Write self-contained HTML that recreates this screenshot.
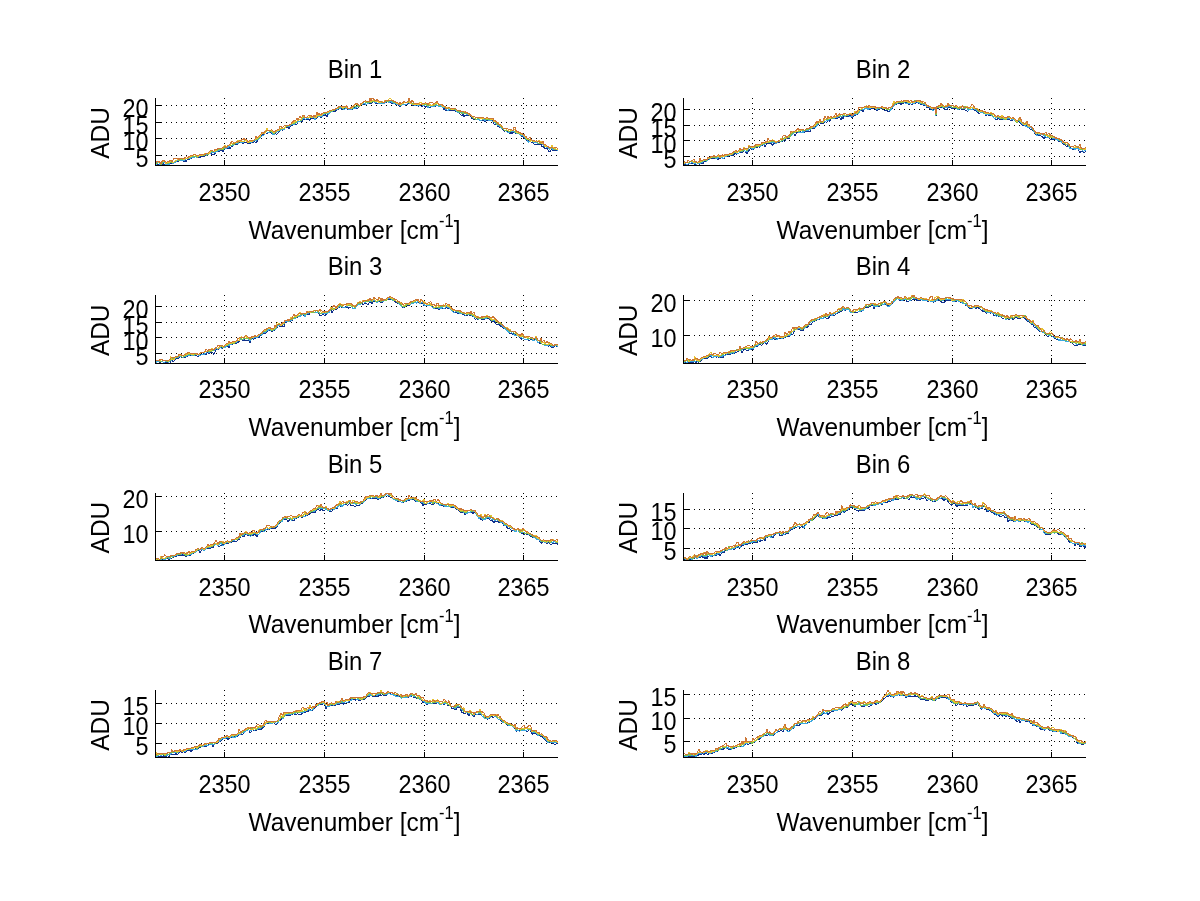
<!DOCTYPE html><html><head><meta charset="utf-8"><title>Bins</title><style>html,body{margin:0;padding:0;background:#fff;overflow:hidden}svg{display:block;will-change:transform}</style></head><body>
<svg width="1200" height="901" viewBox="0 0 1200 901" font-family="'Liberation Sans', Arial, Helvetica, sans-serif">
<rect width="1200" height="901" fill="#fff"/>
<g stroke="#000" stroke-width="1" stroke-dasharray="1 4" fill="none" shape-rendering="crispEdges"><line x1="156.0" y1="105.5" x2="557.5" y2="105.5"/><line x1="156.0" y1="122.5" x2="557.5" y2="122.5"/><line x1="156.0" y1="138.5" x2="557.5" y2="138.5"/><line x1="156.0" y1="155.5" x2="557.5" y2="155.5"/><line x1="224.5" y1="98.0" x2="224.5" y2="165.0"/><line x1="324.5" y1="98.0" x2="324.5" y2="165.0"/><line x1="424.5" y1="98.0" x2="424.5" y2="165.0"/><line x1="523.5" y1="98.0" x2="523.5" y2="165.0"/></g>
<polyline fill="none" stroke="#10308c" stroke-width="1" shape-rendering="crispEdges" points="156.0,165.3 157.0,165.5 158.0,164.5 159.0,164.0 160.0,164.5 161.0,165.5 162.0,164.7 163.0,163.2 164.0,164.5 165.0,164.3 166.0,165.2 167.0,165.2 168.0,165.5 169.0,165.5 170.0,164.3 171.0,162.1 172.0,163.4 173.0,163.5 174.0,163.2 175.0,162.6 176.0,162.0 177.0,161.7 178.0,161.4 179.0,161.0 180.0,160.9 181.0,160.5 182.0,160.1 183.0,161.0 184.0,162.0 185.0,160.4 186.0,161.6 187.0,160.0 188.0,159.6 189.0,159.4 190.0,158.9 191.0,158.4 192.0,157.9 193.0,157.3 194.0,157.0 195.0,156.7 196.0,157.0 197.0,157.5 198.0,157.2 199.0,157.5 200.0,157.3 201.0,156.7 202.0,156.2 203.0,156.3 204.0,156.3 205.0,155.6 206.0,155.5 207.0,155.7 208.0,155.0 209.0,153.9 210.0,152.9 211.0,153.7 212.0,154.5 213.0,154.5 214.0,154.5 215.0,153.5 216.0,151.7 217.0,151.7 218.0,151.8 219.0,151.4 220.0,151.0 221.0,150.3 222.0,150.1 223.0,151.5 224.0,150.0 225.0,148.4 226.0,148.9 227.0,147.2 228.0,148.9 229.0,147.7 230.0,148.6 231.0,146.9 232.0,146.5 233.0,145.4 234.0,144.4 235.0,144.5 236.0,144.2 237.0,143.9 238.0,144.2 239.0,142.8 240.0,143.1 241.0,142.8 242.0,142.7 243.0,143.3 244.0,142.6 245.0,142.3 246.0,141.9 247.0,142.9 248.0,143.7 249.0,143.9 250.0,143.6 251.0,142.0 252.0,143.1 253.0,142.5 254.0,141.9 255.0,141.8 256.0,142.5 257.0,141.6 258.0,139.7 259.0,138.5 260.0,137.2 261.0,136.1 262.0,134.9 263.0,134.4 264.0,134.4 265.0,132.8 266.0,132.8 267.0,134.1 268.0,133.2 269.0,132.4 270.0,132.3 271.0,132.8 272.0,134.3 273.0,133.9 274.0,134.4 275.0,133.8 276.0,133.9 277.0,134.3 278.0,133.0 279.0,131.8 280.0,130.7 281.0,129.7 282.0,130.1 283.0,130.1 284.0,129.4 285.0,128.2 286.0,127.4 287.0,127.1 288.0,127.0 289.0,128.4 290.0,127.0 291.0,126.2 292.0,125.5 293.0,124.9 294.0,124.5 295.0,124.0 296.0,124.2 297.0,124.3 298.0,121.9 299.0,122.0 300.0,121.7 301.0,120.7 302.0,121.5 303.0,118.6 304.0,119.9 305.0,119.0 306.0,119.5 307.0,119.4 308.0,119.3 309.0,119.3 310.0,120.4 311.0,117.7 312.0,118.6 313.0,118.4 314.0,118.5 315.0,119.8 316.0,118.6 317.0,117.4 318.0,116.8 319.0,116.2 320.0,116.6 321.0,117.4 322.0,117.1 323.0,116.1 324.0,115.7 325.0,115.2 326.0,114.7 327.0,116.5 328.0,114.4 329.0,113.3 330.0,112.2 331.0,112.2 332.0,111.5 333.0,111.3 334.0,111.1 335.0,111.3 336.0,110.7 337.0,110.1 338.0,109.5 339.0,108.6 340.0,108.5 341.0,108.6 342.0,109.3 343.0,110.0 344.0,109.9 345.0,108.7 346.0,108.4 347.0,108.5 348.0,109.5 349.0,109.2 350.0,110.0 351.0,109.8 352.0,109.4 353.0,108.6 354.0,107.7 355.0,107.6 356.0,107.6 357.0,109.1 358.0,108.2 359.0,107.3 360.0,106.1 361.0,105.0 362.0,104.6 363.0,104.0 364.0,104.2 365.0,104.4 366.0,104.3 367.0,103.9 368.0,103.8 369.0,103.5 370.0,102.9 371.0,103.5 372.0,102.7 373.0,101.5 374.0,101.7 375.0,103.1 376.0,103.5 377.0,103.1 378.0,103.6 379.0,103.9 380.0,103.6 381.0,103.4 382.0,103.1 383.0,103.6 384.0,103.9 385.0,102.8 386.0,102.4 387.0,101.0 388.0,101.0 389.0,101.5 390.0,102.0 391.0,102.7 392.0,103.5 393.0,102.3 394.0,103.3 395.0,103.9 396.0,104.7 397.0,104.9 398.0,105.1 399.0,106.3 400.0,107.3 401.0,105.9 402.0,105.0 403.0,104.2 404.0,103.9 405.0,104.5 406.0,105.3 407.0,104.3 408.0,103.5 409.0,102.9 410.0,103.4 411.0,104.2 412.0,104.7 413.0,105.2 414.0,105.4 415.0,105.6 416.0,105.5 417.0,105.3 418.0,105.9 419.0,106.2 420.0,105.4 421.0,105.9 422.0,106.5 423.0,104.9 424.0,105.4 425.0,107.3 426.0,106.6 427.0,106.5 428.0,108.0 429.0,107.5 430.0,107.4 431.0,106.0 432.0,105.8 433.0,106.0 434.0,106.1 435.0,106.3 436.0,105.4 437.0,105.7 438.0,105.6 439.0,107.3 440.0,106.1 441.0,106.4 442.0,106.8 443.0,107.6 444.0,110.2 445.0,107.5 446.0,110.4 447.0,110.3 448.0,110.1 449.0,109.7 450.0,110.2 451.0,110.2 452.0,110.3 453.0,110.7 454.0,111.1 455.0,110.8 456.0,111.3 457.0,112.2 458.0,112.9 459.0,112.8 460.0,114.3 461.0,115.0 462.0,116.0 463.0,113.4 464.0,116.5 465.0,115.7 466.0,114.9 467.0,115.6 468.0,116.0 469.0,114.7 470.0,115.8 471.0,116.8 472.0,118.6 473.0,119.0 474.0,119.4 475.0,119.4 476.0,119.3 477.0,119.6 478.0,119.3 479.0,119.8 480.0,120.9 481.0,120.7 482.0,120.5 483.0,120.3 484.0,120.7 485.0,121.3 486.0,121.2 487.0,120.6 488.0,120.8 489.0,120.9 490.0,121.0 491.0,120.7 492.0,120.3 493.0,120.7 494.0,124.0 495.0,125.3 496.0,123.6 497.0,125.1 498.0,126.5 499.0,126.8 500.0,127.2 501.0,127.5 502.0,128.6 503.0,129.7 504.0,131.2 505.0,131.1 506.0,130.8 507.0,131.4 508.0,131.8 509.0,132.7 510.0,133.6 511.0,131.3 512.0,133.5 513.0,132.1 514.0,132.5 515.0,133.0 516.0,133.9 517.0,133.9 518.0,133.8 519.0,133.9 520.0,134.3 521.0,135.6 522.0,136.7 523.0,136.8 524.0,137.7 525.0,138.5 526.0,139.3 527.0,140.3 528.0,139.8 529.0,141.1 530.0,140.9 531.0,142.0 532.0,142.1 533.0,142.1 534.0,144.0 535.0,144.5 536.0,145.0 537.0,144.2 538.0,143.8 539.0,144.3 540.0,144.6 541.0,144.1 542.0,146.5 543.0,146.2 544.0,147.5 545.0,148.3 546.0,149.1 547.0,148.6 548.0,150.0 549.0,151.4 550.0,151.6 551.0,150.3 552.0,149.0 553.0,150.9 554.0,150.9 555.0,150.9 556.0,150.9 557.0,150.9 558.0,151.0"/>
<polyline fill="none" stroke="#3aa8e0" stroke-width="1" shape-rendering="crispEdges" points="156.0,164.4 157.0,163.5 158.0,162.5 159.0,163.0 160.0,164.7 161.0,165.5 162.0,164.2 163.0,162.2 164.0,162.1 165.0,162.7 166.0,164.4 167.0,164.4 168.0,164.3 169.0,164.7 170.0,162.9 171.0,161.3 172.0,162.8 173.0,163.2 174.0,162.9 175.0,162.4 176.0,162.0 177.0,160.9 178.0,160.0 179.0,160.1 180.0,160.5 181.0,160.5 182.0,161.1 183.0,160.7 184.0,160.3 185.0,159.7 186.0,159.2 187.0,158.7 188.0,157.9 189.0,158.8 190.0,159.1 191.0,157.8 192.0,157.2 193.0,157.6 194.0,158.0 195.0,156.3 196.0,157.2 197.0,157.6 198.0,157.1 199.0,156.7 200.0,155.6 201.0,155.4 202.0,155.6 203.0,155.5 204.0,155.3 205.0,155.1 206.0,154.9 207.0,155.1 208.0,154.4 209.0,154.0 210.0,153.7 211.0,153.1 212.0,152.5 213.0,152.5 214.0,152.6 215.0,152.2 216.0,151.7 217.0,151.6 218.0,150.8 219.0,150.2 220.0,149.9 221.0,149.8 222.0,150.1 223.0,148.8 224.0,148.4 225.0,147.9 226.0,148.8 227.0,147.4 228.0,147.3 229.0,146.4 230.0,145.8 231.0,145.3 232.0,145.7 233.0,146.1 234.0,145.1 235.0,144.1 236.0,143.5 237.0,143.2 238.0,143.6 239.0,141.9 240.0,142.1 241.0,142.4 242.0,142.2 243.0,142.9 244.0,141.4 245.0,140.9 246.0,140.4 247.0,141.9 248.0,143.1 249.0,142.6 250.0,142.1 251.0,142.0 252.0,142.0 253.0,141.5 254.0,141.0 255.0,140.4 256.0,140.7 257.0,140.0 258.0,139.3 259.0,138.5 260.0,137.8 261.0,136.8 262.0,135.9 263.0,135.1 264.0,135.2 265.0,132.6 266.0,130.9 267.0,132.0 268.0,132.6 269.0,132.6 270.0,131.8 271.0,131.0 272.0,132.8 273.0,134.4 274.0,134.4 275.0,133.2 276.0,132.2 277.0,131.8 278.0,131.3 279.0,130.5 280.0,130.9 281.0,130.1 282.0,129.8 283.0,129.2 284.0,129.7 285.0,127.8 286.0,126.8 287.0,126.7 288.0,126.7 289.0,127.1 290.0,125.9 291.0,124.7 292.0,124.2 293.0,123.8 294.0,124.3 295.0,123.6 296.0,122.8 297.0,122.3 298.0,121.4 299.0,121.7 300.0,121.3 301.0,120.9 302.0,119.5 303.0,118.2 304.0,118.6 305.0,119.0 306.0,119.1 307.0,118.8 308.0,118.5 309.0,118.1 310.0,117.6 311.0,117.5 312.0,117.3 313.0,117.4 314.0,117.5 315.0,120.1 316.0,117.9 317.0,115.6 318.0,116.2 319.0,116.8 320.0,115.0 321.0,116.4 322.0,116.5 323.0,115.1 324.0,114.5 325.0,113.7 326.0,113.5 327.0,113.4 328.0,113.3 329.0,114.4 330.0,112.1 331.0,112.1 332.0,111.4 333.0,110.8 334.0,110.7 335.0,110.2 336.0,109.5 337.0,109.2 338.0,108.9 339.0,107.8 340.0,108.3 341.0,107.4 342.0,108.1 343.0,109.0 344.0,109.2 345.0,108.9 346.0,108.8 347.0,108.7 348.0,109.0 349.0,109.5 350.0,110.0 351.0,109.4 352.0,108.8 353.0,108.9 354.0,108.5 355.0,108.7 356.0,107.4 357.0,106.1 358.0,106.5 359.0,106.5 360.0,105.7 361.0,104.8 362.0,104.4 363.0,103.5 364.0,103.3 365.0,103.4 366.0,104.4 367.0,103.9 368.0,103.4 369.0,102.7 370.0,102.9 371.0,103.0 372.0,102.3 373.0,101.2 374.0,101.5 375.0,102.3 376.0,102.5 377.0,101.9 378.0,101.8 379.0,103.4 380.0,103.5 381.0,103.0 382.0,103.0 383.0,103.7 384.0,103.7 385.0,102.9 386.0,102.1 387.0,100.9 388.0,101.8 389.0,102.7 390.0,101.1 391.0,101.7 392.0,102.6 393.0,103.2 394.0,103.7 395.0,102.9 396.0,103.4 397.0,104.4 398.0,104.8 399.0,105.1 400.0,105.9 401.0,105.3 402.0,104.9 403.0,104.2 404.0,104.1 405.0,104.2 406.0,104.3 407.0,103.9 408.0,103.0 409.0,102.1 410.0,103.7 411.0,104.1 412.0,104.4 413.0,104.7 414.0,104.9 415.0,105.5 416.0,104.7 417.0,104.8 418.0,105.3 419.0,105.9 420.0,105.0 421.0,104.7 422.0,105.0 423.0,105.5 424.0,105.4 425.0,105.1 426.0,104.8 427.0,106.1 428.0,107.5 429.0,104.4 430.0,105.9 431.0,106.1 432.0,106.2 433.0,106.2 434.0,106.3 435.0,105.6 436.0,104.8 437.0,105.2 438.0,105.1 439.0,106.8 440.0,105.8 441.0,106.3 442.0,106.2 443.0,107.8 444.0,106.8 445.0,107.8 446.0,109.5 447.0,110.0 448.0,110.6 449.0,108.5 450.0,109.9 451.0,109.8 452.0,109.7 453.0,109.8 454.0,110.0 455.0,109.9 456.0,110.7 457.0,111.6 458.0,113.2 459.0,112.4 460.0,112.1 461.0,112.5 462.0,113.3 463.0,113.2 464.0,113.3 465.0,113.3 466.0,113.8 467.0,115.3 468.0,114.0 469.0,115.0 470.0,116.1 471.0,115.7 472.0,116.9 473.0,118.2 474.0,118.9 475.0,118.9 476.0,119.3 477.0,119.5 478.0,118.8 479.0,119.6 480.0,120.5 481.0,120.2 482.0,120.0 483.0,119.8 484.0,119.7 485.0,120.3 486.0,119.8 487.0,119.2 488.0,120.2 489.0,119.8 490.0,120.5 491.0,120.5 492.0,120.9 493.0,121.3 494.0,122.0 495.0,122.6 496.0,123.5 497.0,124.4 498.0,125.4 499.0,126.0 500.0,126.6 501.0,127.7 502.0,128.8 503.0,129.1 504.0,130.0 505.0,130.9 506.0,130.1 507.0,131.7 508.0,133.2 509.0,132.4 510.0,131.6 511.0,131.0 512.0,131.3 513.0,131.5 514.0,131.8 515.0,132.2 516.0,133.1 517.0,133.0 518.0,133.1 519.0,133.8 520.0,134.8 521.0,135.5 522.0,136.0 523.0,135.8 524.0,136.3 525.0,138.2 526.0,139.4 527.0,140.2 528.0,142.2 529.0,141.8 530.0,141.3 531.0,140.3 532.0,141.0 533.0,141.8 534.0,142.6 535.0,143.0 536.0,142.5 537.0,143.1 538.0,143.1 539.0,143.1 540.0,143.7 541.0,143.5 542.0,144.0 543.0,144.5 544.0,146.1 545.0,146.9 546.0,147.0 547.0,147.1 548.0,148.2 549.0,149.2 550.0,149.0 551.0,148.7 552.0,148.5 553.0,149.4 554.0,149.5 555.0,149.7 556.0,149.7 557.0,149.7 558.0,151.0"/>
<polyline fill="none" stroke="#7cc04c" stroke-width="1" shape-rendering="crispEdges" points="156.0,163.5 157.0,162.9 158.0,163.2 159.0,162.7 160.0,162.1 161.0,165.4 162.0,163.6 163.0,161.8 164.0,161.7 165.0,161.6 166.0,163.0 167.0,162.9 168.0,163.2 169.0,162.8 170.0,162.5 171.0,161.6 172.0,163.1 173.0,162.9 174.0,161.8 175.0,161.7 176.0,160.8 177.0,160.0 178.0,159.8 179.0,160.4 180.0,159.8 181.0,159.2 182.0,159.1 183.0,159.4 184.0,159.3 185.0,158.3 186.0,158.6 187.0,158.6 188.0,158.6 189.0,157.9 190.0,157.3 191.0,156.7 192.0,156.7 193.0,156.6 194.0,156.2 195.0,156.0 196.0,156.2 197.0,157.0 198.0,157.0 199.0,156.2 200.0,155.0 201.0,155.2 202.0,155.5 203.0,155.6 204.0,155.2 205.0,154.9 206.0,154.9 207.0,155.2 208.0,154.4 209.0,153.5 210.0,152.6 211.0,151.5 212.0,151.2 213.0,151.9 214.0,152.1 215.0,151.6 216.0,151.2 217.0,150.5 218.0,149.8 219.0,149.6 220.0,149.5 221.0,149.1 222.0,149.1 223.0,149.3 224.0,148.4 225.0,147.3 226.0,148.2 227.0,147.1 228.0,146.0 229.0,144.9 230.0,146.0 231.0,145.5 232.0,145.0 233.0,144.9 234.0,144.8 235.0,143.5 236.0,143.1 237.0,142.4 238.0,142.7 239.0,142.1 240.0,141.7 241.0,141.6 242.0,141.7 243.0,142.0 244.0,141.0 245.0,140.8 246.0,140.5 247.0,140.4 248.0,142.3 249.0,142.6 250.0,141.6 251.0,140.8 252.0,141.1 253.0,140.9 254.0,140.3 255.0,139.6 256.0,139.6 257.0,139.7 258.0,138.7 259.0,137.7 260.0,136.6 261.0,135.3 262.0,133.9 263.0,132.6 264.0,133.2 265.0,132.3 266.0,131.2 267.0,131.0 268.0,130.9 269.0,131.0 270.0,131.2 271.0,131.0 272.0,131.7 273.0,132.6 274.0,133.3 275.0,132.4 276.0,131.5 277.0,130.8 278.0,130.3 279.0,130.4 280.0,129.5 281.0,128.5 282.0,127.5 283.0,128.6 284.0,129.1 285.0,127.9 286.0,126.7 287.0,126.3 288.0,125.7 289.0,126.1 290.0,125.2 291.0,124.4 292.0,123.7 293.0,122.5 294.0,123.5 295.0,123.0 296.0,122.5 297.0,121.3 298.0,119.6 299.0,119.5 300.0,119.1 301.0,120.9 302.0,119.0 303.0,117.2 304.0,117.5 305.0,117.7 306.0,118.0 307.0,117.8 308.0,117.5 309.0,117.5 310.0,117.4 311.0,117.2 312.0,118.2 313.0,116.8 314.0,116.1 315.0,116.8 316.0,116.7 317.0,116.5 318.0,115.6 319.0,115.0 320.0,115.2 321.0,115.4 322.0,114.8 323.0,114.1 324.0,113.6 325.0,113.5 326.0,113.3 327.0,112.6 328.0,111.9 329.0,111.9 330.0,111.8 331.0,111.3 332.0,110.9 333.0,110.7 334.0,110.5 335.0,110.0 336.0,108.9 337.0,108.7 338.0,108.4 339.0,107.7 340.0,106.6 341.0,107.0 342.0,108.0 343.0,108.3 344.0,107.8 345.0,107.8 346.0,107.8 347.0,108.0 348.0,108.6 349.0,108.6 350.0,108.6 351.0,108.5 352.0,108.3 353.0,107.5 354.0,106.7 355.0,106.9 356.0,107.1 357.0,105.7 358.0,106.1 359.0,106.5 360.0,105.3 361.0,104.1 362.0,103.5 363.0,102.4 364.0,101.4 365.0,101.5 366.0,102.4 367.0,102.5 368.0,102.6 369.0,102.5 370.0,102.4 371.0,102.3 372.0,101.5 373.0,101.2 374.0,101.0 375.0,101.6 376.0,102.1 377.0,101.8 378.0,101.4 379.0,101.5 380.0,102.4 381.0,102.8 382.0,102.2 383.0,102.4 384.0,102.5 385.0,102.2 386.0,101.1 387.0,101.1 388.0,101.1 389.0,101.2 390.0,100.5 391.0,100.2 392.0,101.0 393.0,102.2 394.0,102.2 395.0,102.2 396.0,102.4 397.0,102.5 398.0,103.9 399.0,103.6 400.0,105.0 401.0,105.0 402.0,104.3 403.0,103.3 404.0,102.8 405.0,102.9 406.0,102.9 407.0,102.7 408.0,102.7 409.0,102.3 410.0,103.0 411.0,103.6 412.0,104.0 413.0,103.5 414.0,104.2 415.0,104.9 416.0,104.3 417.0,103.8 418.0,104.4 419.0,105.0 420.0,104.3 421.0,104.2 422.0,103.7 423.0,103.3 424.0,104.9 425.0,104.4 426.0,104.6 427.0,105.3 428.0,105.9 429.0,104.6 430.0,105.7 431.0,105.7 432.0,105.4 433.0,104.9 434.0,105.2 435.0,104.9 436.0,105.0 437.0,103.7 438.0,104.0 439.0,106.1 440.0,104.8 441.0,105.0 442.0,105.0 443.0,106.7 444.0,107.1 445.0,107.4 446.0,108.9 447.0,108.3 448.0,108.3 449.0,107.8 450.0,109.2 451.0,109.5 452.0,109.3 453.0,109.3 454.0,109.3 455.0,108.7 456.0,109.7 457.0,110.7 458.0,111.5 459.0,111.5 460.0,112.4 461.0,113.0 462.0,113.5 463.0,112.2 464.0,112.8 465.0,113.4 466.0,113.2 467.0,113.3 468.0,114.3 469.0,114.8 470.0,115.4 471.0,115.1 472.0,116.3 473.0,117.4 474.0,118.7 475.0,117.9 476.0,119.4 477.0,119.0 478.0,118.5 479.0,118.1 480.0,118.3 481.0,118.9 482.0,119.0 483.0,119.2 484.0,118.6 485.0,119.1 486.0,119.6 487.0,118.4 488.0,119.4 489.0,119.1 490.0,119.7 491.0,119.1 492.0,118.6 493.0,118.8 494.0,121.2 495.0,122.0 496.0,123.1 497.0,124.4 498.0,125.0 499.0,124.7 500.0,125.8 501.0,126.8 502.0,127.8 503.0,128.3 504.0,129.9 505.0,130.5 506.0,129.9 507.0,130.2 508.0,131.1 509.0,131.1 510.0,131.2 511.0,131.2 512.0,130.7 513.0,130.5 514.0,130.9 515.0,131.3 516.0,132.4 517.0,132.8 518.0,133.2 519.0,133.3 520.0,133.6 521.0,134.6 522.0,134.8 523.0,135.0 524.0,136.1 525.0,137.2 526.0,138.7 527.0,139.8 528.0,139.4 529.0,138.7 530.0,140.4 531.0,140.3 532.0,141.1 533.0,142.0 534.0,141.3 535.0,141.2 536.0,141.9 537.0,141.9 538.0,143.2 539.0,143.1 540.0,143.6 541.0,143.2 542.0,143.7 543.0,143.7 544.0,144.2 545.0,146.5 546.0,147.2 547.0,146.0 548.0,147.1 549.0,148.1 550.0,148.0 551.0,147.9 552.0,147.7 553.0,148.6 554.0,148.8 555.0,149.2 556.0,149.8 557.0,148.9 558.0,149.0"/>
<polyline fill="none" stroke="#e8c030" stroke-width="1" shape-rendering="crispEdges" points="156.0,162.9 157.0,162.0 158.0,161.9 159.0,162.9 160.0,162.9 161.0,163.6 162.0,162.2 163.0,160.7 164.0,161.4 165.0,162.2 166.0,164.1 167.0,162.7 168.0,162.8 169.0,163.1 170.0,162.0 171.0,160.3 172.0,162.0 173.0,162.5 174.0,161.8 175.0,160.9 176.0,160.3 177.0,160.0 178.0,159.3 179.0,158.8 180.0,158.0 181.0,158.4 182.0,158.4 183.0,159.0 184.0,159.3 185.0,158.7 186.0,158.3 187.0,158.4 188.0,157.9 189.0,157.4 190.0,156.8 191.0,156.3 192.0,155.8 193.0,155.4 194.0,154.4 195.0,154.4 196.0,155.5 197.0,156.2 198.0,156.1 199.0,156.0 200.0,155.1 201.0,155.0 202.0,155.1 203.0,155.1 204.0,154.4 205.0,153.7 206.0,154.1 207.0,153.9 208.0,153.9 209.0,153.8 210.0,152.4 211.0,151.0 212.0,150.1 213.0,150.9 214.0,151.8 215.0,150.9 216.0,150.5 217.0,149.7 218.0,148.9 219.0,148.4 220.0,148.0 221.0,148.0 222.0,148.5 223.0,148.1 224.0,146.6 225.0,145.2 226.0,147.1 227.0,146.7 228.0,145.9 229.0,145.1 230.0,145.2 231.0,143.8 232.0,143.7 233.0,143.6 234.0,143.9 235.0,142.2 236.0,142.5 237.0,141.0 238.0,140.4 239.0,141.5 240.0,141.0 241.0,141.4 242.0,140.9 243.0,141.4 244.0,141.2 245.0,140.9 246.0,140.0 247.0,141.4 248.0,142.6 249.0,142.0 250.0,141.3 251.0,141.9 252.0,141.5 253.0,140.6 254.0,140.1 255.0,139.5 256.0,138.6 257.0,138.6 258.0,137.6 259.0,135.8 260.0,136.5 261.0,135.2 262.0,133.8 263.0,133.5 264.0,134.1 265.0,133.1 266.0,130.0 267.0,128.3 268.0,131.0 269.0,130.3 270.0,130.4 271.0,130.2 272.0,130.5 273.0,132.1 274.0,132.6 275.0,132.1 276.0,131.6 277.0,130.8 278.0,130.0 279.0,130.0 280.0,129.2 281.0,128.4 282.0,128.1 283.0,128.1 284.0,128.0 285.0,127.5 286.0,126.0 287.0,125.8 288.0,125.6 289.0,126.1 290.0,125.1 291.0,124.2 292.0,123.3 293.0,122.6 294.0,122.5 295.0,121.1 296.0,121.1 297.0,121.1 298.0,120.0 299.0,120.2 300.0,119.5 301.0,119.4 302.0,117.9 303.0,116.8 304.0,116.6 305.0,117.2 306.0,117.8 307.0,116.8 308.0,117.3 309.0,117.2 310.0,116.7 311.0,116.7 312.0,117.4 313.0,116.9 314.0,116.1 315.0,117.7 316.0,117.5 317.0,115.6 318.0,115.5 319.0,115.4 320.0,114.7 321.0,115.4 322.0,114.7 323.0,113.7 324.0,112.8 325.0,112.7 326.0,112.5 327.0,112.9 328.0,112.5 329.0,111.9 330.0,110.8 331.0,110.5 332.0,110.3 333.0,109.9 334.0,110.0 335.0,109.6 336.0,108.9 337.0,108.6 338.0,107.3 339.0,106.2 340.0,106.5 341.0,106.8 342.0,107.5 343.0,107.6 344.0,107.7 345.0,106.0 346.0,107.0 347.0,108.3 348.0,108.2 349.0,108.1 350.0,108.8 351.0,107.7 352.0,108.3 353.0,106.9 354.0,105.5 355.0,105.0 356.0,104.6 357.0,104.8 358.0,105.0 359.0,105.7 360.0,105.4 361.0,105.0 362.0,103.4 363.0,101.7 364.0,102.0 365.0,101.4 366.0,101.6 367.0,101.7 368.0,101.9 369.0,101.3 370.0,100.4 371.0,101.7 372.0,100.7 373.0,100.3 374.0,99.9 375.0,100.7 376.0,101.6 377.0,101.6 378.0,101.7 379.0,102.2 380.0,102.7 381.0,102.1 382.0,101.5 383.0,102.3 384.0,102.9 385.0,100.4 386.0,100.4 387.0,100.4 388.0,100.3 389.0,99.1 390.0,98.0 391.0,98.8 392.0,99.8 393.0,100.9 394.0,101.7 395.0,101.5 396.0,102.7 397.0,103.7 398.0,103.6 399.0,103.6 400.0,104.7 401.0,104.6 402.0,103.7 403.0,103.5 404.0,102.7 405.0,101.9 406.0,102.4 407.0,102.3 408.0,101.8 409.0,101.7 410.0,102.6 411.0,103.5 412.0,104.0 413.0,104.5 414.0,104.5 415.0,104.6 416.0,104.3 417.0,103.7 418.0,104.4 419.0,103.8 420.0,102.7 421.0,102.3 422.0,104.0 423.0,104.3 424.0,103.6 425.0,103.1 426.0,103.1 427.0,103.7 428.0,104.5 429.0,103.4 430.0,104.8 431.0,105.2 432.0,105.5 433.0,104.6 434.0,104.3 435.0,103.7 436.0,103.0 437.0,103.3 438.0,103.7 439.0,104.0 440.0,104.1 441.0,104.9 442.0,105.8 443.0,106.5 444.0,106.8 445.0,106.6 446.0,108.7 447.0,107.3 448.0,107.7 449.0,107.7 450.0,108.3 451.0,109.0 452.0,109.3 453.0,109.2 454.0,108.8 455.0,108.4 456.0,108.8 457.0,110.6 458.0,110.8 459.0,110.2 460.0,111.1 461.0,111.4 462.0,111.8 463.0,111.6 464.0,111.5 465.0,112.3 466.0,112.5 467.0,113.1 468.0,114.0 469.0,114.0 470.0,114.5 471.0,115.1 472.0,116.5 473.0,117.1 474.0,118.0 475.0,118.1 476.0,117.8 477.0,117.3 478.0,117.7 479.0,118.1 480.0,118.4 481.0,118.5 482.0,118.6 483.0,118.5 484.0,118.5 485.0,118.5 486.0,118.9 487.0,117.7 488.0,118.3 489.0,118.1 490.0,118.6 491.0,119.3 492.0,119.4 493.0,119.7 494.0,121.4 495.0,121.2 496.0,122.0 497.0,123.3 498.0,121.9 499.0,125.0 500.0,124.9 501.0,125.7 502.0,126.6 503.0,128.2 504.0,128.9 505.0,128.6 506.0,128.9 507.0,130.3 508.0,130.5 509.0,129.8 510.0,130.0 511.0,130.3 512.0,130.6 513.0,130.4 514.0,130.1 515.0,128.9 516.0,130.9 517.0,132.4 518.0,132.4 519.0,132.6 520.0,133.3 521.0,134.0 522.0,134.2 523.0,134.1 524.0,135.7 525.0,136.4 526.0,138.1 527.0,138.5 528.0,138.8 529.0,140.0 530.0,141.2 531.0,140.8 532.0,140.7 533.0,141.1 534.0,141.6 535.0,141.4 536.0,141.2 537.0,141.4 538.0,142.0 539.0,140.5 540.0,140.9 541.0,141.6 542.0,143.4 543.0,143.6 544.0,145.1 545.0,145.8 546.0,146.2 547.0,146.6 548.0,147.0 549.0,147.9 550.0,148.0 551.0,148.1 552.0,145.3 553.0,147.0 554.0,148.0 555.0,148.9 556.0,149.0 557.0,149.1 558.0,149.8"/>
<polyline fill="none" stroke="#cc7636" stroke-width="1" shape-rendering="crispEdges" points="156.0,162.3 157.0,161.5 158.0,160.8 159.0,161.6 160.0,162.4 161.0,163.8 162.0,161.6 163.0,160.3 164.0,160.8 165.0,161.3 166.0,162.3 167.0,161.9 168.0,162.1 169.0,161.4 170.0,160.7 171.0,159.9 172.0,161.5 173.0,160.4 174.0,158.5 175.0,158.2 176.0,158.0 177.0,158.9 178.0,158.2 179.0,159.6 180.0,158.2 181.0,158.5 182.0,158.9 183.0,158.6 184.0,158.3 185.0,157.6 186.0,156.9 187.0,157.1 188.0,157.3 189.0,156.7 190.0,155.8 191.0,155.9 192.0,155.5 193.0,155.1 194.0,154.7 195.0,154.4 196.0,154.9 197.0,155.7 198.0,155.9 199.0,155.0 200.0,154.7 201.0,154.4 202.0,154.0 203.0,154.4 204.0,154.9 205.0,154.3 206.0,153.7 207.0,153.9 208.0,153.2 209.0,152.1 210.0,151.0 211.0,150.7 212.0,150.2 213.0,150.8 214.0,151.4 215.0,149.6 216.0,149.5 217.0,149.5 218.0,148.4 219.0,148.7 220.0,149.0 221.0,148.7 222.0,147.8 223.0,148.0 224.0,146.9 225.0,146.5 226.0,148.0 227.0,146.7 228.0,145.5 229.0,145.1 230.0,144.1 231.0,142.5 232.0,140.9 233.0,142.1 234.0,143.4 235.0,142.9 236.0,142.1 237.0,141.7 238.0,142.2 239.0,140.9 240.0,140.0 241.0,140.9 242.0,139.7 243.0,139.4 244.0,137.7 245.0,139.9 246.0,139.0 247.0,140.2 248.0,141.4 249.0,141.0 250.0,140.7 251.0,140.5 252.0,140.7 253.0,140.4 254.0,139.8 255.0,139.2 256.0,136.5 257.0,137.3 258.0,137.1 259.0,136.1 260.0,135.0 261.0,133.8 262.0,132.6 263.0,132.6 264.0,133.4 265.0,131.4 266.0,131.2 267.0,130.3 268.0,130.7 269.0,130.6 270.0,130.6 271.0,129.8 272.0,129.9 273.0,130.8 274.0,131.9 275.0,131.8 276.0,130.7 277.0,130.2 278.0,129.5 279.0,128.8 280.0,125.8 281.0,126.4 282.0,127.7 283.0,127.2 284.0,126.0 285.0,125.8 286.0,125.6 287.0,126.0 288.0,125.3 289.0,125.5 290.0,124.4 291.0,123.8 292.0,122.6 293.0,121.6 294.0,120.7 295.0,120.4 296.0,120.0 297.0,118.0 298.0,119.8 299.0,118.4 300.0,116.6 301.0,117.5 302.0,117.1 303.0,115.5 304.0,115.6 305.0,117.4 306.0,117.5 307.0,117.0 308.0,116.2 309.0,115.4 310.0,115.7 311.0,115.5 312.0,117.0 313.0,116.2 314.0,115.7 315.0,116.4 316.0,115.5 317.0,112.3 318.0,114.5 319.0,113.4 320.0,114.3 321.0,115.1 322.0,113.5 323.0,113.0 324.0,112.7 325.0,112.4 326.0,113.0 327.0,112.1 328.0,111.2 329.0,110.9 330.0,110.5 331.0,110.8 332.0,109.9 333.0,109.1 334.0,109.9 335.0,109.4 336.0,108.6 337.0,107.8 338.0,107.2 339.0,106.8 340.0,106.5 341.0,106.3 342.0,106.1 343.0,106.0 344.0,106.7 345.0,107.1 346.0,106.3 347.0,105.8 348.0,108.4 349.0,108.2 350.0,108.7 351.0,107.4 352.0,105.9 353.0,106.7 354.0,105.2 355.0,104.3 356.0,103.8 357.0,103.4 358.0,104.4 359.0,105.4 360.0,104.9 361.0,103.2 362.0,103.0 363.0,102.3 364.0,101.7 365.0,100.9 366.0,100.9 367.0,101.5 368.0,101.5 369.0,101.5 370.0,98.5 371.0,100.7 372.0,98.5 373.0,98.8 374.0,99.2 375.0,100.6 376.0,100.5 377.0,99.7 378.0,100.7 379.0,101.0 380.0,101.4 381.0,101.7 382.0,101.9 383.0,102.2 384.0,102.5 385.0,101.4 386.0,100.2 387.0,100.0 388.0,100.0 389.0,100.0 390.0,100.2 391.0,100.2 392.0,100.0 393.0,100.3 394.0,101.4 395.0,101.7 396.0,102.2 397.0,102.6 398.0,102.9 399.0,104.8 400.0,102.5 401.0,103.6 402.0,103.1 403.0,102.5 404.0,101.3 405.0,102.0 406.0,102.7 407.0,102.1 408.0,101.5 409.0,98.4 410.0,100.7 411.0,103.1 412.0,100.0 413.0,101.5 414.0,103.0 415.0,103.6 416.0,103.7 417.0,103.3 418.0,103.4 419.0,104.2 420.0,104.0 421.0,104.0 422.0,104.1 423.0,103.8 424.0,103.5 425.0,102.8 426.0,102.8 427.0,103.4 428.0,105.2 429.0,102.8 430.0,102.7 431.0,102.4 432.0,102.1 433.0,103.0 434.0,104.3 435.0,103.2 436.0,102.4 437.0,101.5 438.0,103.3 439.0,105.0 440.0,104.1 441.0,104.2 442.0,104.4 443.0,105.4 444.0,105.9 445.0,106.3 446.0,108.8 447.0,108.5 448.0,108.1 449.0,107.7 450.0,108.0 451.0,108.3 452.0,108.9 453.0,109.0 454.0,108.1 455.0,108.3 456.0,109.3 457.0,110.0 458.0,110.8 459.0,110.7 460.0,110.7 461.0,111.2 462.0,111.4 463.0,111.3 464.0,111.9 465.0,112.5 466.0,111.7 467.0,112.8 468.0,113.3 469.0,113.7 470.0,114.2 471.0,115.5 472.0,116.1 473.0,116.7 474.0,116.5 475.0,116.7 476.0,118.1 477.0,117.6 478.0,117.1 479.0,117.6 480.0,117.7 481.0,117.6 482.0,117.6 483.0,117.7 484.0,118.1 485.0,118.5 486.0,118.1 487.0,117.2 488.0,117.8 489.0,118.4 490.0,118.8 491.0,118.2 492.0,119.2 493.0,118.2 494.0,120.4 495.0,120.6 496.0,121.5 497.0,122.5 498.0,123.5 499.0,124.6 500.0,124.3 501.0,124.8 502.0,126.7 503.0,127.8 504.0,128.8 505.0,128.6 506.0,128.2 507.0,128.1 508.0,129.3 509.0,129.7 510.0,129.6 511.0,129.4 512.0,129.8 513.0,130.7 514.0,127.2 515.0,127.4 516.0,130.8 517.0,131.2 518.0,131.5 519.0,132.3 520.0,132.3 521.0,133.5 522.0,133.4 523.0,134.5 524.0,134.3 525.0,135.9 526.0,136.2 527.0,137.9 528.0,139.3 529.0,138.3 530.0,137.2 531.0,139.4 532.0,140.2 533.0,140.4 534.0,140.9 535.0,141.0 536.0,141.0 537.0,140.9 538.0,141.4 539.0,141.8 540.0,142.3 541.0,141.9 542.0,142.8 543.0,140.8 544.0,145.1 545.0,144.4 546.0,145.2 547.0,146.0 548.0,146.2 549.0,147.8 550.0,147.6 551.0,147.4 552.0,147.3 553.0,148.1 554.0,148.1 555.0,147.8 556.0,147.6 557.0,148.2 558.0,148.9"/>
<g stroke="#000" stroke-width="1" fill="none" shape-rendering="crispEdges">
<line x1="155.5" y1="98.0" x2="155.5" y2="166.0"/>
<line x1="155.0" y1="165.5" x2="557.5" y2="165.5"/>
<line x1="155.5" y1="105.5" x2="162.0" y2="105.5"/>
<line x1="155.5" y1="122.5" x2="162.0" y2="122.5"/>
<line x1="155.5" y1="138.5" x2="162.0" y2="138.5"/>
<line x1="155.5" y1="155.5" x2="162.0" y2="155.5"/>
<line x1="224.5" y1="165.5" x2="224.5" y2="159.5"/>
<line x1="324.5" y1="165.5" x2="324.5" y2="159.5"/>
<line x1="424.5" y1="165.5" x2="424.5" y2="159.5"/>
<line x1="523.5" y1="165.5" x2="523.5" y2="159.5"/>
</g>
<g fill="#000" font-size="26">
<text transform="translate(355.0,78.0) scale(0.920,1)" text-anchor="middle">Bin 1</text>
<text transform="translate(224.5,201.0) scale(0.900,1)" text-anchor="middle">2350</text>
<text transform="translate(324.5,201.0) scale(0.900,1)" text-anchor="middle">2355</text>
<text transform="translate(424.5,201.0) scale(0.900,1)" text-anchor="middle">2360</text>
<text transform="translate(523.5,201.0) scale(0.900,1)" text-anchor="middle">2365</text>
<text transform="translate(148.5,117.2) scale(0.900,1)" text-anchor="end">20</text>
<text transform="translate(148.5,134.2) scale(0.900,1)" text-anchor="end">15</text>
<text transform="translate(148.5,150.2) scale(0.900,1)" text-anchor="end">10</text>
<text transform="translate(148.5,167.2) scale(0.900,1)" text-anchor="end">5</text>
<text transform="translate(354.5,238.8) scale(0.940,1)" text-anchor="middle">Wavenumber [cm<tspan font-size="17.5" dy="-11.8">-1</tspan><tspan dy="11.8">]</tspan></text>
<text transform="translate(108.5,133.0) rotate(-90) scale(0.940,1)" text-anchor="middle">ADU</text>
</g>
<g stroke="#000" stroke-width="1" stroke-dasharray="1 4" fill="none" shape-rendering="crispEdges"><line x1="684.0" y1="109.5" x2="1085.5" y2="109.5"/><line x1="684.0" y1="125.5" x2="1085.5" y2="125.5"/><line x1="684.0" y1="140.5" x2="1085.5" y2="140.5"/><line x1="684.0" y1="156.5" x2="1085.5" y2="156.5"/><line x1="752.5" y1="98.0" x2="752.5" y2="165.0"/><line x1="852.5" y1="98.0" x2="852.5" y2="165.0"/><line x1="952.5" y1="98.0" x2="952.5" y2="165.0"/><line x1="1051.5" y1="98.0" x2="1051.5" y2="165.0"/></g>
<polyline fill="none" stroke="#10308c" stroke-width="1" shape-rendering="crispEdges" points="684.0,164.4 685.0,164.1 686.0,164.0 687.0,164.6 688.0,164.9 689.0,164.2 690.0,163.0 691.0,163.2 692.0,163.4 693.0,163.3 694.0,164.2 695.0,164.1 696.0,164.1 697.0,165.3 698.0,165.4 699.0,165.3 700.0,164.1 701.0,163.4 702.0,163.5 703.0,163.6 704.0,162.2 705.0,161.5 706.0,161.5 707.0,161.4 708.0,159.3 709.0,158.8 710.0,158.5 711.0,158.2 712.0,158.5 713.0,158.8 714.0,158.3 715.0,158.6 716.0,158.5 717.0,159.2 718.0,160.0 719.0,158.5 720.0,159.1 721.0,158.0 722.0,156.9 723.0,158.5 724.0,159.1 725.0,157.3 726.0,156.2 727.0,156.8 728.0,156.5 729.0,156.1 730.0,155.8 731.0,155.5 732.0,155.8 733.0,155.7 734.0,154.5 735.0,153.4 736.0,153.8 737.0,154.2 738.0,153.4 739.0,153.0 740.0,152.7 741.0,152.8 742.0,153.0 743.0,151.8 744.0,150.7 745.0,150.7 746.0,152.4 747.0,154.1 748.0,150.1 749.0,151.4 750.0,148.7 751.0,148.9 752.0,150.2 753.0,149.4 754.0,148.6 755.0,148.1 756.0,147.6 757.0,147.2 758.0,146.8 759.0,147.1 760.0,146.9 761.0,146.2 762.0,145.5 763.0,144.9 764.0,144.8 765.0,146.6 766.0,145.0 767.0,143.3 768.0,143.2 769.0,143.0 770.0,143.5 771.0,143.3 772.0,144.5 773.0,145.4 774.0,142.9 775.0,143.2 776.0,143.5 777.0,143.0 778.0,142.5 779.0,143.0 780.0,141.2 781.0,141.6 782.0,142.1 783.0,140.4 784.0,140.9 785.0,141.4 786.0,138.1 787.0,138.6 788.0,138.5 789.0,138.4 790.0,137.3 791.0,136.1 792.0,135.0 793.0,134.0 794.0,133.8 795.0,135.4 796.0,133.7 797.0,132.5 798.0,132.1 799.0,131.7 800.0,131.9 801.0,132.1 802.0,132.0 803.0,131.8 804.0,132.0 805.0,132.1 806.0,131.5 807.0,131.0 808.0,131.2 809.0,130.9 810.0,132.1 811.0,128.6 812.0,128.6 813.0,128.5 814.0,128.5 815.0,127.6 816.0,126.6 817.0,125.5 818.0,124.4 819.0,123.1 820.0,122.9 821.0,123.5 822.0,123.7 823.0,123.8 824.0,123.1 825.0,121.5 826.0,121.9 827.0,122.2 828.0,119.8 829.0,120.8 830.0,121.2 831.0,118.7 832.0,119.1 833.0,118.9 834.0,118.8 835.0,118.3 836.0,118.4 837.0,118.2 838.0,117.8 839.0,117.5 840.0,117.9 841.0,119.7 842.0,117.2 843.0,118.5 844.0,115.7 845.0,115.9 846.0,116.2 847.0,116.3 848.0,116.3 849.0,115.9 850.0,115.6 851.0,116.1 852.0,117.4 853.0,116.7 854.0,115.3 855.0,115.1 856.0,115.1 857.0,114.9 858.0,113.8 859.0,112.0 860.0,111.2 861.0,110.2 862.0,109.9 863.0,111.5 864.0,109.9 865.0,108.3 866.0,108.2 867.0,108.2 868.0,108.6 869.0,107.6 870.0,109.4 871.0,108.5 872.0,108.5 873.0,108.9 874.0,108.7 875.0,108.5 876.0,110.0 877.0,110.4 878.0,109.4 879.0,109.3 880.0,108.8 881.0,108.9 882.0,108.8 883.0,109.2 884.0,110.1 885.0,110.5 886.0,110.1 887.0,110.5 888.0,111.6 889.0,111.9 890.0,111.1 891.0,110.0 892.0,108.4 893.0,107.2 894.0,106.3 895.0,104.3 896.0,105.3 897.0,104.2 898.0,103.3 899.0,102.7 900.0,103.6 901.0,104.5 902.0,103.2 903.0,103.2 904.0,102.8 905.0,102.2 906.0,102.6 907.0,102.9 908.0,104.0 909.0,104.7 910.0,103.3 911.0,103.9 912.0,104.5 913.0,103.5 914.0,103.8 915.0,103.5 916.0,103.0 917.0,102.7 918.0,102.8 919.0,103.3 920.0,103.8 921.0,104.3 922.0,104.7 923.0,105.0 924.0,105.2 925.0,104.7 926.0,106.3 927.0,107.3 928.0,106.8 929.0,107.5 930.0,108.6 931.0,109.6 932.0,109.9 933.0,109.5 934.0,109.2 935.0,109.4 936.0,116.3 937.0,109.1 938.0,108.6 939.0,108.1 940.0,107.5 941.0,107.0 942.0,107.0 943.0,107.7 944.0,108.6 945.0,109.3 946.0,110.0 947.0,109.7 948.0,108.1 949.0,107.8 950.0,107.6 951.0,108.0 952.0,108.7 953.0,109.0 954.0,108.5 955.0,107.7 956.0,108.3 957.0,108.8 958.0,109.3 959.0,109.2 960.0,109.0 961.0,108.5 962.0,109.4 963.0,109.4 964.0,109.0 965.0,109.7 966.0,110.8 967.0,111.0 968.0,111.3 969.0,109.7 970.0,109.9 971.0,109.7 972.0,110.0 973.0,109.3 974.0,109.4 975.0,110.3 976.0,109.8 977.0,111.4 978.0,112.6 979.0,113.7 980.0,112.9 981.0,112.1 982.0,112.1 983.0,112.4 984.0,113.5 985.0,114.1 986.0,115.4 987.0,114.3 988.0,115.2 989.0,116.0 990.0,115.2 991.0,115.2 992.0,115.3 993.0,115.9 994.0,117.7 995.0,118.8 996.0,119.2 997.0,119.7 998.0,118.5 999.0,119.2 1000.0,119.8 1001.0,119.6 1002.0,119.4 1003.0,119.4 1004.0,119.3 1005.0,119.7 1006.0,119.2 1007.0,119.7 1008.0,119.3 1009.0,119.6 1010.0,119.9 1011.0,120.5 1012.0,121.1 1013.0,119.8 1014.0,119.6 1015.0,120.7 1016.0,121.9 1017.0,122.7 1018.0,121.5 1019.0,120.4 1020.0,123.3 1021.0,123.3 1022.0,124.7 1023.0,125.4 1024.0,125.6 1025.0,125.8 1026.0,125.6 1027.0,126.2 1028.0,126.7 1029.0,127.3 1030.0,128.7 1031.0,130.1 1032.0,129.8 1033.0,130.4 1034.0,132.0 1035.0,133.6 1036.0,134.9 1037.0,135.0 1038.0,134.9 1039.0,135.3 1040.0,135.4 1041.0,135.9 1042.0,136.4 1043.0,137.4 1044.0,138.4 1045.0,137.2 1046.0,137.5 1047.0,137.7 1048.0,137.8 1049.0,137.8 1050.0,138.8 1051.0,139.8 1052.0,140.1 1053.0,137.9 1054.0,139.4 1055.0,139.5 1056.0,139.7 1057.0,139.6 1058.0,140.3 1059.0,141.4 1060.0,142.0 1061.0,141.6 1062.0,142.8 1063.0,143.6 1064.0,144.4 1065.0,145.2 1066.0,146.2 1067.0,146.4 1068.0,145.7 1069.0,146.5 1070.0,147.6 1071.0,148.3 1072.0,149.0 1073.0,149.3 1074.0,148.7 1075.0,148.1 1076.0,147.4 1077.0,148.3 1078.0,149.2 1079.0,150.8 1080.0,152.4 1081.0,151.6 1082.0,150.8 1083.0,151.8 1084.0,152.2 1085.0,152.2 1086.0,150.8"/>
<polyline fill="none" stroke="#3aa8e0" stroke-width="1" shape-rendering="crispEdges" points="684.0,163.5 685.0,163.6 686.0,163.7 687.0,165.1 688.0,164.2 689.0,163.3 690.0,164.2 691.0,163.0 692.0,161.8 693.0,162.9 694.0,163.9 695.0,163.0 696.0,164.0 697.0,164.3 698.0,163.1 699.0,163.6 700.0,163.9 701.0,162.2 702.0,162.1 703.0,162.1 704.0,160.7 705.0,160.0 706.0,161.3 707.0,160.9 708.0,158.6 709.0,159.0 710.0,159.3 711.0,158.2 712.0,157.1 713.0,157.1 714.0,157.2 715.0,157.9 716.0,158.8 717.0,158.7 718.0,157.4 719.0,156.1 720.0,158.0 721.0,157.6 722.0,157.4 723.0,158.6 724.0,158.4 725.0,155.9 726.0,157.1 727.0,155.7 728.0,155.9 729.0,156.1 730.0,155.6 731.0,155.0 732.0,154.9 733.0,154.3 734.0,153.2 735.0,152.2 736.0,152.1 737.0,153.5 738.0,153.5 739.0,152.9 740.0,152.1 741.0,151.2 742.0,151.2 743.0,151.2 744.0,149.7 745.0,151.2 746.0,152.0 747.0,151.6 748.0,149.6 749.0,147.4 750.0,147.8 751.0,148.1 752.0,148.8 753.0,149.2 754.0,148.4 755.0,147.4 756.0,146.6 757.0,146.1 758.0,146.4 759.0,147.0 760.0,146.6 761.0,145.8 762.0,145.1 763.0,144.8 764.0,144.4 765.0,144.0 766.0,143.0 767.0,142.9 768.0,142.9 769.0,142.4 770.0,142.5 771.0,142.5 772.0,142.5 773.0,142.3 774.0,142.1 775.0,142.6 776.0,143.9 777.0,142.7 778.0,141.5 779.0,141.6 780.0,141.8 781.0,141.2 782.0,141.2 783.0,140.7 784.0,140.1 785.0,139.0 786.0,138.3 787.0,138.1 788.0,137.9 789.0,137.6 790.0,136.5 791.0,135.5 792.0,134.9 793.0,134.3 794.0,132.7 795.0,132.6 796.0,132.2 797.0,131.6 798.0,132.1 799.0,132.7 800.0,132.5 801.0,132.4 802.0,132.3 803.0,131.5 804.0,132.3 805.0,130.8 806.0,130.9 807.0,130.5 808.0,130.4 809.0,129.8 810.0,129.4 811.0,128.6 812.0,128.1 813.0,127.0 814.0,127.9 815.0,127.5 816.0,127.2 817.0,125.4 818.0,123.7 819.0,123.1 820.0,122.6 821.0,122.4 822.0,122.4 823.0,122.4 824.0,122.2 825.0,121.3 826.0,121.0 827.0,120.5 828.0,120.4 829.0,119.9 830.0,118.7 831.0,118.3 832.0,119.0 833.0,118.7 834.0,118.5 835.0,118.2 836.0,117.0 837.0,117.4 838.0,116.7 839.0,116.3 840.0,116.5 841.0,117.2 842.0,116.3 843.0,115.5 844.0,115.1 845.0,116.3 846.0,115.8 847.0,115.4 848.0,115.5 849.0,116.0 850.0,116.4 851.0,116.1 852.0,116.5 853.0,115.5 854.0,114.4 855.0,114.6 856.0,114.5 857.0,114.1 858.0,113.6 859.0,112.6 860.0,110.3 861.0,109.6 862.0,109.7 863.0,109.4 864.0,109.2 865.0,108.8 866.0,108.2 867.0,107.8 868.0,109.6 869.0,107.7 870.0,108.6 871.0,107.6 872.0,106.8 873.0,107.6 874.0,107.4 875.0,107.9 876.0,109.3 877.0,109.6 878.0,108.0 879.0,108.4 880.0,109.0 881.0,108.0 882.0,107.9 883.0,108.2 884.0,108.7 885.0,108.8 886.0,108.5 887.0,109.1 888.0,109.6 889.0,109.3 890.0,110.9 891.0,109.5 892.0,107.7 893.0,107.0 894.0,105.8 895.0,104.9 896.0,104.1 897.0,103.5 898.0,102.9 899.0,102.7 900.0,102.4 901.0,102.1 902.0,102.2 903.0,102.4 904.0,102.5 905.0,103.1 906.0,103.9 907.0,103.4 908.0,103.5 909.0,103.6 910.0,103.7 911.0,102.3 912.0,102.9 913.0,103.4 914.0,103.9 915.0,103.0 916.0,101.9 917.0,102.1 918.0,102.7 919.0,103.0 920.0,103.3 921.0,103.1 922.0,103.8 923.0,104.6 924.0,104.8 925.0,103.7 926.0,106.0 927.0,107.0 928.0,106.6 929.0,107.1 930.0,108.2 931.0,108.6 932.0,108.9 933.0,110.7 934.0,110.3 935.0,109.0 936.0,115.5 937.0,108.1 938.0,107.7 939.0,107.1 940.0,106.3 941.0,106.5 942.0,106.7 943.0,107.6 944.0,107.9 945.0,107.3 946.0,107.3 947.0,107.4 948.0,106.0 949.0,106.1 950.0,106.4 951.0,107.1 952.0,107.0 953.0,107.5 954.0,107.1 955.0,107.6 956.0,108.0 957.0,108.9 958.0,109.7 959.0,109.1 960.0,108.8 961.0,108.4 962.0,108.7 963.0,108.9 964.0,108.6 965.0,108.2 966.0,107.9 967.0,107.7 968.0,110.2 969.0,109.8 970.0,109.4 971.0,109.2 972.0,109.5 973.0,107.6 974.0,108.4 975.0,109.8 976.0,109.7 977.0,110.5 978.0,111.3 979.0,111.5 980.0,111.2 981.0,112.7 982.0,111.9 983.0,112.5 984.0,113.4 985.0,114.2 986.0,114.1 987.0,114.4 988.0,114.3 989.0,114.2 990.0,114.0 991.0,114.9 992.0,115.8 993.0,116.6 994.0,117.8 995.0,119.1 996.0,117.1 997.0,117.6 998.0,117.5 999.0,117.9 1000.0,118.4 1001.0,118.5 1002.0,118.7 1003.0,119.1 1004.0,119.6 1005.0,119.7 1006.0,119.0 1007.0,118.7 1008.0,118.4 1009.0,118.3 1010.0,118.6 1011.0,118.9 1012.0,119.2 1013.0,118.9 1014.0,119.7 1015.0,120.7 1016.0,121.7 1017.0,122.5 1018.0,121.2 1019.0,120.5 1020.0,121.7 1021.0,123.0 1022.0,123.9 1023.0,124.1 1024.0,124.9 1025.0,125.8 1026.0,126.2 1027.0,126.7 1028.0,127.2 1029.0,127.5 1030.0,127.2 1031.0,127.7 1032.0,128.3 1033.0,130.0 1034.0,131.5 1035.0,132.9 1036.0,133.8 1037.0,135.9 1038.0,135.1 1039.0,134.7 1040.0,134.7 1041.0,134.6 1042.0,134.6 1043.0,135.0 1044.0,135.3 1045.0,136.4 1046.0,137.1 1047.0,137.1 1048.0,137.1 1049.0,137.5 1050.0,137.9 1051.0,137.3 1052.0,138.0 1053.0,138.1 1054.0,138.4 1055.0,138.7 1056.0,139.5 1057.0,139.8 1058.0,140.3 1059.0,140.4 1060.0,140.4 1061.0,141.4 1062.0,142.6 1063.0,143.0 1064.0,143.6 1065.0,144.1 1066.0,144.9 1067.0,144.8 1068.0,145.1 1069.0,146.9 1070.0,148.8 1071.0,148.4 1072.0,148.0 1073.0,148.1 1074.0,148.1 1075.0,150.0 1076.0,148.2 1077.0,148.6 1078.0,148.7 1079.0,149.4 1080.0,148.9 1081.0,149.4 1082.0,150.1 1083.0,151.0 1084.0,151.1 1085.0,150.4 1086.0,150.7"/>
<polyline fill="none" stroke="#7cc04c" stroke-width="1" shape-rendering="crispEdges" points="684.0,162.7 685.0,163.0 686.0,162.5 687.0,162.0 688.0,163.0 689.0,162.3 690.0,161.8 691.0,161.5 692.0,160.8 693.0,161.6 694.0,162.4 695.0,162.5 696.0,162.2 697.0,163.3 698.0,162.8 699.0,162.7 700.0,162.6 701.0,161.6 702.0,161.3 703.0,160.9 704.0,160.6 705.0,160.9 706.0,160.6 707.0,160.3 708.0,158.4 709.0,158.3 710.0,158.2 711.0,158.0 712.0,157.8 713.0,157.3 714.0,156.8 715.0,157.4 716.0,157.9 717.0,156.8 718.0,156.9 719.0,156.3 720.0,157.5 721.0,156.7 722.0,156.0 723.0,156.4 724.0,156.9 725.0,155.9 726.0,155.5 727.0,155.8 728.0,155.4 729.0,154.7 730.0,154.5 731.0,154.4 732.0,154.3 733.0,153.6 734.0,152.9 735.0,152.0 736.0,152.3 737.0,152.5 738.0,151.5 739.0,151.4 740.0,151.2 741.0,150.9 742.0,150.7 743.0,151.2 744.0,149.8 745.0,149.3 746.0,149.9 747.0,150.5 748.0,148.8 749.0,147.0 750.0,147.5 751.0,148.0 752.0,147.7 753.0,147.0 754.0,147.7 755.0,147.4 756.0,146.7 757.0,146.2 758.0,146.3 759.0,145.8 760.0,145.3 761.0,144.9 762.0,143.8 763.0,144.2 764.0,143.3 765.0,143.6 766.0,143.4 767.0,141.5 768.0,141.3 769.0,142.4 770.0,142.2 771.0,141.3 772.0,141.1 773.0,141.6 774.0,141.5 775.0,142.1 776.0,142.6 777.0,142.1 778.0,141.4 779.0,142.0 780.0,141.3 781.0,141.0 782.0,140.7 783.0,140.0 784.0,138.6 785.0,137.3 786.0,138.8 787.0,137.5 788.0,136.9 789.0,137.2 790.0,136.8 791.0,134.6 792.0,133.4 793.0,132.7 794.0,132.4 795.0,132.3 796.0,131.8 797.0,131.6 798.0,131.4 799.0,131.3 800.0,131.0 801.0,130.9 802.0,130.9 803.0,130.9 804.0,130.8 805.0,130.8 806.0,130.2 807.0,129.6 808.0,129.4 809.0,128.7 810.0,128.4 811.0,128.1 812.0,127.9 813.0,126.9 814.0,126.6 815.0,125.3 816.0,124.5 817.0,123.8 818.0,123.4 819.0,122.9 820.0,122.4 821.0,120.9 822.0,122.8 823.0,122.6 824.0,121.1 825.0,120.1 826.0,119.8 827.0,119.5 828.0,119.7 829.0,119.2 830.0,118.0 831.0,117.7 832.0,118.5 833.0,117.8 834.0,117.8 835.0,118.1 836.0,116.5 837.0,116.5 838.0,117.2 839.0,115.3 840.0,113.9 841.0,115.9 842.0,116.2 843.0,114.7 844.0,114.4 845.0,115.3 846.0,115.2 847.0,115.2 848.0,115.0 849.0,114.9 850.0,114.2 851.0,114.7 852.0,115.9 853.0,114.7 854.0,113.4 855.0,113.3 856.0,113.1 857.0,113.1 858.0,112.9 859.0,111.2 860.0,109.9 861.0,109.1 862.0,109.0 863.0,108.0 864.0,107.9 865.0,107.6 866.0,107.2 867.0,107.2 868.0,106.5 869.0,107.1 870.0,108.1 871.0,107.6 872.0,107.1 873.0,107.3 874.0,107.1 875.0,106.8 876.0,107.8 877.0,107.7 878.0,108.0 879.0,108.3 880.0,107.9 881.0,107.4 882.0,107.7 883.0,108.4 884.0,108.8 885.0,108.0 886.0,108.4 887.0,109.6 888.0,109.8 889.0,109.6 890.0,109.1 891.0,108.1 892.0,106.6 893.0,105.7 894.0,105.1 895.0,104.2 896.0,103.5 897.0,102.9 898.0,102.3 899.0,102.1 900.0,102.1 901.0,102.1 902.0,102.1 903.0,102.4 904.0,102.2 905.0,101.4 906.0,100.9 907.0,102.1 908.0,102.2 909.0,102.2 910.0,102.1 911.0,102.2 912.0,102.2 913.0,102.3 914.0,102.3 915.0,100.4 916.0,101.5 917.0,100.2 918.0,101.0 919.0,102.0 920.0,102.6 921.0,102.7 922.0,103.6 923.0,103.6 924.0,103.5 925.0,102.7 926.0,104.1 927.0,106.3 928.0,107.0 929.0,105.8 930.0,106.9 931.0,107.8 932.0,107.9 933.0,107.6 934.0,109.0 935.0,108.5 936.0,115.0 937.0,108.0 938.0,107.5 939.0,107.3 940.0,106.9 941.0,106.7 942.0,106.0 943.0,106.8 944.0,107.5 945.0,107.0 946.0,106.5 947.0,106.7 948.0,105.7 949.0,105.9 950.0,105.6 951.0,106.8 952.0,107.1 953.0,107.5 954.0,107.6 955.0,107.6 956.0,107.7 957.0,108.1 958.0,108.5 959.0,108.2 960.0,108.4 961.0,107.7 962.0,108.0 963.0,108.3 964.0,108.8 965.0,106.4 966.0,107.0 967.0,107.6 968.0,109.0 969.0,107.8 970.0,107.3 971.0,107.6 972.0,107.5 973.0,107.8 974.0,107.7 975.0,108.5 976.0,109.2 977.0,110.1 978.0,110.9 979.0,111.5 980.0,111.6 981.0,111.4 982.0,110.2 983.0,111.7 984.0,113.2 985.0,112.7 986.0,113.7 987.0,113.3 988.0,113.6 989.0,114.0 990.0,113.8 991.0,114.2 992.0,114.8 993.0,116.0 994.0,116.8 995.0,117.1 996.0,116.7 997.0,116.6 998.0,116.6 999.0,117.6 1000.0,117.8 1001.0,118.3 1002.0,118.8 1003.0,118.6 1004.0,118.4 1005.0,119.7 1006.0,120.1 1007.0,117.8 1008.0,117.8 1009.0,117.9 1010.0,118.0 1011.0,118.3 1012.0,118.7 1013.0,118.3 1014.0,118.9 1015.0,120.2 1016.0,121.5 1017.0,122.9 1018.0,121.3 1019.0,119.8 1020.0,120.5 1021.0,121.3 1022.0,122.9 1023.0,123.9 1024.0,123.9 1025.0,124.9 1026.0,124.6 1027.0,124.8 1028.0,125.0 1029.0,126.9 1030.0,126.1 1031.0,126.9 1032.0,127.7 1033.0,129.8 1034.0,130.4 1035.0,131.9 1036.0,133.4 1037.0,133.5 1038.0,133.5 1039.0,134.1 1040.0,133.5 1041.0,133.6 1042.0,133.7 1043.0,134.6 1044.0,134.7 1045.0,134.7 1046.0,135.5 1047.0,136.2 1048.0,136.6 1049.0,136.7 1050.0,135.5 1051.0,137.1 1052.0,137.2 1053.0,136.7 1054.0,137.3 1055.0,138.0 1056.0,138.1 1057.0,138.4 1058.0,138.8 1059.0,139.5 1060.0,140.3 1061.0,140.2 1062.0,141.2 1063.0,142.2 1064.0,143.3 1065.0,143.8 1066.0,144.3 1067.0,144.1 1068.0,143.9 1069.0,145.5 1070.0,147.0 1071.0,146.9 1072.0,146.7 1073.0,146.9 1074.0,146.9 1075.0,147.6 1076.0,147.1 1077.0,146.5 1078.0,146.0 1079.0,147.6 1080.0,149.2 1081.0,149.3 1082.0,149.4 1083.0,149.4 1084.0,149.4 1085.0,149.0 1086.0,148.6"/>
<polyline fill="none" stroke="#e8c030" stroke-width="1" shape-rendering="crispEdges" points="684.0,163.2 685.0,162.8 686.0,162.8 687.0,162.7 688.0,162.3 689.0,162.0 690.0,161.3 691.0,160.9 692.0,160.7 693.0,161.6 694.0,162.6 695.0,161.6 696.0,161.9 697.0,163.1 698.0,162.8 699.0,162.4 700.0,161.9 701.0,161.6 702.0,160.7 703.0,160.3 704.0,160.0 705.0,159.7 706.0,159.4 707.0,159.8 708.0,158.3 709.0,157.8 710.0,158.0 711.0,157.3 712.0,156.6 713.0,156.3 714.0,156.1 715.0,156.7 716.0,156.9 717.0,156.0 718.0,156.4 719.0,155.6 720.0,157.4 721.0,156.8 722.0,155.9 723.0,156.5 724.0,157.2 725.0,155.1 726.0,155.2 727.0,155.0 728.0,153.9 729.0,154.7 730.0,154.7 731.0,154.7 732.0,154.0 733.0,152.9 734.0,151.9 735.0,151.6 736.0,152.1 737.0,152.3 738.0,151.5 739.0,151.1 740.0,149.8 741.0,150.6 742.0,150.3 743.0,149.1 744.0,147.4 745.0,150.1 746.0,149.7 747.0,149.4 748.0,148.2 749.0,144.9 750.0,146.3 751.0,147.0 752.0,147.7 753.0,147.4 754.0,146.4 755.0,145.9 756.0,145.8 757.0,145.3 758.0,144.7 759.0,145.7 760.0,144.8 761.0,144.4 762.0,144.0 763.0,143.5 764.0,143.1 765.0,142.7 766.0,142.6 767.0,142.4 768.0,142.0 769.0,141.6 770.0,141.5 771.0,140.8 772.0,139.9 773.0,140.1 774.0,140.3 775.0,141.6 776.0,142.0 777.0,141.8 778.0,141.4 779.0,140.6 780.0,140.3 781.0,138.5 782.0,139.3 783.0,139.5 784.0,139.0 785.0,138.0 786.0,137.4 787.0,137.1 788.0,136.5 789.0,135.9 790.0,134.0 791.0,133.1 792.0,132.5 793.0,131.7 794.0,131.2 795.0,131.4 796.0,131.3 797.0,131.1 798.0,131.1 799.0,130.9 800.0,130.7 801.0,130.5 802.0,129.8 803.0,129.1 804.0,129.9 805.0,130.2 806.0,129.2 807.0,128.2 808.0,129.1 809.0,128.1 810.0,127.3 811.0,127.3 812.0,127.6 813.0,126.4 814.0,126.4 815.0,125.6 816.0,124.0 817.0,122.6 818.0,122.5 819.0,122.3 820.0,121.4 821.0,121.3 822.0,121.7 823.0,122.2 824.0,120.7 825.0,119.5 826.0,118.8 827.0,119.0 828.0,118.8 829.0,119.0 830.0,118.3 831.0,117.5 832.0,118.0 833.0,117.7 834.0,117.4 835.0,117.6 836.0,116.4 837.0,116.6 838.0,115.5 839.0,115.1 840.0,115.0 841.0,114.1 842.0,115.0 843.0,114.3 844.0,114.6 845.0,115.2 846.0,114.9 847.0,114.9 848.0,114.9 849.0,114.1 850.0,113.3 851.0,113.5 852.0,115.4 853.0,114.8 854.0,113.7 855.0,110.9 856.0,113.1 857.0,113.0 858.0,112.1 859.0,110.5 860.0,110.0 861.0,109.0 862.0,108.9 863.0,107.9 864.0,107.9 865.0,107.8 866.0,105.8 867.0,106.2 868.0,107.0 869.0,105.9 870.0,107.6 871.0,107.3 872.0,107.0 873.0,107.2 874.0,107.4 875.0,107.4 876.0,108.4 877.0,107.8 878.0,107.0 879.0,107.6 880.0,107.2 881.0,107.3 882.0,107.3 883.0,108.0 884.0,108.7 885.0,106.9 886.0,107.3 887.0,108.5 888.0,109.2 889.0,108.0 890.0,107.9 891.0,107.5 892.0,106.0 893.0,103.6 894.0,101.6 895.0,102.3 896.0,103.1 897.0,102.4 898.0,101.7 899.0,101.3 900.0,100.9 901.0,101.3 902.0,101.6 903.0,102.0 904.0,101.7 905.0,101.3 906.0,101.1 907.0,101.3 908.0,102.0 909.0,102.3 910.0,102.4 911.0,102.6 912.0,102.2 913.0,102.3 914.0,102.6 915.0,102.1 916.0,101.5 917.0,101.0 918.0,101.0 919.0,101.5 920.0,102.2 921.0,103.1 922.0,102.2 923.0,101.3 924.0,102.0 925.0,102.1 926.0,104.5 927.0,105.7 928.0,106.4 929.0,105.7 930.0,106.8 931.0,107.7 932.0,108.4 933.0,108.2 934.0,107.8 935.0,108.0 936.0,112.9 937.0,106.7 938.0,106.8 939.0,105.8 940.0,106.9 941.0,106.2 942.0,105.5 943.0,106.0 944.0,106.5 945.0,106.1 946.0,105.7 947.0,105.7 948.0,104.5 949.0,104.8 950.0,105.0 951.0,105.6 952.0,105.9 953.0,106.1 954.0,106.0 955.0,106.7 956.0,106.3 957.0,107.0 958.0,107.7 959.0,107.4 960.0,106.6 961.0,107.1 962.0,108.0 963.0,108.0 964.0,107.6 965.0,107.2 966.0,107.1 967.0,106.9 968.0,106.8 969.0,107.5 970.0,108.3 971.0,107.4 972.0,106.9 973.0,107.3 974.0,108.5 975.0,108.9 976.0,108.6 977.0,108.2 978.0,109.2 979.0,110.3 980.0,111.2 981.0,111.3 982.0,111.4 983.0,111.0 984.0,111.6 985.0,112.3 986.0,113.5 987.0,113.4 988.0,113.8 989.0,113.8 990.0,113.6 991.0,112.3 992.0,114.0 993.0,114.5 994.0,114.9 995.0,116.4 996.0,117.2 997.0,116.8 998.0,116.4 999.0,116.2 1000.0,117.1 1001.0,117.6 1002.0,115.0 1003.0,116.6 1004.0,118.2 1005.0,118.9 1006.0,118.5 1007.0,117.6 1008.0,116.5 1009.0,116.1 1010.0,117.7 1011.0,118.2 1012.0,118.8 1013.0,118.2 1014.0,118.6 1015.0,119.3 1016.0,120.4 1017.0,121.5 1018.0,120.4 1019.0,117.8 1020.0,119.9 1021.0,122.0 1022.0,123.3 1023.0,123.9 1024.0,124.4 1025.0,125.0 1026.0,122.5 1027.0,123.9 1028.0,125.4 1029.0,126.5 1030.0,126.9 1031.0,127.0 1032.0,127.2 1033.0,128.5 1034.0,129.8 1035.0,131.6 1036.0,133.4 1037.0,133.1 1038.0,132.8 1039.0,133.4 1040.0,134.0 1041.0,134.1 1042.0,133.7 1043.0,133.7 1044.0,133.6 1045.0,134.0 1046.0,134.7 1047.0,135.2 1048.0,135.6 1049.0,136.5 1050.0,137.5 1051.0,136.9 1052.0,136.9 1053.0,137.2 1054.0,137.4 1055.0,138.0 1056.0,138.7 1057.0,138.6 1058.0,138.5 1059.0,138.7 1060.0,139.1 1061.0,139.4 1062.0,140.8 1063.0,142.4 1064.0,142.6 1065.0,142.7 1066.0,144.3 1067.0,144.1 1068.0,143.8 1069.0,145.3 1070.0,145.9 1071.0,146.8 1072.0,146.8 1073.0,147.0 1074.0,147.3 1075.0,147.6 1076.0,146.5 1077.0,147.4 1078.0,147.4 1079.0,147.8 1080.0,148.2 1081.0,148.9 1082.0,148.5 1083.0,148.7 1084.0,149.2 1085.0,149.6 1086.0,148.3"/>
<polyline fill="none" stroke="#cc7636" stroke-width="1" shape-rendering="crispEdges" points="684.0,161.4 685.0,162.0 686.0,162.5 687.0,162.6 688.0,159.7 689.0,161.0 690.0,161.8 691.0,161.0 692.0,160.3 693.0,159.9 694.0,159.6 695.0,161.4 696.0,161.3 697.0,162.5 698.0,162.1 699.0,161.6 700.0,158.2 701.0,160.5 702.0,160.3 703.0,160.2 704.0,159.0 705.0,159.3 706.0,159.5 707.0,159.6 708.0,157.3 709.0,157.3 710.0,157.2 711.0,156.8 712.0,156.8 713.0,156.7 714.0,155.5 715.0,156.6 716.0,156.8 717.0,156.1 718.0,155.0 719.0,154.7 720.0,156.4 721.0,155.6 722.0,154.8 723.0,155.2 724.0,155.5 725.0,154.5 726.0,154.2 727.0,154.2 728.0,154.6 729.0,154.2 730.0,153.5 731.0,153.0 732.0,153.0 733.0,152.5 734.0,151.6 735.0,150.8 736.0,149.8 737.0,152.2 738.0,150.7 739.0,150.1 740.0,148.2 741.0,149.8 742.0,149.5 743.0,149.9 744.0,148.4 745.0,147.9 746.0,148.5 747.0,149.1 748.0,147.7 749.0,146.3 750.0,146.4 751.0,146.5 752.0,146.8 753.0,146.8 754.0,146.4 755.0,145.4 756.0,144.3 757.0,144.3 758.0,144.3 759.0,144.5 760.0,144.6 761.0,144.1 762.0,142.5 763.0,143.1 764.0,142.8 765.0,142.3 766.0,141.7 767.0,141.7 768.0,138.5 769.0,140.1 770.0,140.3 771.0,140.3 772.0,140.3 773.0,140.6 774.0,140.9 775.0,141.9 776.0,142.3 777.0,142.0 778.0,141.4 779.0,140.6 780.0,139.9 781.0,139.5 782.0,139.7 783.0,136.0 784.0,135.2 785.0,135.7 786.0,136.6 787.0,137.4 788.0,135.7 789.0,136.0 790.0,133.8 791.0,131.6 792.0,131.9 793.0,132.2 794.0,131.7 795.0,131.1 796.0,130.3 797.0,129.4 798.0,128.7 799.0,129.3 800.0,129.9 801.0,129.8 802.0,129.8 803.0,129.9 804.0,130.0 805.0,130.0 806.0,129.1 807.0,128.1 808.0,128.3 809.0,129.1 810.0,127.5 811.0,126.4 812.0,126.5 813.0,126.5 814.0,125.2 815.0,124.2 816.0,122.5 817.0,120.9 818.0,122.9 819.0,121.0 820.0,119.1 821.0,122.2 822.0,121.5 823.0,120.8 824.0,118.6 825.0,116.5 826.0,117.8 827.0,119.1 828.0,116.2 829.0,117.4 830.0,117.1 831.0,116.7 832.0,117.4 833.0,116.9 834.0,116.4 835.0,115.2 836.0,113.2 837.0,116.9 838.0,115.1 839.0,114.3 840.0,113.8 841.0,114.9 842.0,114.2 843.0,114.2 844.0,113.4 845.0,113.0 846.0,114.2 847.0,114.7 848.0,114.5 849.0,114.2 850.0,114.1 851.0,114.0 852.0,115.9 853.0,114.5 854.0,113.0 855.0,113.0 856.0,112.7 857.0,111.6 858.0,110.3 859.0,107.0 860.0,108.0 861.0,107.3 862.0,107.4 863.0,107.8 864.0,107.0 865.0,106.8 866.0,106.3 867.0,106.0 868.0,107.6 869.0,105.1 870.0,106.1 871.0,106.2 872.0,106.5 873.0,106.5 874.0,106.2 875.0,105.9 876.0,107.6 877.0,108.2 878.0,107.4 879.0,107.6 880.0,107.4 881.0,107.7 882.0,106.2 883.0,106.9 884.0,107.5 885.0,107.4 886.0,107.4 887.0,108.6 888.0,108.5 889.0,107.6 890.0,107.5 891.0,107.1 892.0,106.3 893.0,105.4 894.0,104.1 895.0,103.0 896.0,102.0 897.0,101.1 898.0,101.0 899.0,101.2 900.0,101.2 901.0,101.0 902.0,100.7 903.0,102.0 904.0,100.6 905.0,100.1 906.0,100.6 907.0,101.0 908.0,100.6 909.0,101.9 910.0,101.0 911.0,100.0 912.0,102.2 913.0,101.8 914.0,101.2 915.0,101.2 916.0,101.3 917.0,100.4 918.0,100.5 919.0,100.3 920.0,100.4 921.0,101.7 922.0,101.4 923.0,103.1 924.0,103.3 925.0,102.2 926.0,103.8 927.0,105.4 928.0,105.8 929.0,106.2 930.0,106.7 931.0,107.1 932.0,107.2 933.0,106.9 934.0,108.4 935.0,107.5 936.0,113.6 937.0,106.5 938.0,106.3 939.0,105.6 940.0,105.6 941.0,103.1 942.0,105.3 943.0,104.8 944.0,105.9 945.0,106.4 946.0,106.7 947.0,106.5 948.0,103.1 949.0,105.7 950.0,105.5 951.0,105.5 952.0,105.6 953.0,105.7 954.0,106.1 955.0,106.6 956.0,105.7 957.0,106.1 958.0,107.1 959.0,107.3 960.0,107.5 961.0,107.7 962.0,106.7 963.0,105.7 964.0,107.6 965.0,107.1 966.0,107.0 967.0,107.2 968.0,107.4 969.0,107.6 970.0,107.0 971.0,105.7 972.0,104.0 973.0,104.8 974.0,106.5 975.0,108.3 976.0,108.6 977.0,108.9 978.0,109.9 979.0,110.9 980.0,110.6 981.0,110.3 982.0,110.7 983.0,111.4 984.0,111.6 985.0,111.7 986.0,112.5 987.0,111.9 988.0,112.4 989.0,113.1 990.0,113.7 991.0,112.8 992.0,114.0 993.0,113.1 994.0,114.3 995.0,115.6 996.0,116.2 997.0,116.8 998.0,115.1 999.0,116.3 1000.0,116.8 1001.0,117.1 1002.0,117.0 1003.0,117.1 1004.0,116.9 1005.0,117.4 1006.0,117.9 1007.0,117.9 1008.0,116.0 1009.0,116.1 1010.0,117.0 1011.0,118.3 1012.0,117.9 1013.0,117.6 1014.0,118.5 1015.0,119.2 1016.0,120.1 1017.0,121.1 1018.0,119.9 1019.0,118.8 1020.0,116.9 1021.0,119.5 1022.0,122.0 1023.0,122.3 1024.0,122.8 1025.0,123.7 1026.0,123.3 1027.0,121.1 1028.0,124.9 1029.0,124.1 1030.0,125.8 1031.0,126.6 1032.0,127.4 1033.0,128.3 1034.0,130.0 1035.0,131.5 1036.0,132.9 1037.0,132.7 1038.0,132.4 1039.0,132.8 1040.0,133.1 1041.0,133.3 1042.0,133.1 1043.0,134.5 1044.0,133.7 1045.0,133.0 1046.0,132.5 1047.0,134.5 1048.0,134.1 1049.0,133.4 1050.0,134.5 1051.0,135.6 1052.0,135.7 1053.0,135.8 1054.0,136.6 1055.0,137.5 1056.0,138.3 1057.0,137.8 1058.0,138.6 1059.0,138.9 1060.0,139.1 1061.0,139.2 1062.0,140.7 1063.0,141.7 1064.0,142.6 1065.0,142.8 1066.0,143.0 1067.0,142.9 1068.0,142.8 1069.0,144.6 1070.0,146.2 1071.0,146.6 1072.0,146.7 1073.0,147.1 1074.0,146.2 1075.0,145.4 1076.0,146.1 1077.0,147.3 1078.0,147.8 1079.0,146.2 1080.0,144.5 1081.0,147.7 1082.0,148.2 1083.0,148.4 1084.0,148.4 1085.0,147.9 1086.0,147.3"/>
<g stroke="#000" stroke-width="1" fill="none" shape-rendering="crispEdges">
<line x1="683.5" y1="98.0" x2="683.5" y2="166.0"/>
<line x1="683.0" y1="165.5" x2="1085.5" y2="165.5"/>
<line x1="683.5" y1="109.5" x2="690.0" y2="109.5"/>
<line x1="683.5" y1="125.5" x2="690.0" y2="125.5"/>
<line x1="683.5" y1="140.5" x2="690.0" y2="140.5"/>
<line x1="683.5" y1="156.5" x2="690.0" y2="156.5"/>
<line x1="752.5" y1="165.5" x2="752.5" y2="159.5"/>
<line x1="852.5" y1="165.5" x2="852.5" y2="159.5"/>
<line x1="952.5" y1="165.5" x2="952.5" y2="159.5"/>
<line x1="1051.5" y1="165.5" x2="1051.5" y2="159.5"/>
</g>
<g fill="#000" font-size="26">
<text transform="translate(883.0,78.0) scale(0.920,1)" text-anchor="middle">Bin 2</text>
<text transform="translate(752.5,201.0) scale(0.900,1)" text-anchor="middle">2350</text>
<text transform="translate(852.5,201.0) scale(0.900,1)" text-anchor="middle">2355</text>
<text transform="translate(952.5,201.0) scale(0.900,1)" text-anchor="middle">2360</text>
<text transform="translate(1051.5,201.0) scale(0.900,1)" text-anchor="middle">2365</text>
<text transform="translate(676.5,121.2) scale(0.900,1)" text-anchor="end">20</text>
<text transform="translate(676.5,136.7) scale(0.900,1)" text-anchor="end">15</text>
<text transform="translate(676.5,152.5) scale(0.900,1)" text-anchor="end">10</text>
<text transform="translate(676.5,168.2) scale(0.900,1)" text-anchor="end">5</text>
<text transform="translate(882.5,238.8) scale(0.940,1)" text-anchor="middle">Wavenumber [cm<tspan font-size="17.5" dy="-11.8">-1</tspan><tspan dy="11.8">]</tspan></text>
<text transform="translate(636.5,133.0) rotate(-90) scale(0.940,1)" text-anchor="middle">ADU</text>
</g>
<g stroke="#000" stroke-width="1" stroke-dasharray="1 4" fill="none" shape-rendering="crispEdges"><line x1="156.0" y1="306.5" x2="557.5" y2="306.5"/><line x1="156.0" y1="322.5" x2="557.5" y2="322.5"/><line x1="156.0" y1="337.5" x2="557.5" y2="337.5"/><line x1="156.0" y1="353.5" x2="557.5" y2="353.5"/><line x1="224.5" y1="295.0" x2="224.5" y2="363.0"/><line x1="324.5" y1="295.0" x2="324.5" y2="363.0"/><line x1="424.5" y1="295.0" x2="424.5" y2="363.0"/><line x1="523.5" y1="295.0" x2="523.5" y2="363.0"/></g>
<polyline fill="none" stroke="#10308c" stroke-width="1" shape-rendering="crispEdges" points="156.0,362.0 157.0,361.7 158.0,361.9 159.0,362.0 160.0,362.1 161.0,363.5 162.0,363.5 163.0,363.5 164.0,363.1 165.0,362.6 166.0,362.2 167.0,362.4 168.0,362.8 169.0,363.5 170.0,363.4 171.0,360.9 172.0,359.8 173.0,361.8 174.0,361.1 175.0,360.2 176.0,358.6 177.0,358.8 178.0,359.0 179.0,357.6 180.0,356.5 181.0,356.7 182.0,357.4 183.0,357.6 184.0,357.1 185.0,358.1 186.0,357.0 187.0,356.4 188.0,355.8 189.0,355.5 190.0,355.3 191.0,355.3 192.0,355.4 193.0,355.9 194.0,356.0 195.0,355.8 196.0,355.5 197.0,356.2 198.0,356.5 199.0,355.9 200.0,355.2 201.0,354.2 202.0,354.3 203.0,354.1 204.0,353.9 205.0,354.0 206.0,354.8 207.0,353.2 208.0,352.2 209.0,353.4 210.0,352.9 211.0,352.7 212.0,352.9 213.0,353.0 214.0,354.4 215.0,351.8 216.0,349.1 217.0,349.5 218.0,350.0 219.0,349.1 220.0,348.2 221.0,347.3 222.0,348.2 223.0,348.1 224.0,347.7 225.0,347.6 226.0,347.1 227.0,346.4 228.0,345.6 229.0,347.5 230.0,345.2 231.0,344.6 232.0,344.4 233.0,344.1 234.0,343.9 235.0,343.9 236.0,343.6 237.0,342.9 238.0,342.3 239.0,341.6 240.0,340.1 241.0,339.7 242.0,340.1 243.0,340.3 244.0,339.7 245.0,340.2 246.0,340.1 247.0,340.6 248.0,340.7 249.0,339.7 250.0,342.5 251.0,340.4 252.0,338.6 253.0,339.1 254.0,339.2 255.0,338.1 256.0,338.0 257.0,337.9 258.0,336.9 259.0,337.5 260.0,336.2 261.0,334.8 262.0,335.0 263.0,334.2 264.0,333.5 265.0,333.4 266.0,332.3 267.0,332.0 268.0,330.8 269.0,329.8 270.0,330.6 271.0,330.9 272.0,331.2 273.0,331.1 274.0,330.8 275.0,329.9 276.0,328.8 277.0,327.8 278.0,325.8 279.0,326.0 280.0,326.1 281.0,326.3 282.0,325.7 283.0,326.4 284.0,327.1 285.0,322.5 286.0,322.6 287.0,322.3 288.0,321.1 289.0,322.0 290.0,321.5 291.0,320.9 292.0,320.6 293.0,319.2 294.0,318.1 295.0,318.3 296.0,318.1 297.0,317.9 298.0,317.0 299.0,316.1 300.0,315.9 301.0,315.8 302.0,314.9 303.0,315.0 304.0,315.1 305.0,316.2 306.0,314.7 307.0,314.6 308.0,314.8 309.0,314.7 310.0,313.0 311.0,312.8 312.0,312.5 313.0,312.4 314.0,312.8 315.0,312.0 316.0,312.3 317.0,312.9 318.0,313.1 319.0,313.9 320.0,315.9 321.0,315.9 322.0,314.8 323.0,314.4 324.0,315.2 325.0,315.7 326.0,314.6 327.0,313.6 328.0,312.9 329.0,312.3 330.0,311.2 331.0,310.1 332.0,313.0 333.0,311.1 334.0,309.2 335.0,310.1 336.0,309.8 337.0,308.8 338.0,308.1 339.0,307.5 340.0,306.9 341.0,307.1 342.0,307.8 343.0,307.7 344.0,307.7 345.0,307.0 346.0,306.5 347.0,307.3 348.0,308.2 349.0,307.8 350.0,307.4 351.0,306.9 352.0,306.8 353.0,308.0 354.0,308.4 355.0,308.6 356.0,307.3 357.0,306.0 358.0,305.1 359.0,304.4 360.0,304.0 361.0,303.1 362.0,302.8 363.0,305.2 364.0,303.8 365.0,302.5 366.0,303.8 367.0,304.1 368.0,304.5 369.0,303.3 370.0,302.1 371.0,302.5 372.0,303.9 373.0,301.5 374.0,301.4 375.0,301.4 376.0,301.5 377.0,301.4 378.0,301.3 379.0,301.2 380.0,301.4 381.0,302.9 382.0,302.6 383.0,301.9 384.0,301.2 385.0,300.6 386.0,301.2 387.0,300.2 388.0,299.2 389.0,299.3 390.0,299.6 391.0,299.7 392.0,300.1 393.0,300.6 394.0,301.2 395.0,301.8 396.0,302.2 397.0,302.7 398.0,303.9 399.0,304.1 400.0,305.0 401.0,306.0 402.0,307.0 403.0,307.4 404.0,307.3 405.0,306.7 406.0,305.7 407.0,305.2 408.0,305.3 409.0,305.1 410.0,305.0 411.0,303.4 412.0,303.3 413.0,302.7 414.0,302.6 415.0,302.8 416.0,302.9 417.0,303.0 418.0,301.7 419.0,302.6 420.0,304.2 421.0,301.9 422.0,303.5 423.0,303.7 424.0,305.9 425.0,305.7 426.0,305.5 427.0,305.6 428.0,305.5 429.0,305.4 430.0,305.2 431.0,306.0 432.0,306.6 433.0,307.3 434.0,308.8 435.0,308.7 436.0,308.3 437.0,308.2 438.0,307.8 439.0,309.4 440.0,307.8 441.0,307.7 442.0,308.5 443.0,309.2 444.0,308.2 445.0,309.0 446.0,307.6 447.0,307.9 448.0,308.3 449.0,308.2 450.0,309.2 451.0,310.3 452.0,311.2 453.0,311.4 454.0,311.9 455.0,312.9 456.0,312.2 457.0,312.9 458.0,313.4 459.0,313.5 460.0,313.1 461.0,313.5 462.0,313.8 463.0,314.3 464.0,314.8 465.0,315.4 466.0,315.2 467.0,315.6 468.0,315.0 469.0,314.9 470.0,315.6 471.0,315.3 472.0,316.0 473.0,316.8 474.0,316.7 475.0,319.3 476.0,319.1 477.0,318.8 478.0,319.6 479.0,319.1 480.0,318.6 481.0,319.0 482.0,319.2 483.0,320.1 484.0,319.8 485.0,318.8 486.0,318.3 487.0,318.8 488.0,318.7 489.0,318.9 490.0,319.7 491.0,320.4 492.0,321.7 493.0,321.2 494.0,320.9 495.0,322.6 496.0,324.3 497.0,324.2 498.0,324.2 499.0,324.4 500.0,325.5 501.0,326.4 502.0,327.1 503.0,327.8 504.0,328.2 505.0,328.7 506.0,329.4 507.0,330.2 508.0,332.1 509.0,333.3 510.0,333.1 511.0,333.7 512.0,334.2 513.0,333.8 514.0,333.8 515.0,334.3 516.0,335.6 517.0,335.6 518.0,335.6 519.0,337.0 520.0,338.3 521.0,339.2 522.0,338.8 523.0,338.3 524.0,339.3 525.0,340.3 526.0,339.2 527.0,338.9 528.0,340.1 529.0,341.0 530.0,339.9 531.0,339.2 532.0,339.8 533.0,340.8 534.0,340.8 535.0,339.7 536.0,339.6 537.0,341.1 538.0,343.2 539.0,341.9 540.0,343.5 541.0,343.6 542.0,344.1 543.0,344.3 544.0,345.2 545.0,346.0 546.0,345.6 547.0,345.2 548.0,346.3 549.0,345.6 550.0,345.3 551.0,346.8 552.0,347.9 553.0,347.4 554.0,347.3 555.0,346.2 556.0,345.4 557.0,346.5 558.0,346.0"/>
<polyline fill="none" stroke="#3aa8e0" stroke-width="1" shape-rendering="crispEdges" points="156.0,362.9 157.0,361.3 158.0,361.2 159.0,361.0 160.0,360.9 161.0,361.2 162.0,361.2 163.0,361.8 164.0,362.4 165.0,362.0 166.0,361.6 167.0,361.3 168.0,362.1 169.0,362.0 170.0,360.9 171.0,360.4 172.0,360.1 173.0,359.8 174.0,358.4 175.0,359.1 176.0,357.8 177.0,358.0 178.0,357.6 179.0,356.8 180.0,356.0 181.0,356.4 182.0,357.0 183.0,357.3 184.0,357.0 185.0,356.5 186.0,356.5 187.0,355.5 188.0,355.5 189.0,355.5 190.0,354.9 191.0,355.1 192.0,355.3 193.0,355.6 194.0,355.8 195.0,355.1 196.0,354.3 197.0,354.3 198.0,354.4 199.0,355.8 200.0,355.4 201.0,354.9 202.0,354.6 203.0,354.1 204.0,354.2 205.0,353.8 206.0,352.8 207.0,351.8 208.0,352.1 209.0,352.3 210.0,351.9 211.0,351.6 212.0,351.2 213.0,350.5 214.0,351.2 215.0,349.6 216.0,348.1 217.0,349.0 218.0,349.2 219.0,348.4 220.0,347.6 221.0,348.2 222.0,347.9 223.0,347.6 224.0,347.6 225.0,347.5 226.0,346.6 227.0,345.1 228.0,345.4 229.0,345.4 230.0,344.6 231.0,344.2 232.0,343.8 233.0,343.4 234.0,343.1 235.0,343.1 236.0,342.7 237.0,342.0 238.0,341.0 239.0,340.0 240.0,339.1 241.0,339.3 242.0,339.7 243.0,339.2 244.0,338.8 245.0,339.1 246.0,338.9 247.0,339.0 248.0,338.7 249.0,339.8 250.0,340.9 251.0,339.4 252.0,337.9 253.0,337.7 254.0,338.2 255.0,337.4 256.0,337.0 257.0,337.2 258.0,336.8 259.0,335.5 260.0,335.1 261.0,334.6 262.0,335.3 263.0,333.4 264.0,331.5 265.0,332.3 266.0,331.5 267.0,331.0 268.0,330.2 269.0,329.8 270.0,329.9 271.0,330.3 272.0,330.6 273.0,330.5 274.0,330.0 275.0,329.8 276.0,329.4 277.0,327.4 278.0,325.4 279.0,325.3 280.0,325.1 281.0,325.8 282.0,324.2 283.0,324.6 284.0,323.8 285.0,321.2 286.0,321.2 287.0,321.4 288.0,320.8 289.0,321.8 290.0,321.1 291.0,320.4 292.0,319.8 293.0,319.2 294.0,318.5 295.0,318.4 296.0,317.7 297.0,317.0 298.0,316.6 299.0,316.1 300.0,316.4 301.0,315.4 302.0,314.9 303.0,314.4 304.0,314.2 305.0,316.4 306.0,314.7 307.0,313.9 308.0,313.6 309.0,313.0 310.0,312.8 311.0,312.6 312.0,312.1 313.0,311.7 314.0,312.1 315.0,312.7 316.0,312.5 317.0,312.6 318.0,312.8 319.0,312.7 320.0,312.9 321.0,313.7 322.0,313.0 323.0,313.2 324.0,313.6 325.0,313.9 326.0,313.8 327.0,313.4 328.0,313.1 329.0,312.5 330.0,311.1 331.0,310.2 332.0,309.5 333.0,309.8 334.0,309.2 335.0,308.8 336.0,309.1 337.0,308.2 338.0,307.3 339.0,306.9 340.0,306.5 341.0,306.7 342.0,307.1 343.0,307.0 344.0,307.0 345.0,307.0 346.0,307.0 347.0,306.5 348.0,305.9 349.0,305.9 350.0,305.7 351.0,305.4 352.0,306.9 353.0,308.5 354.0,308.6 355.0,308.7 356.0,307.2 357.0,305.5 358.0,304.3 359.0,304.4 360.0,304.6 361.0,303.5 362.0,302.5 363.0,301.7 364.0,301.4 365.0,302.5 366.0,301.3 367.0,301.6 368.0,302.0 369.0,301.7 370.0,301.3 371.0,301.8 372.0,301.2 373.0,300.8 374.0,300.4 375.0,300.7 376.0,301.6 377.0,302.5 378.0,301.7 379.0,301.0 380.0,300.7 381.0,301.7 382.0,301.5 383.0,301.3 384.0,301.0 385.0,300.4 386.0,300.8 387.0,299.9 388.0,299.1 389.0,298.8 390.0,298.7 391.0,298.9 392.0,299.5 393.0,300.3 394.0,299.1 395.0,300.2 396.0,301.3 397.0,302.2 398.0,303.0 399.0,303.5 400.0,304.4 401.0,305.4 402.0,306.3 403.0,306.8 404.0,307.2 405.0,306.7 406.0,305.9 407.0,305.0 408.0,304.6 409.0,304.8 410.0,305.0 411.0,302.8 412.0,303.3 413.0,303.1 414.0,303.0 415.0,302.8 416.0,302.9 417.0,303.1 418.0,301.3 419.0,301.0 420.0,303.4 421.0,301.9 422.0,302.2 423.0,303.2 424.0,304.4 425.0,305.7 426.0,305.1 427.0,305.3 428.0,305.3 429.0,305.4 430.0,305.0 431.0,305.5 432.0,306.9 433.0,308.0 434.0,308.6 435.0,307.6 436.0,308.0 437.0,307.7 438.0,306.9 439.0,309.0 440.0,307.3 441.0,308.6 442.0,307.4 443.0,307.8 444.0,308.9 445.0,308.3 446.0,305.6 447.0,306.5 448.0,307.7 449.0,307.8 450.0,308.5 451.0,309.3 452.0,311.0 453.0,312.0 454.0,312.1 455.0,312.1 456.0,311.7 457.0,311.2 458.0,312.7 459.0,311.9 460.0,313.4 461.0,313.5 462.0,313.4 463.0,313.6 464.0,314.2 465.0,315.2 466.0,315.1 467.0,314.7 468.0,314.5 469.0,313.3 470.0,314.4 471.0,314.9 472.0,315.5 473.0,316.1 474.0,316.1 475.0,317.7 476.0,317.9 477.0,318.1 478.0,319.1 479.0,319.1 480.0,318.7 481.0,318.2 482.0,318.6 483.0,318.8 484.0,319.0 485.0,317.3 486.0,318.4 487.0,317.8 488.0,317.2 489.0,317.8 490.0,319.3 491.0,318.4 492.0,320.2 493.0,320.6 494.0,320.1 495.0,320.3 496.0,321.4 497.0,322.0 498.0,322.6 499.0,323.8 500.0,324.0 501.0,325.1 502.0,326.2 503.0,326.8 504.0,327.5 505.0,328.4 506.0,329.5 507.0,330.4 508.0,331.6 509.0,332.5 510.0,331.8 511.0,332.1 512.0,333.0 513.0,333.8 514.0,334.8 515.0,335.3 516.0,335.8 517.0,335.5 518.0,336.0 519.0,336.8 520.0,337.1 521.0,337.4 522.0,338.2 523.0,338.2 524.0,339.1 525.0,339.8 526.0,339.1 527.0,339.2 528.0,339.4 529.0,338.6 530.0,338.6 531.0,338.6 532.0,338.7 533.0,340.7 534.0,340.8 535.0,339.8 536.0,339.3 537.0,341.2 538.0,342.5 539.0,341.8 540.0,341.9 541.0,343.0 542.0,344.0 543.0,344.6 544.0,345.2 545.0,345.4 546.0,345.4 547.0,345.1 548.0,345.3 549.0,344.6 550.0,344.7 551.0,346.1 552.0,347.2 553.0,346.1 554.0,346.2 555.0,345.4 556.0,345.5 557.0,345.7 558.0,346.5"/>
<polyline fill="none" stroke="#7cc04c" stroke-width="1" shape-rendering="crispEdges" points="156.0,360.9 157.0,360.7 158.0,360.4 159.0,360.7 160.0,361.2 161.0,361.6 162.0,360.9 163.0,360.5 164.0,360.3 165.0,360.1 166.0,360.8 167.0,361.4 168.0,360.0 169.0,360.1 170.0,360.7 171.0,359.0 172.0,358.5 173.0,359.1 174.0,358.4 175.0,357.8 176.0,357.5 177.0,357.2 178.0,356.9 179.0,356.0 180.0,355.2 181.0,356.2 182.0,357.2 183.0,357.0 184.0,356.8 185.0,356.2 186.0,355.3 187.0,354.4 188.0,354.6 189.0,354.9 190.0,354.3 191.0,354.4 192.0,354.7 193.0,355.1 194.0,355.0 195.0,354.8 196.0,354.6 197.0,354.2 198.0,354.5 199.0,354.4 200.0,354.2 201.0,353.1 202.0,352.4 203.0,352.3 204.0,352.2 205.0,352.0 206.0,351.7 207.0,350.8 208.0,350.5 209.0,352.0 210.0,351.6 211.0,351.5 212.0,350.0 213.0,350.3 214.0,350.3 215.0,348.7 216.0,347.1 217.0,348.2 218.0,349.0 219.0,348.3 220.0,346.6 221.0,346.9 222.0,347.1 223.0,347.4 224.0,346.5 225.0,346.1 226.0,345.4 227.0,345.2 228.0,344.8 229.0,344.3 230.0,343.3 231.0,342.7 232.0,343.2 233.0,343.6 234.0,343.2 235.0,343.0 236.0,341.3 237.0,341.1 238.0,340.9 239.0,340.2 240.0,338.9 241.0,338.7 242.0,339.2 243.0,338.9 244.0,338.7 245.0,339.0 246.0,338.4 247.0,338.4 248.0,338.1 249.0,338.8 250.0,339.4 251.0,338.7 252.0,337.9 253.0,337.6 254.0,337.2 255.0,336.1 256.0,336.4 257.0,336.0 258.0,335.5 259.0,335.0 260.0,334.6 261.0,334.1 262.0,333.7 263.0,331.7 264.0,330.8 265.0,331.6 266.0,330.4 267.0,330.1 268.0,329.2 269.0,328.6 270.0,329.2 271.0,329.9 272.0,330.5 273.0,330.1 274.0,329.5 275.0,328.9 276.0,327.9 277.0,325.7 278.0,324.1 279.0,324.2 280.0,323.7 281.0,325.2 282.0,324.8 283.0,323.8 284.0,323.5 285.0,321.3 286.0,320.3 287.0,321.1 288.0,320.6 289.0,321.3 290.0,320.1 291.0,318.9 292.0,319.4 293.0,318.8 294.0,318.1 295.0,317.7 296.0,317.3 297.0,316.4 298.0,315.3 299.0,315.0 300.0,315.0 301.0,314.7 302.0,314.4 303.0,314.1 304.0,313.8 305.0,315.1 306.0,313.4 307.0,311.7 308.0,312.2 309.0,312.8 310.0,312.5 311.0,312.4 312.0,312.4 313.0,312.4 314.0,312.2 315.0,311.9 316.0,310.9 317.0,310.3 318.0,311.8 319.0,313.1 320.0,313.3 321.0,314.1 322.0,312.8 323.0,312.5 324.0,312.7 325.0,312.7 326.0,312.6 327.0,312.2 328.0,311.7 329.0,311.2 330.0,310.7 331.0,310.1 332.0,309.6 333.0,308.0 334.0,308.1 335.0,308.7 336.0,309.1 337.0,308.2 338.0,307.3 339.0,305.1 340.0,305.3 341.0,306.3 342.0,306.5 343.0,305.7 344.0,304.9 345.0,304.6 346.0,304.6 347.0,304.8 348.0,305.2 349.0,305.6 350.0,305.2 351.0,305.6 352.0,306.5 353.0,306.0 354.0,307.3 355.0,307.9 356.0,306.4 357.0,304.4 358.0,303.3 359.0,303.5 360.0,303.7 361.0,303.2 362.0,302.8 363.0,302.1 364.0,301.8 365.0,301.7 366.0,301.2 367.0,300.8 368.0,301.4 369.0,300.9 370.0,300.3 371.0,300.4 372.0,301.4 373.0,299.9 374.0,298.4 375.0,299.9 376.0,301.5 377.0,301.5 378.0,301.1 379.0,300.2 380.0,300.7 381.0,301.4 382.0,300.7 383.0,301.1 384.0,300.6 385.0,300.0 386.0,300.8 387.0,300.1 388.0,298.2 389.0,296.9 390.0,298.0 391.0,298.2 392.0,298.7 393.0,299.2 394.0,300.3 395.0,300.3 396.0,301.1 397.0,301.9 398.0,302.5 399.0,303.2 400.0,303.8 401.0,304.5 402.0,305.9 403.0,306.7 404.0,306.7 405.0,306.3 406.0,305.4 407.0,304.4 408.0,304.3 409.0,304.0 410.0,303.9 411.0,302.6 412.0,302.5 413.0,302.2 414.0,302.1 415.0,301.3 416.0,300.5 417.0,299.9 418.0,300.0 419.0,301.6 420.0,303.2 421.0,300.4 422.0,300.8 423.0,302.3 424.0,303.8 425.0,303.9 426.0,304.1 427.0,304.5 428.0,304.5 429.0,304.6 430.0,304.4 431.0,305.3 432.0,305.6 433.0,305.9 434.0,307.4 435.0,307.6 436.0,307.8 437.0,307.7 438.0,307.0 439.0,307.8 440.0,306.1 441.0,306.5 442.0,306.7 443.0,306.7 444.0,307.0 445.0,306.4 446.0,304.8 447.0,306.0 448.0,306.8 449.0,307.0 450.0,307.7 451.0,308.4 452.0,309.9 453.0,310.6 454.0,311.2 455.0,310.6 456.0,310.9 457.0,311.2 458.0,311.4 459.0,312.1 460.0,312.5 461.0,312.2 462.0,312.9 463.0,313.4 464.0,313.6 465.0,313.8 466.0,313.4 467.0,314.6 468.0,312.7 469.0,313.6 470.0,314.6 471.0,313.4 472.0,314.3 473.0,316.0 474.0,315.6 475.0,316.8 476.0,317.3 477.0,317.8 478.0,318.6 479.0,318.8 480.0,318.2 481.0,318.2 482.0,318.1 483.0,318.0 484.0,318.0 485.0,317.4 486.0,317.1 487.0,317.8 488.0,317.6 489.0,317.5 490.0,318.6 491.0,319.6 492.0,320.7 493.0,320.3 494.0,319.1 495.0,318.5 496.0,321.5 497.0,322.2 498.0,322.7 499.0,323.2 500.0,324.3 501.0,324.1 502.0,323.9 503.0,325.8 504.0,326.6 505.0,327.4 506.0,327.9 507.0,329.6 508.0,330.0 509.0,331.2 510.0,331.0 511.0,331.6 512.0,331.4 513.0,331.0 514.0,333.0 515.0,333.0 516.0,333.1 517.0,333.8 518.0,335.3 519.0,335.5 520.0,335.7 521.0,336.5 522.0,336.7 523.0,337.0 524.0,337.7 525.0,337.2 526.0,337.2 527.0,338.1 528.0,338.3 529.0,338.2 530.0,338.4 531.0,339.0 532.0,338.6 533.0,338.6 534.0,338.6 535.0,338.8 536.0,339.1 537.0,339.6 538.0,340.8 539.0,339.9 540.0,341.6 541.0,342.8 542.0,344.0 543.0,344.2 544.0,344.4 545.0,344.7 546.0,344.9 547.0,344.3 548.0,344.4 549.0,344.2 550.0,345.1 551.0,345.6 552.0,345.3 553.0,345.0 554.0,345.7 555.0,345.5 556.0,344.8 557.0,344.1 558.0,344.2"/>
<polyline fill="none" stroke="#e8c030" stroke-width="1" shape-rendering="crispEdges" points="156.0,360.0 157.0,360.4 158.0,360.8 159.0,360.4 160.0,360.4 161.0,359.9 162.0,359.3 163.0,360.2 164.0,361.0 165.0,360.2 166.0,360.6 167.0,360.6 168.0,360.9 169.0,361.3 170.0,359.0 171.0,356.6 172.0,359.6 173.0,359.6 174.0,359.5 175.0,358.3 176.0,356.3 177.0,356.5 178.0,356.8 179.0,355.8 180.0,355.0 181.0,355.1 182.0,355.7 183.0,355.6 184.0,355.5 185.0,354.4 186.0,353.3 187.0,354.4 188.0,354.0 189.0,353.6 190.0,353.1 191.0,353.9 192.0,354.3 193.0,354.6 194.0,354.0 195.0,353.3 196.0,353.8 197.0,354.5 198.0,354.9 199.0,354.3 200.0,353.8 201.0,353.1 202.0,352.8 203.0,352.8 204.0,352.8 205.0,351.6 206.0,352.0 207.0,351.5 208.0,350.9 209.0,351.0 210.0,350.6 211.0,350.6 212.0,348.6 213.0,349.8 214.0,349.8 215.0,348.3 216.0,347.6 217.0,348.0 218.0,348.6 219.0,347.7 220.0,346.7 221.0,345.7 222.0,345.5 223.0,346.3 224.0,346.3 225.0,345.7 226.0,344.7 227.0,344.4 228.0,344.1 229.0,343.7 230.0,343.3 231.0,343.2 232.0,343.2 233.0,341.9 234.0,342.3 235.0,341.9 236.0,341.4 237.0,340.9 238.0,340.7 239.0,340.6 240.0,338.0 241.0,336.7 242.0,337.5 243.0,338.1 244.0,337.3 245.0,336.5 246.0,336.5 247.0,338.0 248.0,337.5 249.0,338.1 250.0,338.7 251.0,337.8 252.0,337.0 253.0,337.1 254.0,337.2 255.0,335.9 256.0,336.2 257.0,336.3 258.0,336.3 259.0,335.2 260.0,333.8 261.0,332.8 262.0,332.9 263.0,331.3 264.0,329.7 265.0,331.1 266.0,330.0 267.0,329.1 268.0,328.6 269.0,328.4 270.0,327.9 271.0,329.0 272.0,329.2 273.0,329.0 274.0,328.7 275.0,327.9 276.0,327.5 277.0,322.8 278.0,322.8 279.0,324.7 280.0,323.9 281.0,325.5 282.0,324.7 283.0,323.9 284.0,323.0 285.0,320.3 286.0,320.9 287.0,320.6 288.0,320.0 289.0,320.7 290.0,319.7 291.0,317.3 292.0,318.8 293.0,317.8 294.0,316.8 295.0,317.1 296.0,316.4 297.0,316.1 298.0,315.7 299.0,313.8 300.0,312.3 301.0,313.1 302.0,313.9 303.0,313.5 304.0,313.1 305.0,314.2 306.0,313.7 307.0,312.3 308.0,312.0 309.0,311.6 310.0,312.2 311.0,312.1 312.0,311.6 313.0,311.3 314.0,310.7 315.0,310.6 316.0,310.7 317.0,311.0 318.0,310.9 319.0,310.9 320.0,310.8 321.0,312.0 322.0,312.0 323.0,312.6 324.0,313.0 325.0,312.0 326.0,312.0 327.0,311.6 328.0,311.4 329.0,310.9 330.0,309.2 331.0,307.6 332.0,308.3 333.0,309.3 334.0,309.1 335.0,309.1 336.0,308.8 337.0,307.8 338.0,306.2 339.0,304.4 340.0,302.7 341.0,304.2 342.0,305.7 343.0,304.4 344.0,304.3 345.0,304.3 346.0,304.7 347.0,305.3 348.0,304.6 349.0,304.0 350.0,304.3 351.0,304.7 352.0,305.5 353.0,306.2 354.0,306.1 355.0,305.9 356.0,304.9 357.0,304.3 358.0,302.5 359.0,302.0 360.0,301.8 361.0,302.1 362.0,302.4 363.0,300.5 364.0,301.7 365.0,300.3 366.0,300.3 367.0,300.4 368.0,299.6 369.0,300.1 370.0,300.0 371.0,299.7 372.0,300.3 373.0,299.9 374.0,298.9 375.0,300.2 376.0,300.0 377.0,299.8 378.0,300.5 379.0,298.4 380.0,299.1 381.0,301.0 382.0,298.9 383.0,299.8 384.0,299.5 385.0,299.1 386.0,299.4 387.0,298.7 388.0,298.0 389.0,297.6 390.0,297.4 391.0,297.7 392.0,298.2 393.0,298.3 394.0,298.5 395.0,299.8 396.0,301.0 397.0,301.5 398.0,302.0 399.0,301.8 400.0,302.5 401.0,303.3 402.0,304.2 403.0,304.5 404.0,306.3 405.0,305.1 406.0,304.0 407.0,302.9 408.0,303.7 409.0,304.4 410.0,303.6 411.0,301.6 412.0,301.8 413.0,301.5 414.0,302.0 415.0,301.0 416.0,300.3 417.0,301.1 418.0,300.4 419.0,301.5 420.0,302.6 421.0,299.9 422.0,301.0 423.0,301.7 424.0,302.2 425.0,301.8 426.0,304.3 427.0,304.5 428.0,304.5 429.0,303.9 430.0,303.2 431.0,304.8 432.0,305.4 433.0,305.9 434.0,307.3 435.0,307.0 436.0,306.5 437.0,306.1 438.0,305.2 439.0,307.0 440.0,305.7 441.0,305.6 442.0,305.3 443.0,305.1 444.0,304.7 445.0,306.6 446.0,303.9 447.0,303.9 448.0,306.9 449.0,303.9 450.0,307.0 451.0,308.8 452.0,309.8 453.0,310.0 454.0,310.6 455.0,310.4 456.0,310.4 457.0,310.9 458.0,310.9 459.0,311.1 460.0,311.5 461.0,312.1 462.0,312.4 463.0,312.6 464.0,311.9 465.0,313.1 466.0,313.2 467.0,313.1 468.0,313.3 469.0,312.9 470.0,312.6 471.0,312.9 472.0,313.9 473.0,315.0 474.0,314.8 475.0,316.4 476.0,317.0 477.0,317.5 478.0,316.4 479.0,317.0 480.0,317.5 481.0,317.7 482.0,317.8 483.0,317.9 484.0,318.0 485.0,317.0 486.0,316.1 487.0,315.6 488.0,316.7 489.0,317.3 490.0,318.0 491.0,318.1 492.0,320.0 493.0,319.0 494.0,319.5 495.0,320.2 496.0,320.9 497.0,321.4 498.0,322.0 499.0,322.8 500.0,322.6 501.0,323.8 502.0,325.1 503.0,325.2 504.0,326.8 505.0,327.1 506.0,327.5 507.0,327.8 508.0,328.2 509.0,329.6 510.0,329.6 511.0,330.8 512.0,331.8 513.0,331.8 514.0,332.0 515.0,331.5 516.0,334.3 517.0,334.5 518.0,335.5 519.0,336.0 520.0,336.5 521.0,336.6 522.0,335.4 523.0,335.7 524.0,337.1 525.0,337.6 526.0,336.7 527.0,337.2 528.0,337.8 529.0,336.4 530.0,336.9 531.0,337.4 532.0,337.8 533.0,338.5 534.0,339.3 535.0,337.9 536.0,336.5 537.0,338.7 538.0,341.0 539.0,340.7 540.0,340.6 541.0,340.4 542.0,342.6 543.0,342.5 544.0,342.5 545.0,343.3 546.0,343.9 547.0,344.3 548.0,344.8 549.0,343.5 550.0,343.7 551.0,344.3 552.0,345.2 553.0,345.6 554.0,346.0 555.0,344.4 556.0,344.7 557.0,344.9 558.0,345.3"/>
<polyline fill="none" stroke="#cc7636" stroke-width="1" shape-rendering="crispEdges" points="156.0,360.5 157.0,360.1 158.0,360.3 159.0,360.5 160.0,359.1 161.0,359.0 162.0,359.2 163.0,360.4 164.0,360.3 165.0,360.1 166.0,360.1 167.0,360.1 168.0,360.2 169.0,360.2 170.0,358.9 171.0,357.8 172.0,357.0 173.0,357.6 174.0,357.0 175.0,357.0 176.0,356.2 177.0,356.4 178.0,356.6 179.0,354.6 180.0,354.3 181.0,354.7 182.0,355.6 183.0,355.2 184.0,355.2 185.0,354.7 186.0,354.1 187.0,353.6 188.0,352.2 189.0,352.6 190.0,353.0 191.0,353.1 192.0,353.3 193.0,353.8 194.0,353.8 195.0,354.0 196.0,353.6 197.0,353.3 198.0,354.4 199.0,353.9 200.0,353.3 201.0,352.3 202.0,352.3 203.0,352.4 204.0,352.2 205.0,351.6 206.0,348.8 207.0,349.8 208.0,351.4 209.0,349.5 210.0,349.1 211.0,349.4 212.0,349.6 213.0,349.2 214.0,349.7 215.0,348.5 216.0,347.2 217.0,346.9 218.0,345.4 219.0,345.8 220.0,346.2 221.0,345.2 222.0,345.3 223.0,346.1 224.0,346.5 225.0,345.3 226.0,343.8 227.0,343.6 228.0,343.4 229.0,341.4 230.0,342.9 231.0,342.3 232.0,342.0 233.0,341.6 234.0,341.2 235.0,341.0 236.0,341.0 237.0,340.5 238.0,338.4 239.0,338.1 240.0,337.2 241.0,337.0 242.0,337.0 243.0,337.3 244.0,337.7 245.0,336.3 246.0,334.7 247.0,335.9 248.0,336.8 249.0,337.7 250.0,338.5 251.0,337.6 252.0,336.7 253.0,336.7 254.0,336.6 255.0,335.6 256.0,336.5 257.0,336.0 258.0,335.2 259.0,334.3 260.0,334.0 261.0,333.2 262.0,333.2 263.0,331.5 264.0,329.8 265.0,329.9 266.0,329.2 267.0,328.8 268.0,328.0 269.0,327.5 270.0,327.7 271.0,328.3 272.0,328.7 273.0,328.4 274.0,328.3 275.0,325.1 276.0,326.7 277.0,324.9 278.0,323.8 279.0,324.6 280.0,324.3 281.0,324.0 282.0,323.2 283.0,322.7 284.0,322.5 285.0,320.4 286.0,320.1 287.0,320.3 288.0,319.7 289.0,320.6 290.0,319.7 291.0,319.1 292.0,318.6 293.0,316.4 294.0,314.3 295.0,316.1 296.0,315.6 297.0,315.1 298.0,314.0 299.0,313.8 300.0,313.7 301.0,313.9 302.0,314.1 303.0,313.8 304.0,313.6 305.0,314.2 306.0,313.3 307.0,311.5 308.0,312.5 309.0,311.9 310.0,311.4 311.0,311.2 312.0,311.1 313.0,311.2 314.0,310.9 315.0,310.8 316.0,310.1 317.0,310.3 318.0,310.9 319.0,311.3 320.0,309.1 321.0,310.5 322.0,310.8 323.0,311.6 324.0,312.2 325.0,311.8 326.0,311.3 327.0,311.5 328.0,311.7 329.0,310.5 330.0,309.3 331.0,309.2 332.0,308.0 333.0,306.5 334.0,305.1 335.0,306.4 336.0,307.8 337.0,306.4 338.0,304.9 339.0,304.5 340.0,304.1 341.0,304.4 342.0,304.8 343.0,305.4 344.0,304.8 345.0,304.4 346.0,304.7 347.0,303.5 348.0,303.7 349.0,303.9 350.0,303.6 351.0,303.7 352.0,304.6 353.0,305.5 354.0,305.9 355.0,307.1 356.0,305.6 357.0,303.9 358.0,302.8 359.0,303.0 360.0,302.7 361.0,302.0 362.0,302.0 363.0,301.2 364.0,300.8 365.0,301.0 366.0,300.8 367.0,300.7 368.0,300.3 369.0,299.6 370.0,298.6 371.0,299.8 372.0,300.3 373.0,298.8 374.0,297.3 375.0,298.6 376.0,298.9 377.0,299.7 378.0,300.0 379.0,297.3 380.0,298.3 381.0,300.6 382.0,297.9 383.0,300.8 384.0,299.7 385.0,299.2 386.0,299.0 387.0,297.9 388.0,296.8 389.0,297.7 390.0,296.6 391.0,297.2 392.0,298.1 393.0,297.8 394.0,298.6 395.0,299.4 396.0,299.3 397.0,300.1 398.0,301.6 399.0,301.2 400.0,303.0 401.0,303.0 402.0,302.9 403.0,304.8 404.0,304.3 405.0,303.3 406.0,303.7 407.0,304.0 408.0,303.4 409.0,302.8 410.0,302.6 411.0,301.3 412.0,302.2 413.0,301.1 414.0,300.6 415.0,300.3 416.0,298.9 417.0,300.9 418.0,299.4 419.0,300.7 420.0,301.9 421.0,299.2 422.0,300.3 423.0,301.7 424.0,303.2 425.0,303.5 426.0,303.8 427.0,304.0 428.0,303.0 429.0,302.9 430.0,301.8 431.0,301.7 432.0,304.7 433.0,304.2 434.0,304.6 435.0,305.3 436.0,306.0 437.0,303.5 438.0,303.4 439.0,305.4 440.0,305.4 441.0,305.7 442.0,305.9 443.0,305.7 444.0,305.3 445.0,305.1 446.0,302.8 447.0,303.7 448.0,304.8 449.0,304.7 450.0,305.7 451.0,307.2 452.0,308.7 453.0,309.2 454.0,309.7 455.0,309.9 456.0,310.4 457.0,310.8 458.0,311.0 459.0,310.9 460.0,310.6 461.0,311.3 462.0,312.0 463.0,312.2 464.0,312.9 465.0,313.5 466.0,312.9 467.0,312.2 468.0,312.3 469.0,312.7 470.0,313.5 471.0,310.8 472.0,313.4 473.0,313.3 474.0,312.3 475.0,314.9 476.0,316.3 477.0,316.7 478.0,317.3 479.0,317.3 480.0,317.0 481.0,317.4 482.0,316.6 483.0,317.3 484.0,316.3 485.0,316.6 486.0,315.8 487.0,316.6 488.0,316.6 489.0,316.8 490.0,317.2 491.0,317.5 492.0,317.8 493.0,316.6 494.0,317.3 495.0,318.7 496.0,319.7 497.0,320.6 498.0,321.6 499.0,322.3 500.0,323.1 501.0,323.8 502.0,324.6 503.0,325.5 504.0,326.4 505.0,327.2 506.0,327.8 507.0,328.4 508.0,329.3 509.0,330.2 510.0,330.2 511.0,331.0 512.0,331.4 513.0,331.7 514.0,331.7 515.0,331.7 516.0,332.6 517.0,333.2 518.0,333.9 519.0,334.6 520.0,335.3 521.0,334.6 522.0,333.3 523.0,334.4 524.0,336.5 525.0,337.4 526.0,336.9 527.0,336.3 528.0,336.6 529.0,336.6 530.0,336.9 531.0,337.5 532.0,336.9 533.0,338.0 534.0,339.3 535.0,337.9 536.0,337.4 537.0,338.6 538.0,340.3 539.0,340.1 540.0,340.8 541.0,338.3 542.0,341.9 543.0,341.0 544.0,340.0 545.0,341.7 546.0,343.2 547.0,341.4 548.0,343.0 549.0,342.8 550.0,343.1 551.0,343.8 552.0,343.8 553.0,345.7 554.0,345.4 555.0,344.1 556.0,344.6 557.0,344.2 558.0,344.1"/>
<g stroke="#000" stroke-width="1" fill="none" shape-rendering="crispEdges">
<line x1="155.5" y1="295.0" x2="155.5" y2="364.0"/>
<line x1="155.0" y1="363.5" x2="557.5" y2="363.5"/>
<line x1="155.5" y1="306.5" x2="162.0" y2="306.5"/>
<line x1="155.5" y1="322.5" x2="162.0" y2="322.5"/>
<line x1="155.5" y1="337.5" x2="162.0" y2="337.5"/>
<line x1="155.5" y1="353.5" x2="162.0" y2="353.5"/>
<line x1="224.5" y1="363.5" x2="224.5" y2="357.5"/>
<line x1="324.5" y1="363.5" x2="324.5" y2="357.5"/>
<line x1="424.5" y1="363.5" x2="424.5" y2="357.5"/>
<line x1="523.5" y1="363.5" x2="523.5" y2="357.5"/>
</g>
<g fill="#000" font-size="26">
<text transform="translate(355.0,275.3) scale(0.920,1)" text-anchor="middle">Bin 3</text>
<text transform="translate(224.5,398.3) scale(0.900,1)" text-anchor="middle">2350</text>
<text transform="translate(324.5,398.3) scale(0.900,1)" text-anchor="middle">2355</text>
<text transform="translate(424.5,398.3) scale(0.900,1)" text-anchor="middle">2360</text>
<text transform="translate(523.5,398.3) scale(0.900,1)" text-anchor="middle">2365</text>
<text transform="translate(148.5,318.2) scale(0.900,1)" text-anchor="end">20</text>
<text transform="translate(148.5,333.8) scale(0.900,1)" text-anchor="end">15</text>
<text transform="translate(148.5,349.5) scale(0.900,1)" text-anchor="end">10</text>
<text transform="translate(148.5,365.2) scale(0.900,1)" text-anchor="end">5</text>
<text transform="translate(354.5,436.1) scale(0.940,1)" text-anchor="middle">Wavenumber [cm<tspan font-size="17.5" dy="-11.8">-1</tspan><tspan dy="11.8">]</tspan></text>
<text transform="translate(108.5,330.3) rotate(-90) scale(0.940,1)" text-anchor="middle">ADU</text>
</g>
<g stroke="#000" stroke-width="1" stroke-dasharray="1 4" fill="none" shape-rendering="crispEdges"><line x1="684.0" y1="300.5" x2="1085.5" y2="300.5"/><line x1="684.0" y1="335.5" x2="1085.5" y2="335.5"/><line x1="752.5" y1="295.0" x2="752.5" y2="363.0"/><line x1="852.5" y1="295.0" x2="852.5" y2="363.0"/><line x1="952.5" y1="295.0" x2="952.5" y2="363.0"/><line x1="1051.5" y1="295.0" x2="1051.5" y2="363.0"/></g>
<polyline fill="none" stroke="#10308c" stroke-width="1" shape-rendering="crispEdges" points="684.0,363.0 685.0,363.0 686.0,362.6 687.0,362.3 688.0,362.0 689.0,363.0 690.0,362.8 691.0,362.5 692.0,362.4 693.0,362.5 694.0,361.4 695.0,361.7 696.0,362.7 697.0,360.9 698.0,361.7 699.0,362.2 700.0,361.3 701.0,360.4 702.0,359.6 703.0,358.9 704.0,358.6 705.0,358.7 706.0,358.5 707.0,358.2 708.0,357.9 709.0,357.1 710.0,356.4 711.0,356.0 712.0,357.6 713.0,358.1 714.0,356.6 715.0,356.6 716.0,357.2 717.0,356.8 718.0,356.5 719.0,357.4 720.0,357.3 721.0,357.1 722.0,357.0 723.0,357.5 724.0,356.1 725.0,355.1 726.0,354.5 727.0,354.6 728.0,354.7 729.0,354.5 730.0,354.5 731.0,354.0 732.0,353.6 733.0,352.8 734.0,353.5 735.0,353.0 736.0,352.5 737.0,352.1 738.0,351.7 739.0,350.8 740.0,350.6 741.0,350.7 742.0,352.4 743.0,350.8 744.0,349.0 745.0,349.5 746.0,349.9 747.0,350.4 748.0,351.2 749.0,349.4 750.0,349.1 751.0,348.9 752.0,349.4 753.0,350.1 754.0,347.9 755.0,347.0 756.0,346.0 757.0,346.6 758.0,346.0 759.0,344.9 760.0,344.8 761.0,345.0 762.0,345.2 763.0,344.0 764.0,342.7 765.0,342.8 766.0,343.8 767.0,344.3 768.0,342.2 769.0,340.1 770.0,339.8 771.0,339.6 772.0,339.0 773.0,338.4 774.0,338.7 775.0,339.5 776.0,339.7 777.0,338.7 778.0,338.4 779.0,338.4 780.0,338.4 781.0,338.2 782.0,338.0 783.0,338.5 784.0,338.1 785.0,337.3 786.0,336.6 787.0,335.8 788.0,336.5 789.0,336.4 790.0,335.3 791.0,334.3 792.0,334.3 793.0,334.2 794.0,331.8 795.0,330.0 796.0,329.6 797.0,329.8 798.0,329.4 799.0,328.7 800.0,329.8 801.0,330.3 802.0,330.0 803.0,330.5 804.0,329.1 805.0,327.9 806.0,326.8 807.0,327.7 808.0,326.7 809.0,324.4 810.0,324.8 811.0,325.0 812.0,323.3 813.0,321.7 814.0,321.4 815.0,321.2 816.0,320.5 817.0,318.8 818.0,319.0 819.0,319.3 820.0,319.0 821.0,318.8 822.0,318.7 823.0,318.1 824.0,318.0 825.0,317.8 826.0,317.9 827.0,318.3 828.0,318.4 829.0,317.7 830.0,315.8 831.0,315.9 832.0,315.6 833.0,315.3 834.0,315.8 835.0,314.8 836.0,313.9 837.0,313.4 838.0,313.1 839.0,312.3 840.0,311.6 841.0,311.9 842.0,311.3 843.0,308.5 844.0,309.7 845.0,310.9 846.0,310.1 847.0,309.6 848.0,309.7 849.0,310.1 850.0,311.1 851.0,312.7 852.0,312.7 853.0,312.5 854.0,312.4 855.0,312.2 856.0,312.7 857.0,312.3 858.0,311.9 859.0,311.5 860.0,311.3 861.0,311.0 862.0,311.1 863.0,310.4 864.0,309.1 865.0,307.8 866.0,306.6 867.0,307.4 868.0,307.2 869.0,307.2 870.0,306.5 871.0,305.2 872.0,305.6 873.0,306.0 874.0,308.4 875.0,307.1 876.0,306.6 877.0,306.8 878.0,306.7 879.0,306.4 880.0,305.9 881.0,305.7 882.0,304.9 883.0,304.3 884.0,304.1 885.0,304.1 886.0,304.3 887.0,306.1 888.0,305.6 889.0,305.7 890.0,305.7 891.0,304.8 892.0,303.7 893.0,302.8 894.0,302.0 895.0,301.2 896.0,300.1 897.0,299.0 898.0,298.7 899.0,300.0 900.0,300.3 901.0,300.6 902.0,300.8 903.0,300.7 904.0,299.7 905.0,298.6 906.0,300.2 907.0,301.7 908.0,301.4 909.0,301.2 910.0,300.2 911.0,300.2 912.0,300.1 913.0,299.3 914.0,298.9 915.0,299.4 916.0,299.8 917.0,300.3 918.0,300.5 919.0,301.0 920.0,300.3 921.0,299.7 922.0,299.7 923.0,300.2 924.0,300.8 925.0,301.1 926.0,300.8 927.0,300.9 928.0,301.9 929.0,300.7 930.0,300.9 931.0,301.5 932.0,300.7 933.0,302.1 934.0,302.2 935.0,301.6 936.0,301.0 937.0,300.4 938.0,299.5 939.0,300.3 940.0,300.5 941.0,301.6 942.0,302.3 943.0,303.0 944.0,302.8 945.0,301.4 946.0,300.0 947.0,301.2 948.0,300.4 949.0,300.3 950.0,300.4 951.0,300.5 952.0,301.2 953.0,301.7 954.0,301.9 955.0,302.0 956.0,301.9 957.0,300.8 958.0,300.7 959.0,300.8 960.0,300.9 961.0,302.4 962.0,302.9 963.0,303.5 964.0,303.7 965.0,303.9 966.0,305.8 967.0,305.8 968.0,307.2 969.0,308.2 970.0,308.6 971.0,308.4 972.0,308.0 973.0,307.4 974.0,307.6 975.0,307.7 976.0,308.6 977.0,306.8 978.0,307.6 979.0,308.5 980.0,309.1 981.0,310.1 982.0,310.6 983.0,311.8 984.0,310.6 985.0,311.9 986.0,313.2 987.0,312.9 988.0,312.3 989.0,312.7 990.0,313.1 991.0,312.9 992.0,312.4 993.0,313.9 994.0,315.5 995.0,315.0 996.0,314.8 997.0,315.4 998.0,315.4 999.0,316.3 1000.0,316.4 1001.0,316.6 1002.0,318.0 1003.0,318.8 1004.0,317.8 1005.0,318.1 1006.0,318.5 1007.0,317.8 1008.0,319.1 1009.0,320.2 1010.0,319.3 1011.0,318.1 1012.0,318.7 1013.0,319.3 1014.0,319.1 1015.0,317.6 1016.0,316.2 1017.0,317.6 1018.0,318.4 1019.0,319.1 1020.0,318.6 1021.0,318.1 1022.0,317.9 1023.0,317.3 1024.0,317.8 1025.0,318.3 1026.0,319.4 1027.0,320.4 1028.0,321.4 1029.0,321.6 1030.0,323.1 1031.0,324.1 1032.0,324.0 1033.0,324.5 1034.0,326.9 1035.0,327.7 1036.0,327.5 1037.0,328.4 1038.0,329.3 1039.0,330.6 1040.0,331.9 1041.0,331.1 1042.0,332.2 1043.0,332.5 1044.0,332.4 1045.0,333.2 1046.0,335.3 1047.0,335.9 1048.0,336.4 1049.0,335.4 1050.0,335.5 1051.0,336.1 1052.0,336.8 1053.0,336.6 1054.0,337.5 1055.0,338.6 1056.0,339.2 1057.0,339.3 1058.0,339.5 1059.0,340.8 1060.0,340.7 1061.0,340.6 1062.0,340.5 1063.0,340.3 1064.0,340.5 1065.0,341.2 1066.0,341.5 1067.0,341.5 1068.0,341.4 1069.0,341.4 1070.0,341.6 1071.0,342.3 1072.0,343.0 1073.0,344.1 1074.0,345.1 1075.0,346.0 1076.0,345.7 1077.0,345.7 1078.0,345.0 1079.0,344.4 1080.0,342.8 1081.0,344.4 1082.0,344.3 1083.0,345.3 1084.0,345.3 1085.0,345.2 1086.0,345.5"/>
<polyline fill="none" stroke="#3aa8e0" stroke-width="1" shape-rendering="crispEdges" points="684.0,362.4 685.0,362.1 686.0,361.8 687.0,362.8 688.0,361.1 689.0,361.4 690.0,361.7 691.0,361.5 692.0,361.3 693.0,361.4 694.0,361.5 695.0,361.0 696.0,361.1 697.0,360.8 698.0,361.3 699.0,362.1 700.0,361.1 701.0,359.9 702.0,359.3 703.0,358.8 704.0,357.3 705.0,357.5 706.0,357.8 707.0,357.6 708.0,357.3 709.0,356.1 710.0,355.9 711.0,355.6 712.0,357.0 713.0,357.4 714.0,356.0 715.0,356.2 716.0,356.9 717.0,356.4 718.0,355.8 719.0,357.0 720.0,357.1 721.0,356.7 722.0,356.3 723.0,355.7 724.0,355.0 725.0,355.0 726.0,355.0 727.0,354.2 728.0,353.5 729.0,354.1 730.0,353.6 731.0,353.2 732.0,352.7 733.0,352.9 734.0,353.3 735.0,352.0 736.0,350.6 737.0,350.5 738.0,350.8 739.0,350.6 740.0,350.4 741.0,350.3 742.0,349.7 743.0,349.2 744.0,348.6 745.0,348.6 746.0,348.5 747.0,348.4 748.0,348.9 749.0,349.6 750.0,349.2 751.0,348.8 752.0,348.7 753.0,348.4 754.0,348.1 755.0,347.1 756.0,346.1 757.0,345.8 758.0,345.5 759.0,343.4 760.0,343.5 761.0,343.7 762.0,343.9 763.0,342.4 764.0,342.2 765.0,342.5 766.0,342.1 767.0,341.2 768.0,340.5 769.0,339.9 770.0,339.9 771.0,339.9 772.0,339.5 773.0,337.8 774.0,337.7 775.0,338.2 776.0,339.2 777.0,339.6 778.0,338.4 779.0,338.1 780.0,337.5 781.0,338.0 782.0,338.5 783.0,337.7 784.0,336.9 785.0,337.2 786.0,336.6 787.0,336.0 788.0,335.3 789.0,335.8 790.0,335.7 791.0,333.9 792.0,332.0 793.0,331.6 794.0,330.8 795.0,329.7 796.0,329.4 797.0,329.7 798.0,328.4 799.0,327.2 800.0,328.9 801.0,329.4 802.0,329.3 803.0,329.1 804.0,328.2 805.0,328.0 806.0,326.9 807.0,325.8 808.0,325.5 809.0,324.3 810.0,322.9 811.0,322.1 812.0,321.9 813.0,321.8 814.0,320.9 815.0,320.2 816.0,319.8 817.0,319.5 818.0,319.9 819.0,318.7 820.0,318.6 821.0,318.7 822.0,318.6 823.0,318.4 824.0,317.4 825.0,316.4 826.0,316.7 827.0,316.9 828.0,316.7 829.0,315.6 830.0,313.9 831.0,314.4 832.0,315.4 833.0,314.7 834.0,313.7 835.0,313.4 836.0,313.1 837.0,313.2 838.0,311.9 839.0,311.5 840.0,310.7 841.0,310.5 842.0,309.5 843.0,308.2 844.0,309.4 845.0,310.3 846.0,309.1 847.0,309.0 848.0,309.5 849.0,310.2 850.0,311.8 851.0,312.7 852.0,312.1 853.0,311.7 854.0,311.1 855.0,311.4 856.0,310.9 857.0,310.5 858.0,310.8 859.0,311.7 860.0,311.6 861.0,310.8 862.0,310.0 863.0,310.4 864.0,308.8 865.0,307.3 866.0,305.9 867.0,306.5 868.0,306.1 869.0,305.7 870.0,305.4 871.0,304.5 872.0,304.7 873.0,304.7 874.0,306.7 875.0,306.2 876.0,306.3 877.0,306.6 878.0,305.2 879.0,305.4 880.0,305.4 881.0,304.7 882.0,304.1 883.0,304.1 884.0,304.4 885.0,303.6 886.0,304.0 887.0,305.9 888.0,306.6 889.0,306.3 890.0,305.7 891.0,304.5 892.0,302.8 893.0,302.2 894.0,301.7 895.0,300.5 896.0,299.7 897.0,299.0 898.0,298.5 899.0,299.9 900.0,299.1 901.0,299.7 902.0,300.3 903.0,299.5 904.0,299.3 905.0,298.7 906.0,299.2 907.0,299.8 908.0,299.8 909.0,298.7 910.0,300.7 911.0,298.5 912.0,297.7 913.0,298.0 914.0,298.7 915.0,298.4 916.0,298.4 917.0,298.6 918.0,299.3 919.0,299.6 920.0,299.5 921.0,299.3 922.0,300.1 923.0,300.0 924.0,300.0 925.0,300.4 926.0,300.5 927.0,300.5 928.0,301.1 929.0,300.3 930.0,300.4 931.0,301.4 932.0,300.1 933.0,301.7 934.0,301.3 935.0,300.5 936.0,299.7 937.0,300.4 938.0,298.9 939.0,299.1 940.0,299.5 941.0,300.0 942.0,300.8 943.0,300.6 944.0,299.6 945.0,299.4 946.0,299.3 947.0,299.6 948.0,299.1 949.0,299.2 950.0,299.6 951.0,299.6 952.0,301.1 953.0,301.9 954.0,301.7 955.0,300.9 956.0,300.5 957.0,300.4 958.0,300.3 959.0,301.3 960.0,301.3 961.0,301.2 962.0,302.7 963.0,303.2 964.0,303.6 965.0,303.9 966.0,304.2 967.0,306.1 968.0,306.4 969.0,307.0 970.0,307.6 971.0,307.9 972.0,308.1 973.0,308.0 974.0,307.9 975.0,307.8 976.0,307.1 977.0,306.7 978.0,306.6 979.0,306.7 980.0,307.3 981.0,308.0 982.0,307.9 983.0,309.7 984.0,310.5 985.0,311.2 986.0,311.8 987.0,312.4 988.0,311.9 989.0,312.4 990.0,312.8 991.0,312.8 992.0,313.1 993.0,313.3 994.0,313.7 995.0,314.0 996.0,316.3 997.0,316.2 998.0,314.7 999.0,316.3 1000.0,316.5 1001.0,316.8 1002.0,316.7 1003.0,316.1 1004.0,317.1 1005.0,318.2 1006.0,320.0 1007.0,318.2 1008.0,317.2 1009.0,318.1 1010.0,318.2 1011.0,318.0 1012.0,318.1 1013.0,317.8 1014.0,317.4 1015.0,316.6 1016.0,316.0 1017.0,316.6 1018.0,317.6 1019.0,317.5 1020.0,317.0 1021.0,317.8 1022.0,317.7 1023.0,316.8 1024.0,317.1 1025.0,317.5 1026.0,317.8 1027.0,319.2 1028.0,320.6 1029.0,321.1 1030.0,321.2 1031.0,323.8 1032.0,323.4 1033.0,323.1 1034.0,324.5 1035.0,325.9 1036.0,327.0 1037.0,328.1 1038.0,328.8 1039.0,330.0 1040.0,331.2 1041.0,331.6 1042.0,332.1 1043.0,332.1 1044.0,332.1 1045.0,333.6 1046.0,333.6 1047.0,334.3 1048.0,335.0 1049.0,335.5 1050.0,334.6 1051.0,335.3 1052.0,336.0 1053.0,337.1 1054.0,337.3 1055.0,337.7 1056.0,337.6 1057.0,337.8 1058.0,338.9 1059.0,340.5 1060.0,339.0 1061.0,340.9 1062.0,340.6 1063.0,340.2 1064.0,340.4 1065.0,340.6 1066.0,341.4 1067.0,341.0 1068.0,341.2 1069.0,341.4 1070.0,341.6 1071.0,341.9 1072.0,342.4 1073.0,342.8 1074.0,343.0 1075.0,342.7 1076.0,343.4 1077.0,344.3 1078.0,344.0 1079.0,343.6 1080.0,342.6 1081.0,344.3 1082.0,344.8 1083.0,345.2 1084.0,344.7 1085.0,344.1 1086.0,344.3"/>
<polyline fill="none" stroke="#7cc04c" stroke-width="1" shape-rendering="crispEdges" points="684.0,361.8 685.0,361.3 686.0,360.5 687.0,360.4 688.0,360.4 689.0,360.1 690.0,360.5 691.0,360.6 692.0,360.6 693.0,360.9 694.0,360.8 695.0,359.8 696.0,359.7 697.0,359.5 698.0,360.5 699.0,361.5 700.0,360.5 701.0,358.7 702.0,358.3 703.0,358.0 704.0,357.6 705.0,357.4 706.0,357.3 707.0,356.8 708.0,356.3 709.0,355.7 710.0,355.1 711.0,354.1 712.0,354.9 713.0,355.6 714.0,355.5 715.0,355.8 716.0,355.7 717.0,355.5 718.0,355.4 719.0,356.9 720.0,355.4 721.0,355.8 722.0,354.7 723.0,354.4 724.0,354.0 725.0,353.8 726.0,353.7 727.0,352.8 728.0,353.1 729.0,353.4 730.0,353.1 731.0,352.7 732.0,351.8 733.0,351.9 734.0,352.2 735.0,351.3 736.0,350.1 737.0,349.7 738.0,350.9 739.0,350.7 740.0,350.4 741.0,349.5 742.0,348.8 743.0,348.1 744.0,347.9 745.0,348.2 746.0,348.1 747.0,347.9 748.0,348.2 749.0,348.4 750.0,348.1 751.0,347.8 752.0,347.6 753.0,347.7 754.0,346.6 755.0,345.3 756.0,344.4 757.0,343.9 758.0,343.7 759.0,343.1 760.0,343.5 761.0,343.6 762.0,343.7 763.0,342.5 764.0,341.4 765.0,341.2 766.0,341.1 767.0,341.3 768.0,338.8 769.0,339.7 770.0,338.6 771.0,338.7 772.0,337.4 773.0,336.8 774.0,336.2 775.0,336.8 776.0,337.3 777.0,336.3 778.0,335.3 779.0,336.1 780.0,336.9 781.0,337.4 782.0,337.9 783.0,336.4 784.0,336.2 785.0,335.6 786.0,336.6 787.0,335.2 788.0,334.8 789.0,334.6 790.0,333.8 791.0,333.1 792.0,332.2 793.0,331.2 794.0,330.4 795.0,329.7 796.0,328.9 797.0,328.7 798.0,328.0 799.0,327.4 800.0,327.6 801.0,329.1 802.0,329.9 803.0,329.1 804.0,327.5 805.0,327.0 806.0,326.4 807.0,325.7 808.0,325.2 809.0,323.6 810.0,322.2 811.0,321.3 812.0,320.7 813.0,320.1 814.0,320.3 815.0,320.6 816.0,319.4 817.0,318.2 818.0,318.0 819.0,317.8 820.0,317.6 821.0,317.5 822.0,317.0 823.0,316.3 824.0,316.3 825.0,316.3 826.0,316.7 827.0,316.6 828.0,314.6 829.0,314.0 830.0,313.3 831.0,313.8 832.0,313.1 833.0,314.1 834.0,313.5 835.0,312.9 836.0,312.0 837.0,311.0 838.0,311.1 839.0,311.0 840.0,310.7 841.0,310.5 842.0,308.7 843.0,307.0 844.0,307.8 845.0,309.2 846.0,308.5 847.0,308.3 848.0,308.7 849.0,309.1 850.0,310.2 851.0,311.6 852.0,312.2 853.0,312.6 854.0,312.0 855.0,311.3 856.0,310.9 857.0,310.6 858.0,309.8 859.0,309.8 860.0,310.2 861.0,309.8 862.0,309.0 863.0,308.9 864.0,308.8 865.0,307.0 866.0,305.1 867.0,306.2 868.0,306.3 869.0,305.7 870.0,305.3 871.0,304.5 872.0,304.0 873.0,303.9 874.0,304.4 875.0,305.8 876.0,305.5 877.0,305.1 878.0,304.8 879.0,305.9 880.0,305.5 881.0,304.6 882.0,303.4 883.0,303.2 884.0,302.5 885.0,302.0 886.0,303.3 887.0,304.7 888.0,304.9 889.0,304.8 890.0,304.8 891.0,303.3 892.0,301.4 893.0,301.2 894.0,300.5 895.0,300.0 896.0,297.6 897.0,298.5 898.0,297.5 899.0,297.9 900.0,299.1 901.0,299.0 902.0,299.2 903.0,299.0 904.0,298.1 905.0,297.9 906.0,298.8 907.0,299.6 908.0,299.8 909.0,299.9 910.0,299.8 911.0,298.5 912.0,297.3 913.0,297.9 914.0,296.7 915.0,298.0 916.0,298.2 917.0,298.7 918.0,299.1 919.0,299.4 920.0,298.8 921.0,298.2 922.0,298.8 923.0,299.5 924.0,299.6 925.0,299.8 926.0,299.8 927.0,298.9 928.0,300.0 929.0,299.9 930.0,299.8 931.0,300.5 932.0,298.8 933.0,298.8 934.0,299.4 935.0,299.9 936.0,300.1 937.0,298.5 938.0,297.7 939.0,298.7 940.0,299.8 941.0,300.4 942.0,300.1 943.0,299.8 944.0,299.8 945.0,299.0 946.0,298.3 947.0,297.5 948.0,296.9 949.0,297.6 950.0,298.5 951.0,298.8 952.0,299.6 953.0,299.4 954.0,300.0 955.0,300.5 956.0,300.0 957.0,299.4 958.0,299.8 959.0,300.4 960.0,300.5 961.0,300.5 962.0,299.7 963.0,301.5 964.0,303.3 965.0,303.4 966.0,303.7 967.0,303.5 968.0,306.1 969.0,306.7 970.0,307.2 971.0,307.5 972.0,307.2 973.0,306.9 974.0,306.5 975.0,306.9 976.0,307.1 977.0,305.6 978.0,306.2 979.0,306.9 980.0,307.4 981.0,307.7 982.0,307.6 983.0,308.9 984.0,310.1 985.0,310.1 986.0,311.3 987.0,311.0 988.0,311.6 989.0,311.6 990.0,311.5 991.0,311.5 992.0,311.4 993.0,312.3 994.0,313.1 995.0,313.5 996.0,313.8 997.0,314.2 998.0,314.2 999.0,315.4 1000.0,315.2 1001.0,316.0 1002.0,316.8 1003.0,316.3 1004.0,317.0 1005.0,318.1 1006.0,318.4 1007.0,317.4 1008.0,318.0 1009.0,318.6 1010.0,318.4 1011.0,317.6 1012.0,317.4 1013.0,318.2 1014.0,317.9 1015.0,316.6 1016.0,315.5 1017.0,316.4 1018.0,316.5 1019.0,316.1 1020.0,317.0 1021.0,317.2 1022.0,317.5 1023.0,316.1 1024.0,315.8 1025.0,315.5 1026.0,316.8 1027.0,319.1 1028.0,319.7 1029.0,319.7 1030.0,321.4 1031.0,323.2 1032.0,322.7 1033.0,321.0 1034.0,322.9 1035.0,324.8 1036.0,325.9 1037.0,327.0 1038.0,327.6 1039.0,328.7 1040.0,329.5 1041.0,330.0 1042.0,331.0 1043.0,331.3 1044.0,331.5 1045.0,333.6 1046.0,334.2 1047.0,334.5 1048.0,334.7 1049.0,335.1 1050.0,333.5 1051.0,335.4 1052.0,335.0 1053.0,334.8 1054.0,336.0 1055.0,337.1 1056.0,337.6 1057.0,336.1 1058.0,336.5 1059.0,337.5 1060.0,337.9 1061.0,337.6 1062.0,339.0 1063.0,339.1 1064.0,339.6 1065.0,340.1 1066.0,340.7 1067.0,339.3 1068.0,340.2 1069.0,341.1 1070.0,341.9 1071.0,342.0 1072.0,342.3 1073.0,342.5 1074.0,343.1 1075.0,342.7 1076.0,342.8 1077.0,343.2 1078.0,342.2 1079.0,343.4 1080.0,341.8 1081.0,344.2 1082.0,345.0 1083.0,343.3 1084.0,343.0 1085.0,343.0 1086.0,344.4"/>
<polyline fill="none" stroke="#e8c030" stroke-width="1" shape-rendering="crispEdges" points="684.0,360.9 685.0,360.7 686.0,361.0 687.0,358.9 688.0,360.1 689.0,361.6 690.0,361.1 691.0,360.7 692.0,360.3 693.0,360.6 694.0,359.1 695.0,356.6 696.0,360.3 697.0,359.8 698.0,360.3 699.0,360.6 700.0,359.5 701.0,359.0 702.0,358.8 703.0,357.3 704.0,357.2 705.0,357.3 706.0,357.1 707.0,356.7 708.0,355.9 709.0,354.3 710.0,352.7 711.0,351.9 712.0,355.1 713.0,354.7 714.0,355.2 715.0,355.4 716.0,355.6 717.0,355.7 718.0,355.7 719.0,356.2 720.0,355.5 721.0,354.9 722.0,354.2 723.0,353.4 724.0,353.1 725.0,353.3 726.0,353.3 727.0,353.0 728.0,352.3 729.0,351.7 730.0,350.8 731.0,351.0 732.0,351.2 733.0,351.6 734.0,351.4 735.0,350.9 736.0,350.9 737.0,350.0 738.0,350.0 739.0,349.9 740.0,348.5 741.0,348.7 742.0,348.4 743.0,348.4 744.0,347.6 745.0,347.2 746.0,347.5 747.0,347.0 748.0,347.0 749.0,348.3 750.0,346.9 751.0,347.6 752.0,347.5 753.0,347.3 754.0,345.8 755.0,344.0 756.0,344.2 757.0,344.4 758.0,344.1 759.0,342.9 760.0,341.7 761.0,342.1 762.0,342.5 763.0,342.2 764.0,341.8 765.0,341.0 766.0,340.1 767.0,339.9 768.0,339.7 769.0,336.5 770.0,337.8 771.0,338.3 772.0,338.3 773.0,336.9 774.0,335.8 775.0,336.3 776.0,336.8 777.0,336.6 778.0,336.4 779.0,337.2 780.0,337.3 781.0,337.1 782.0,337.2 783.0,337.5 784.0,337.0 785.0,336.0 786.0,334.8 787.0,335.8 788.0,335.1 789.0,334.6 790.0,333.3 791.0,332.1 792.0,331.6 793.0,331.0 794.0,329.1 795.0,328.4 796.0,328.2 797.0,329.3 798.0,327.8 799.0,326.3 800.0,327.3 801.0,328.2 802.0,327.8 803.0,327.3 804.0,326.3 805.0,325.6 806.0,325.9 807.0,325.1 808.0,324.9 809.0,322.5 810.0,322.2 811.0,321.1 812.0,320.3 813.0,319.8 814.0,319.7 815.0,318.7 816.0,318.8 817.0,318.9 818.0,317.9 819.0,318.0 820.0,315.9 821.0,317.0 822.0,316.4 823.0,315.5 824.0,314.5 825.0,315.5 826.0,315.3 827.0,315.6 828.0,315.8 829.0,314.8 830.0,313.7 831.0,313.5 832.0,313.2 833.0,312.9 834.0,312.7 835.0,312.5 836.0,312.3 837.0,311.4 838.0,310.2 839.0,308.5 840.0,309.4 841.0,309.7 842.0,308.2 843.0,306.6 844.0,307.5 845.0,308.5 846.0,307.9 847.0,307.3 848.0,307.4 849.0,307.8 850.0,309.3 851.0,311.3 852.0,311.5 853.0,311.5 854.0,311.5 855.0,310.8 856.0,310.1 857.0,310.4 858.0,310.2 859.0,307.7 860.0,308.5 861.0,309.2 862.0,309.2 863.0,308.8 864.0,307.8 865.0,306.1 866.0,304.3 867.0,305.1 868.0,304.9 869.0,304.7 870.0,304.5 871.0,303.7 872.0,304.0 873.0,303.4 874.0,304.4 875.0,303.5 876.0,304.8 877.0,304.7 878.0,304.4 879.0,304.0 880.0,303.3 881.0,302.3 882.0,302.2 883.0,302.4 884.0,301.5 885.0,300.8 886.0,302.9 887.0,303.1 888.0,304.4 889.0,304.5 890.0,304.5 891.0,304.0 892.0,302.2 893.0,301.2 894.0,300.1 895.0,299.3 896.0,297.1 897.0,297.1 898.0,297.4 899.0,298.3 900.0,298.4 901.0,298.6 902.0,298.9 903.0,297.9 904.0,298.5 905.0,296.0 906.0,297.5 907.0,298.9 908.0,298.2 909.0,297.5 910.0,298.0 911.0,297.5 912.0,295.3 913.0,297.0 914.0,296.9 915.0,297.2 916.0,297.6 917.0,298.2 918.0,299.1 919.0,299.6 920.0,298.9 921.0,298.3 922.0,298.5 923.0,298.8 924.0,298.6 925.0,298.9 926.0,298.5 927.0,299.0 928.0,300.2 929.0,300.1 930.0,299.9 931.0,300.6 932.0,299.4 933.0,301.0 934.0,299.3 935.0,297.6 936.0,296.9 937.0,296.0 938.0,296.5 939.0,298.2 940.0,298.6 941.0,299.3 942.0,299.6 943.0,300.0 944.0,299.5 945.0,298.2 946.0,296.9 947.0,297.4 948.0,298.1 949.0,298.3 950.0,298.6 951.0,299.2 952.0,300.4 953.0,300.2 954.0,299.8 955.0,299.6 956.0,299.3 957.0,299.4 958.0,299.6 959.0,299.9 960.0,300.5 961.0,301.5 962.0,300.7 963.0,299.5 964.0,302.0 965.0,301.8 966.0,301.7 967.0,303.1 968.0,306.0 969.0,306.5 970.0,306.9 971.0,307.7 972.0,307.4 973.0,306.9 974.0,306.9 975.0,306.7 976.0,306.6 977.0,306.7 978.0,306.7 979.0,306.8 980.0,306.6 981.0,307.1 982.0,307.2 983.0,309.2 984.0,308.8 985.0,309.9 986.0,310.9 987.0,310.6 988.0,311.2 989.0,311.6 990.0,310.9 991.0,310.3 992.0,311.5 993.0,312.4 994.0,312.8 995.0,313.0 996.0,313.2 997.0,313.3 998.0,313.4 999.0,312.6 1000.0,315.2 1001.0,315.1 1002.0,314.9 1003.0,314.9 1004.0,316.2 1005.0,317.8 1006.0,317.8 1007.0,317.7 1008.0,316.9 1009.0,317.8 1010.0,317.9 1011.0,315.6 1012.0,316.5 1013.0,317.2 1014.0,317.1 1015.0,315.6 1016.0,314.2 1017.0,316.0 1018.0,317.1 1019.0,317.2 1020.0,317.2 1021.0,317.2 1022.0,317.0 1023.0,316.2 1024.0,316.0 1025.0,316.6 1026.0,317.3 1027.0,318.5 1028.0,318.9 1029.0,319.8 1030.0,320.7 1031.0,322.7 1032.0,321.4 1033.0,320.2 1034.0,324.0 1035.0,325.0 1036.0,325.5 1037.0,325.9 1038.0,326.8 1039.0,328.7 1040.0,330.1 1041.0,329.4 1042.0,328.6 1043.0,329.4 1044.0,330.1 1045.0,332.2 1046.0,332.9 1047.0,333.4 1048.0,333.8 1049.0,333.9 1050.0,332.1 1051.0,331.9 1052.0,333.3 1053.0,335.0 1054.0,335.9 1055.0,336.2 1056.0,337.3 1057.0,337.1 1058.0,337.0 1059.0,337.3 1060.0,337.6 1061.0,338.1 1062.0,338.5 1063.0,338.9 1064.0,339.6 1065.0,339.8 1066.0,339.9 1067.0,339.7 1068.0,339.8 1069.0,340.7 1070.0,341.5 1071.0,341.7 1072.0,341.9 1073.0,341.2 1074.0,341.9 1075.0,342.0 1076.0,342.8 1077.0,341.7 1078.0,342.1 1079.0,342.5 1080.0,341.1 1081.0,342.7 1082.0,343.2 1083.0,343.7 1084.0,343.0 1085.0,342.3 1086.0,343.3"/>
<polyline fill="none" stroke="#cc7636" stroke-width="1" shape-rendering="crispEdges" points="684.0,360.9 685.0,360.7 686.0,360.9 687.0,358.6 688.0,359.2 689.0,360.2 690.0,359.5 691.0,360.0 692.0,360.4 693.0,359.7 694.0,360.2 695.0,358.9 696.0,358.3 697.0,358.6 698.0,359.7 699.0,360.2 700.0,359.0 701.0,357.9 702.0,357.5 703.0,357.1 704.0,356.8 705.0,356.4 706.0,356.0 707.0,355.7 708.0,355.5 709.0,355.1 710.0,354.7 711.0,353.8 712.0,354.8 713.0,354.9 714.0,352.9 715.0,353.2 716.0,354.1 717.0,354.9 718.0,354.7 719.0,353.8 720.0,351.8 721.0,352.8 722.0,353.8 723.0,353.1 724.0,352.4 725.0,352.7 726.0,352.9 727.0,352.8 728.0,352.6 729.0,352.5 730.0,351.6 731.0,350.5 732.0,350.7 733.0,350.9 734.0,350.7 735.0,350.2 736.0,350.7 737.0,350.1 738.0,349.5 739.0,348.9 740.0,346.0 741.0,349.0 742.0,348.4 743.0,348.0 744.0,347.1 745.0,347.0 746.0,346.6 747.0,346.1 748.0,345.6 749.0,345.1 750.0,346.0 751.0,346.9 752.0,346.8 753.0,346.7 754.0,345.9 755.0,345.0 756.0,341.1 757.0,342.5 758.0,343.9 759.0,343.3 760.0,342.3 761.0,342.3 762.0,342.5 763.0,341.7 764.0,341.2 765.0,341.2 766.0,340.7 767.0,339.6 768.0,338.2 769.0,336.9 770.0,337.1 771.0,337.4 772.0,337.4 773.0,336.5 774.0,335.6 775.0,334.9 776.0,334.1 777.0,336.7 778.0,335.0 779.0,335.6 780.0,336.6 781.0,336.5 782.0,336.7 783.0,336.4 784.0,336.0 785.0,332.5 786.0,333.4 787.0,334.3 788.0,332.8 789.0,331.4 790.0,332.3 791.0,331.4 792.0,329.4 793.0,327.2 794.0,329.2 795.0,327.6 796.0,327.7 797.0,328.4 798.0,327.3 799.0,326.2 800.0,327.2 801.0,328.0 802.0,328.1 803.0,328.0 804.0,326.4 805.0,325.0 806.0,324.7 807.0,324.3 808.0,324.6 809.0,322.6 810.0,321.1 811.0,320.1 812.0,319.9 813.0,319.4 814.0,319.2 815.0,319.0 816.0,318.0 817.0,318.1 818.0,317.8 819.0,317.6 820.0,316.7 821.0,315.8 822.0,315.6 823.0,316.8 824.0,316.1 825.0,315.5 826.0,313.6 827.0,314.6 828.0,315.3 829.0,313.8 830.0,312.6 831.0,314.0 832.0,314.2 833.0,313.7 834.0,312.9 835.0,311.7 836.0,311.2 837.0,310.9 838.0,309.5 839.0,310.0 840.0,308.9 841.0,308.7 842.0,307.7 843.0,306.1 844.0,307.0 845.0,308.5 846.0,307.9 847.0,307.4 848.0,307.5 849.0,307.8 850.0,308.9 851.0,310.9 852.0,311.4 853.0,310.4 854.0,309.3 855.0,309.7 856.0,310.0 857.0,309.5 858.0,309.1 859.0,308.6 860.0,308.4 861.0,308.2 862.0,308.3 863.0,308.4 864.0,307.3 865.0,306.2 866.0,304.8 867.0,304.9 868.0,304.6 869.0,304.2 870.0,304.1 871.0,303.6 872.0,303.8 873.0,303.3 874.0,303.9 875.0,304.2 876.0,304.6 877.0,304.4 878.0,303.9 879.0,303.9 880.0,303.6 881.0,303.2 882.0,302.5 883.0,302.0 884.0,301.9 885.0,302.1 886.0,302.4 887.0,304.1 888.0,304.2 889.0,303.7 890.0,303.1 891.0,303.1 892.0,302.8 893.0,300.8 894.0,299.0 895.0,298.4 896.0,297.5 897.0,297.6 898.0,296.5 899.0,298.2 900.0,297.8 901.0,297.5 902.0,298.0 903.0,298.3 904.0,298.3 905.0,296.4 906.0,297.2 907.0,298.0 908.0,298.3 909.0,298.6 910.0,298.3 911.0,297.0 912.0,295.7 913.0,296.4 914.0,295.3 915.0,296.9 916.0,297.8 917.0,298.2 918.0,298.7 919.0,298.5 920.0,297.9 921.0,297.6 922.0,297.8 923.0,298.6 924.0,299.1 925.0,299.8 926.0,299.7 927.0,299.3 928.0,299.7 929.0,299.0 930.0,296.9 931.0,297.1 932.0,296.0 933.0,299.7 934.0,300.1 935.0,299.6 936.0,299.2 937.0,298.5 938.0,297.3 939.0,297.3 940.0,298.1 941.0,299.0 942.0,298.9 943.0,298.7 944.0,298.1 945.0,298.0 946.0,297.9 947.0,297.3 948.0,298.1 949.0,297.8 950.0,297.7 951.0,298.5 952.0,299.0 953.0,298.8 954.0,299.2 955.0,299.4 956.0,299.2 957.0,299.4 958.0,299.7 959.0,299.7 960.0,299.0 961.0,299.5 962.0,300.0 963.0,300.3 964.0,300.7 965.0,301.1 966.0,301.7 967.0,302.8 968.0,305.4 969.0,305.1 970.0,305.7 971.0,305.8 972.0,306.3 973.0,306.0 974.0,306.1 975.0,305.9 976.0,305.4 977.0,305.4 978.0,305.8 979.0,305.9 980.0,306.2 981.0,306.9 982.0,307.0 983.0,308.1 984.0,308.4 985.0,309.7 986.0,309.2 987.0,309.8 988.0,310.2 989.0,310.7 990.0,311.1 991.0,311.5 992.0,311.5 993.0,312.2 994.0,312.5 995.0,312.7 996.0,313.1 997.0,313.0 998.0,312.8 999.0,314.1 1000.0,314.6 1001.0,314.9 1002.0,315.3 1003.0,314.8 1004.0,315.5 1005.0,316.5 1006.0,316.8 1007.0,315.0 1008.0,316.3 1009.0,317.3 1010.0,317.4 1011.0,315.9 1012.0,315.1 1013.0,315.6 1014.0,316.1 1015.0,314.9 1016.0,313.8 1017.0,315.3 1018.0,315.3 1019.0,315.8 1020.0,316.1 1021.0,315.8 1022.0,315.5 1023.0,315.4 1024.0,316.2 1025.0,316.2 1026.0,316.3 1027.0,317.9 1028.0,319.7 1029.0,319.4 1030.0,320.6 1031.0,321.6 1032.0,321.4 1033.0,321.3 1034.0,323.3 1035.0,324.0 1036.0,325.1 1037.0,326.2 1038.0,325.6 1039.0,326.9 1040.0,328.2 1041.0,329.9 1042.0,331.5 1043.0,331.2 1044.0,330.6 1045.0,332.1 1046.0,332.9 1047.0,333.3 1048.0,334.0 1049.0,333.6 1050.0,333.2 1051.0,333.3 1052.0,333.3 1053.0,334.6 1054.0,336.0 1055.0,336.5 1056.0,336.5 1057.0,336.3 1058.0,336.2 1059.0,336.7 1060.0,337.8 1061.0,338.2 1062.0,338.1 1063.0,337.8 1064.0,338.6 1065.0,339.4 1066.0,339.2 1067.0,338.7 1068.0,339.5 1069.0,340.3 1070.0,339.5 1071.0,338.7 1072.0,340.1 1073.0,341.3 1074.0,341.8 1075.0,341.8 1076.0,340.7 1077.0,341.3 1078.0,341.9 1079.0,341.1 1080.0,339.3 1081.0,342.1 1082.0,342.7 1083.0,343.3 1084.0,342.7 1085.0,341.9 1086.0,341.5"/>
<g stroke="#000" stroke-width="1" fill="none" shape-rendering="crispEdges">
<line x1="683.5" y1="295.0" x2="683.5" y2="364.0"/>
<line x1="683.0" y1="363.5" x2="1085.5" y2="363.5"/>
<line x1="683.5" y1="300.5" x2="690.0" y2="300.5"/>
<line x1="683.5" y1="335.5" x2="690.0" y2="335.5"/>
<line x1="752.5" y1="363.5" x2="752.5" y2="357.5"/>
<line x1="852.5" y1="363.5" x2="852.5" y2="357.5"/>
<line x1="952.5" y1="363.5" x2="952.5" y2="357.5"/>
<line x1="1051.5" y1="363.5" x2="1051.5" y2="357.5"/>
</g>
<g fill="#000" font-size="26">
<text transform="translate(883.0,275.3) scale(0.920,1)" text-anchor="middle">Bin 4</text>
<text transform="translate(752.5,398.3) scale(0.900,1)" text-anchor="middle">2350</text>
<text transform="translate(852.5,398.3) scale(0.900,1)" text-anchor="middle">2355</text>
<text transform="translate(952.5,398.3) scale(0.900,1)" text-anchor="middle">2360</text>
<text transform="translate(1051.5,398.3) scale(0.900,1)" text-anchor="middle">2365</text>
<text transform="translate(676.5,312.2) scale(0.900,1)" text-anchor="end">20</text>
<text transform="translate(676.5,347.2) scale(0.900,1)" text-anchor="end">10</text>
<text transform="translate(882.5,436.1) scale(0.940,1)" text-anchor="middle">Wavenumber [cm<tspan font-size="17.5" dy="-11.8">-1</tspan><tspan dy="11.8">]</tspan></text>
<text transform="translate(636.5,330.3) rotate(-90) scale(0.940,1)" text-anchor="middle">ADU</text>
</g>
<g stroke="#000" stroke-width="1" stroke-dasharray="1 4" fill="none" shape-rendering="crispEdges"><line x1="156.0" y1="496.5" x2="557.5" y2="496.5"/><line x1="156.0" y1="531.5" x2="557.5" y2="531.5"/><line x1="224.5" y1="493.0" x2="224.5" y2="560.0"/><line x1="324.5" y1="493.0" x2="324.5" y2="560.0"/><line x1="424.5" y1="493.0" x2="424.5" y2="560.0"/><line x1="523.5" y1="493.0" x2="523.5" y2="560.0"/></g>
<polyline fill="none" stroke="#10308c" stroke-width="1" shape-rendering="crispEdges" points="156.0,560.5 157.0,560.5 158.0,560.5 159.0,560.5 160.0,560.5 161.0,560.2 162.0,559.2 163.0,560.0 164.0,559.8 165.0,559.7 166.0,558.8 167.0,558.7 168.0,559.1 169.0,559.4 170.0,558.9 171.0,558.1 172.0,558.0 173.0,557.9 174.0,557.2 175.0,556.6 176.0,556.2 177.0,555.9 178.0,555.5 179.0,555.9 180.0,556.0 181.0,555.8 182.0,555.3 183.0,554.8 184.0,555.2 185.0,555.5 186.0,556.3 187.0,555.8 188.0,555.6 189.0,556.0 190.0,555.3 191.0,554.6 192.0,554.0 193.0,553.5 194.0,553.1 195.0,552.8 196.0,551.9 197.0,551.0 198.0,550.2 199.0,550.6 200.0,553.1 201.0,551.0 202.0,548.8 203.0,549.5 204.0,550.2 205.0,550.1 206.0,549.1 207.0,548.1 208.0,549.0 209.0,548.6 210.0,548.3 211.0,547.9 212.0,547.8 213.0,547.7 214.0,546.0 215.0,544.4 216.0,544.6 217.0,544.8 218.0,546.3 219.0,546.5 220.0,546.1 221.0,545.6 222.0,545.1 223.0,544.5 224.0,544.2 225.0,543.9 226.0,543.7 227.0,543.1 228.0,543.0 229.0,543.1 230.0,542.5 231.0,542.9 232.0,541.6 233.0,541.4 234.0,541.7 235.0,541.9 236.0,541.4 237.0,540.9 238.0,539.5 239.0,539.5 240.0,538.1 241.0,536.0 242.0,535.6 243.0,536.3 244.0,537.2 245.0,534.1 246.0,534.5 247.0,535.0 248.0,535.8 249.0,536.0 250.0,535.6 251.0,535.3 252.0,535.6 253.0,535.9 254.0,534.5 255.0,533.8 256.0,535.4 257.0,537.1 258.0,535.0 259.0,533.9 260.0,532.4 261.0,531.9 262.0,531.7 263.0,531.3 264.0,531.3 265.0,530.4 266.0,529.5 267.0,529.4 268.0,528.7 269.0,529.5 270.0,529.0 271.0,528.9 272.0,528.8 273.0,528.5 274.0,527.5 275.0,528.3 276.0,527.7 277.0,526.8 278.0,524.9 279.0,523.5 280.0,523.0 281.0,521.7 282.0,520.5 283.0,519.4 284.0,519.2 285.0,519.3 286.0,519.2 287.0,520.3 288.0,521.4 289.0,520.6 290.0,519.7 291.0,520.0 292.0,520.3 293.0,520.0 294.0,520.4 295.0,518.9 296.0,518.8 297.0,517.7 298.0,517.2 299.0,516.7 300.0,516.6 301.0,516.5 302.0,517.5 303.0,517.2 304.0,516.5 305.0,516.0 306.0,515.8 307.0,515.5 308.0,514.9 309.0,514.8 310.0,513.4 311.0,512.5 312.0,512.3 313.0,511.6 314.0,512.3 315.0,513.1 316.0,511.3 317.0,509.6 318.0,509.6 319.0,510.0 320.0,510.4 321.0,509.4 322.0,508.7 323.0,510.5 324.0,510.6 325.0,509.9 326.0,509.0 327.0,509.4 328.0,510.5 329.0,510.9 330.0,511.5 331.0,512.0 332.0,511.0 333.0,508.9 334.0,510.1 335.0,508.9 336.0,508.4 337.0,508.5 338.0,507.3 339.0,506.0 340.0,505.9 341.0,506.1 342.0,505.5 343.0,505.3 344.0,504.7 345.0,504.4 346.0,504.5 347.0,505.1 348.0,505.2 349.0,504.0 350.0,502.9 351.0,505.5 352.0,505.3 353.0,505.6 354.0,506.1 355.0,506.6 356.0,505.8 357.0,504.9 358.0,505.5 359.0,505.2 360.0,504.9 361.0,503.0 362.0,504.3 363.0,503.0 364.0,501.5 365.0,500.8 366.0,499.8 367.0,499.3 368.0,498.2 369.0,498.0 370.0,499.2 371.0,497.9 372.0,498.3 373.0,498.8 374.0,498.5 375.0,498.3 376.0,498.8 377.0,499.0 378.0,499.3 379.0,498.8 380.0,498.8 381.0,497.9 382.0,497.6 383.0,498.0 384.0,496.6 385.0,495.9 386.0,493.8 387.0,494.9 388.0,496.1 389.0,496.5 390.0,497.0 391.0,497.3 392.0,497.8 393.0,498.6 394.0,499.3 395.0,499.9 396.0,500.5 397.0,500.9 398.0,501.2 399.0,501.3 400.0,501.8 401.0,502.1 402.0,502.3 403.0,502.2 404.0,501.9 405.0,501.8 406.0,501.5 407.0,500.7 408.0,500.4 409.0,500.3 410.0,499.9 411.0,499.6 412.0,499.6 413.0,499.3 414.0,499.8 415.0,500.5 416.0,501.6 417.0,501.9 418.0,501.8 419.0,501.4 420.0,502.0 421.0,502.2 422.0,503.6 423.0,505.5 424.0,504.6 425.0,503.7 426.0,504.2 427.0,504.0 428.0,503.6 429.0,503.7 430.0,503.3 431.0,504.0 432.0,504.7 433.0,504.6 434.0,503.7 435.0,502.7 436.0,503.0 437.0,503.3 438.0,503.8 439.0,504.1 440.0,504.4 441.0,505.4 442.0,505.1 443.0,505.9 444.0,506.6 445.0,506.8 446.0,506.1 447.0,506.5 448.0,506.9 449.0,506.5 450.0,507.1 451.0,507.5 452.0,507.4 453.0,507.4 454.0,507.6 455.0,508.0 456.0,508.5 457.0,509.4 458.0,510.1 459.0,510.8 460.0,512.0 461.0,512.6 462.0,512.5 463.0,512.3 464.0,512.5 465.0,514.6 466.0,513.4 467.0,512.9 468.0,512.7 469.0,512.7 470.0,512.1 471.0,512.0 472.0,512.1 473.0,513.5 474.0,512.4 475.0,512.5 476.0,513.7 477.0,515.4 478.0,517.2 479.0,517.5 480.0,517.3 481.0,519.4 482.0,520.2 483.0,519.8 484.0,519.3 485.0,519.2 486.0,518.5 487.0,517.5 488.0,518.5 489.0,517.6 490.0,519.9 491.0,520.3 492.0,520.8 493.0,521.3 494.0,522.9 495.0,521.2 496.0,521.1 497.0,521.0 498.0,521.6 499.0,522.3 500.0,522.4 501.0,522.6 502.0,522.4 503.0,523.6 504.0,525.7 505.0,524.9 506.0,526.2 507.0,527.4 508.0,528.7 509.0,528.7 510.0,528.8 511.0,530.2 512.0,530.5 513.0,530.4 514.0,531.1 515.0,531.7 516.0,530.9 517.0,529.9 518.0,529.9 519.0,531.4 520.0,532.2 521.0,532.7 522.0,533.2 523.0,533.9 524.0,534.6 525.0,533.6 526.0,534.2 527.0,534.7 528.0,534.1 529.0,534.6 530.0,535.3 531.0,536.5 532.0,537.0 533.0,537.1 534.0,537.6 535.0,538.1 536.0,538.5 537.0,539.0 538.0,539.4 539.0,540.1 540.0,542.3 541.0,542.9 542.0,543.1 543.0,541.4 544.0,541.7 545.0,542.3 546.0,543.0 547.0,544.1 548.0,542.3 549.0,543.0 550.0,543.7 551.0,544.8 552.0,543.9 553.0,543.0 554.0,544.2 555.0,543.6 556.0,542.9 557.0,543.6 558.0,544.8"/>
<polyline fill="none" stroke="#3aa8e0" stroke-width="1" shape-rendering="crispEdges" points="156.0,559.4 157.0,560.3 158.0,559.3 159.0,560.3 160.0,560.5 161.0,559.7 162.0,558.1 163.0,559.1 164.0,559.6 165.0,559.5 166.0,558.7 167.0,557.6 168.0,557.6 169.0,557.1 170.0,558.4 171.0,556.9 172.0,556.8 173.0,557.2 174.0,556.5 175.0,555.8 176.0,555.6 177.0,555.4 178.0,554.3 179.0,554.1 180.0,554.7 181.0,554.3 182.0,554.1 183.0,553.8 184.0,554.2 185.0,554.6 186.0,555.5 187.0,555.2 188.0,555.5 189.0,555.2 190.0,554.7 191.0,554.5 192.0,554.1 193.0,553.2 194.0,552.4 195.0,552.8 196.0,551.9 197.0,550.9 198.0,549.6 199.0,550.2 200.0,550.1 201.0,549.8 202.0,548.8 203.0,550.2 204.0,550.4 205.0,549.9 206.0,548.6 207.0,547.2 208.0,548.3 209.0,547.3 210.0,547.2 211.0,547.1 212.0,546.5 213.0,545.9 214.0,545.3 215.0,544.7 216.0,544.8 217.0,544.9 218.0,545.5 219.0,544.5 220.0,543.4 221.0,543.5 222.0,545.3 223.0,545.9 224.0,545.0 225.0,544.0 226.0,542.9 227.0,541.9 228.0,542.6 229.0,542.9 230.0,542.6 231.0,542.3 232.0,541.0 233.0,540.8 234.0,540.4 235.0,540.1 236.0,539.6 237.0,539.4 238.0,539.1 239.0,538.3 240.0,537.4 241.0,535.5 242.0,535.8 243.0,535.7 244.0,534.8 245.0,533.5 246.0,534.2 247.0,535.0 248.0,534.9 249.0,534.3 250.0,536.1 251.0,536.2 252.0,535.0 253.0,533.8 254.0,533.3 255.0,533.6 256.0,533.9 257.0,535.0 258.0,534.5 259.0,534.1 260.0,533.3 261.0,531.1 262.0,530.5 263.0,530.9 264.0,531.2 265.0,531.2 266.0,529.5 267.0,528.8 268.0,528.9 269.0,529.2 270.0,528.6 271.0,528.0 272.0,527.5 273.0,528.0 274.0,527.8 275.0,527.0 276.0,526.5 277.0,525.8 278.0,524.5 279.0,523.2 280.0,521.4 281.0,521.3 282.0,521.4 283.0,519.9 284.0,518.3 285.0,518.1 286.0,518.1 287.0,518.2 288.0,518.2 289.0,518.3 290.0,518.7 291.0,520.1 292.0,520.1 293.0,518.2 294.0,518.4 295.0,518.6 296.0,517.5 297.0,517.4 298.0,516.7 299.0,516.6 300.0,516.4 301.0,516.2 302.0,516.3 303.0,516.4 304.0,516.1 305.0,516.1 306.0,516.3 307.0,514.4 308.0,514.2 309.0,513.0 310.0,512.2 311.0,511.4 312.0,511.3 313.0,511.4 314.0,511.9 315.0,511.2 316.0,509.8 317.0,509.0 318.0,508.3 319.0,508.3 320.0,508.2 321.0,508.1 322.0,508.1 323.0,508.0 324.0,508.1 325.0,508.7 326.0,509.4 327.0,509.4 328.0,510.4 329.0,510.6 330.0,510.3 331.0,509.8 332.0,509.3 333.0,507.6 334.0,509.5 335.0,508.4 336.0,508.0 337.0,507.4 338.0,506.7 339.0,506.0 340.0,505.4 341.0,505.5 342.0,506.4 343.0,505.4 344.0,504.1 345.0,504.3 346.0,503.0 347.0,503.4 348.0,502.6 349.0,501.8 350.0,502.3 351.0,503.9 352.0,503.3 353.0,503.6 354.0,503.5 355.0,503.4 356.0,504.3 357.0,503.8 358.0,503.3 359.0,504.2 360.0,505.0 361.0,502.4 362.0,503.1 363.0,502.5 364.0,501.7 365.0,500.1 366.0,498.9 367.0,498.5 368.0,499.1 369.0,498.4 370.0,497.7 371.0,498.0 372.0,498.2 373.0,497.2 374.0,497.2 375.0,497.4 376.0,496.7 377.0,497.7 378.0,498.8 379.0,498.6 380.0,497.8 381.0,496.5 382.0,496.9 383.0,497.2 384.0,496.6 385.0,496.0 386.0,494.9 387.0,495.0 388.0,495.2 389.0,495.0 390.0,495.5 391.0,496.1 392.0,497.2 393.0,498.4 394.0,499.3 395.0,500.2 396.0,500.1 397.0,500.0 398.0,500.2 399.0,500.5 400.0,501.8 401.0,502.1 402.0,502.4 403.0,501.9 404.0,502.0 405.0,501.7 406.0,501.0 407.0,500.3 408.0,499.8 409.0,499.2 410.0,499.3 411.0,499.2 412.0,498.8 413.0,498.5 414.0,498.9 415.0,500.1 416.0,501.2 417.0,501.1 418.0,500.9 419.0,501.2 420.0,501.3 421.0,502.1 422.0,502.6 423.0,503.0 424.0,503.3 425.0,503.2 426.0,504.1 427.0,503.2 428.0,503.2 429.0,503.2 430.0,502.7 431.0,502.3 432.0,502.2 433.0,503.3 434.0,503.0 435.0,502.2 436.0,502.8 437.0,503.4 438.0,504.0 439.0,504.2 440.0,505.7 441.0,504.3 442.0,504.7 443.0,505.1 444.0,505.7 445.0,506.3 446.0,506.3 447.0,506.1 448.0,506.3 449.0,506.3 450.0,507.3 451.0,506.7 452.0,506.5 453.0,506.7 454.0,506.9 455.0,507.4 456.0,507.9 457.0,508.7 458.0,509.6 459.0,510.2 460.0,510.9 461.0,511.5 462.0,511.5 463.0,511.7 464.0,512.2 465.0,512.6 466.0,513.5 467.0,513.8 468.0,512.3 469.0,512.4 470.0,512.4 471.0,511.7 472.0,511.1 473.0,511.6 474.0,511.4 475.0,511.4 476.0,513.7 477.0,515.6 478.0,517.2 479.0,518.6 480.0,517.3 481.0,518.1 482.0,518.8 483.0,519.4 484.0,519.8 485.0,519.4 486.0,518.4 487.0,517.4 488.0,517.3 489.0,517.4 490.0,518.4 491.0,519.0 492.0,519.3 493.0,518.9 494.0,519.4 495.0,520.3 496.0,520.1 497.0,519.8 498.0,520.5 499.0,521.2 500.0,522.1 501.0,522.5 502.0,521.6 503.0,523.3 504.0,525.0 505.0,525.6 506.0,525.8 507.0,525.9 508.0,526.3 509.0,526.8 510.0,527.5 511.0,528.2 512.0,528.2 513.0,529.2 514.0,530.5 515.0,531.8 516.0,531.8 517.0,529.6 518.0,529.6 519.0,531.4 520.0,531.4 521.0,530.9 522.0,533.1 523.0,532.4 524.0,531.8 525.0,534.3 526.0,533.2 527.0,533.8 528.0,533.6 529.0,534.4 530.0,535.1 531.0,535.5 532.0,536.1 533.0,536.2 534.0,537.6 535.0,537.9 536.0,538.5 537.0,539.3 538.0,539.4 539.0,539.3 540.0,540.9 541.0,541.6 542.0,541.8 543.0,541.6 544.0,541.3 545.0,542.4 546.0,542.7 547.0,543.0 548.0,541.6 549.0,542.1 550.0,542.7 551.0,542.5 552.0,542.3 553.0,542.3 554.0,541.8 555.0,542.0 556.0,542.3 557.0,542.4 558.0,542.5"/>
<polyline fill="none" stroke="#7cc04c" stroke-width="1" shape-rendering="crispEdges" points="156.0,559.9 157.0,559.5 158.0,559.2 159.0,559.0 160.0,560.5 161.0,558.1 162.0,558.0 163.0,558.7 164.0,558.4 165.0,559.0 166.0,557.7 167.0,556.7 168.0,558.3 169.0,558.1 170.0,557.9 171.0,556.4 172.0,557.1 173.0,557.2 174.0,556.0 175.0,555.3 176.0,554.5 177.0,554.6 178.0,554.0 179.0,554.2 180.0,554.5 181.0,553.6 182.0,553.5 183.0,553.4 184.0,554.0 185.0,554.7 186.0,555.4 187.0,554.7 188.0,554.5 189.0,554.3 190.0,553.8 191.0,553.3 192.0,553.3 193.0,552.2 194.0,552.3 195.0,552.3 196.0,550.5 197.0,551.1 198.0,549.9 199.0,549.9 200.0,550.1 201.0,549.2 202.0,548.3 203.0,549.2 204.0,550.0 205.0,548.6 206.0,548.0 207.0,547.3 208.0,546.5 209.0,547.3 210.0,546.1 211.0,546.8 212.0,546.4 213.0,545.9 214.0,544.7 215.0,543.7 216.0,543.9 217.0,544.0 218.0,544.1 219.0,544.3 220.0,543.0 221.0,541.9 222.0,542.6 223.0,543.4 224.0,543.2 225.0,543.1 226.0,542.6 227.0,540.7 228.0,541.8 229.0,542.9 230.0,542.1 231.0,541.8 232.0,540.5 233.0,540.0 234.0,539.5 235.0,539.4 236.0,539.4 237.0,539.3 238.0,538.6 239.0,537.6 240.0,537.4 241.0,535.3 242.0,534.9 243.0,534.3 244.0,533.9 245.0,533.2 246.0,533.1 247.0,533.2 248.0,534.3 249.0,534.8 250.0,534.8 251.0,534.9 252.0,534.2 253.0,533.6 254.0,532.9 255.0,533.0 256.0,533.6 257.0,533.3 258.0,531.9 259.0,532.4 260.0,531.3 261.0,529.8 262.0,529.4 263.0,530.8 264.0,530.3 265.0,529.0 266.0,527.1 267.0,527.5 268.0,528.0 269.0,528.5 270.0,527.8 271.0,526.8 272.0,527.8 273.0,527.8 274.0,527.4 275.0,526.9 276.0,526.0 277.0,524.9 278.0,523.6 279.0,522.1 280.0,521.6 281.0,521.2 282.0,519.8 283.0,518.3 284.0,518.0 285.0,517.6 286.0,518.1 287.0,518.3 288.0,518.6 289.0,518.4 290.0,518.3 291.0,518.8 292.0,519.4 293.0,518.0 294.0,517.6 295.0,517.1 296.0,517.8 297.0,517.8 298.0,516.8 299.0,515.8 300.0,515.8 301.0,515.9 302.0,516.4 303.0,515.5 304.0,514.5 305.0,514.2 306.0,514.1 307.0,513.8 308.0,513.5 309.0,513.1 310.0,512.6 311.0,510.7 312.0,511.3 313.0,511.2 314.0,510.5 315.0,509.9 316.0,509.3 317.0,508.7 318.0,507.9 319.0,507.7 320.0,507.5 321.0,507.2 322.0,507.3 323.0,507.6 324.0,508.7 325.0,508.0 326.0,507.7 327.0,508.9 328.0,510.3 329.0,509.8 330.0,508.9 331.0,507.8 332.0,509.3 333.0,507.5 334.0,508.6 335.0,507.5 336.0,506.3 337.0,504.3 338.0,506.2 339.0,504.7 340.0,504.6 341.0,504.6 342.0,503.9 343.0,503.6 344.0,502.8 345.0,502.1 346.0,503.7 347.0,503.7 348.0,503.1 349.0,502.0 350.0,501.6 351.0,503.7 352.0,503.2 353.0,502.9 354.0,502.9 355.0,503.0 356.0,503.2 357.0,503.4 358.0,504.2 359.0,503.6 360.0,503.5 361.0,501.3 362.0,503.0 363.0,502.0 364.0,500.9 365.0,499.9 366.0,498.9 367.0,498.1 368.0,497.5 369.0,497.3 370.0,497.2 371.0,496.8 372.0,496.5 373.0,497.0 374.0,497.1 375.0,497.1 376.0,496.2 377.0,496.9 378.0,497.6 379.0,497.7 380.0,497.5 381.0,496.8 382.0,496.7 383.0,496.8 384.0,496.0 385.0,495.3 386.0,493.4 387.0,493.8 388.0,494.0 389.0,494.3 390.0,495.5 391.0,496.2 392.0,497.1 393.0,497.7 394.0,498.8 395.0,498.2 396.0,499.7 397.0,499.0 398.0,499.1 399.0,500.8 400.0,500.3 401.0,500.3 402.0,501.1 403.0,501.4 404.0,501.5 405.0,500.4 406.0,500.0 407.0,499.6 408.0,498.7 409.0,498.8 410.0,498.8 411.0,498.8 412.0,498.7 413.0,498.7 414.0,498.7 415.0,500.0 416.0,499.7 417.0,500.3 418.0,500.7 419.0,501.2 420.0,501.7 421.0,501.7 422.0,501.5 423.0,501.9 424.0,502.6 425.0,503.5 426.0,503.0 427.0,502.3 428.0,501.4 429.0,501.9 430.0,501.5 431.0,500.7 432.0,501.1 433.0,503.5 434.0,502.3 435.0,501.1 436.0,502.4 437.0,502.7 438.0,502.8 439.0,502.6 440.0,502.9 441.0,503.6 442.0,504.4 443.0,504.6 444.0,504.8 445.0,505.1 446.0,505.3 447.0,504.9 448.0,504.4 449.0,505.7 450.0,506.2 451.0,506.4 452.0,506.0 453.0,505.7 454.0,506.0 455.0,506.9 456.0,506.9 457.0,507.7 458.0,509.1 459.0,509.9 460.0,510.9 461.0,511.2 462.0,511.3 463.0,511.4 464.0,511.8 465.0,512.4 466.0,512.8 467.0,511.9 468.0,511.1 469.0,510.6 470.0,510.0 471.0,510.6 472.0,511.4 473.0,511.1 474.0,510.9 475.0,510.9 476.0,511.9 477.0,515.1 478.0,516.0 479.0,516.8 480.0,516.0 481.0,517.2 482.0,518.1 483.0,518.2 484.0,518.3 485.0,518.3 486.0,517.3 487.0,516.7 488.0,516.2 489.0,515.9 490.0,516.6 491.0,517.5 492.0,517.8 493.0,518.3 494.0,519.0 495.0,519.7 496.0,520.0 497.0,519.4 498.0,519.7 499.0,520.6 500.0,521.6 501.0,522.2 502.0,521.5 503.0,522.2 504.0,522.9 505.0,524.4 506.0,523.4 507.0,524.8 508.0,526.2 509.0,526.3 510.0,527.2 511.0,527.1 512.0,527.8 513.0,528.6 514.0,529.2 515.0,529.7 516.0,529.9 517.0,529.8 518.0,529.7 519.0,530.4 520.0,532.7 521.0,531.7 522.0,530.6 523.0,531.8 524.0,533.0 525.0,533.2 526.0,533.3 527.0,533.3 528.0,532.4 529.0,534.1 530.0,534.4 531.0,534.8 532.0,535.8 533.0,536.2 534.0,536.7 535.0,536.8 536.0,537.2 537.0,537.9 538.0,538.0 539.0,538.3 540.0,540.2 541.0,540.8 542.0,541.2 543.0,541.5 544.0,540.9 545.0,540.7 546.0,541.0 547.0,541.3 548.0,540.6 549.0,542.1 550.0,542.4 551.0,541.4 552.0,540.5 553.0,540.4 554.0,540.4 555.0,540.5 556.0,540.7 557.0,542.7 558.0,541.7"/>
<polyline fill="none" stroke="#e8c030" stroke-width="1" shape-rendering="crispEdges" points="156.0,559.3 157.0,558.9 158.0,559.0 159.0,559.6 160.0,558.8 161.0,556.3 162.0,556.5 163.0,559.0 164.0,558.4 165.0,557.8 166.0,557.4 167.0,557.0 168.0,556.4 169.0,556.7 170.0,556.9 171.0,555.2 172.0,555.4 173.0,555.5 174.0,555.0 175.0,555.6 176.0,554.8 177.0,554.1 178.0,553.5 179.0,553.8 180.0,554.1 181.0,552.3 182.0,553.1 183.0,553.8 184.0,553.6 185.0,553.5 186.0,553.4 187.0,552.1 188.0,554.7 189.0,554.2 190.0,553.6 191.0,553.0 192.0,552.4 193.0,552.7 194.0,551.7 195.0,551.6 196.0,551.1 197.0,549.7 198.0,548.6 199.0,548.8 200.0,550.1 201.0,548.8 202.0,547.6 203.0,548.7 204.0,549.7 205.0,548.8 206.0,548.0 207.0,547.0 208.0,546.6 209.0,546.6 210.0,546.5 211.0,545.7 212.0,545.6 213.0,545.0 214.0,543.8 215.0,543.2 216.0,543.8 217.0,544.2 218.0,544.4 219.0,543.1 220.0,541.7 221.0,540.9 222.0,541.6 223.0,541.5 224.0,543.8 225.0,543.1 226.0,541.9 227.0,541.9 228.0,542.0 229.0,542.0 230.0,541.4 231.0,540.9 232.0,539.4 233.0,539.4 234.0,539.3 235.0,539.2 236.0,539.0 237.0,538.4 238.0,537.7 239.0,536.6 240.0,535.6 241.0,533.9 242.0,534.0 243.0,533.8 244.0,533.0 245.0,531.7 246.0,531.4 247.0,533.8 248.0,534.0 249.0,533.7 250.0,533.4 251.0,533.7 252.0,533.3 253.0,533.0 254.0,532.7 255.0,532.7 256.0,532.6 257.0,533.5 258.0,531.9 259.0,530.3 260.0,529.8 261.0,530.0 262.0,529.4 263.0,528.9 264.0,528.9 265.0,528.1 266.0,527.4 267.0,527.8 268.0,528.0 269.0,528.5 270.0,527.5 271.0,526.6 272.0,526.7 273.0,527.2 274.0,527.1 275.0,526.5 276.0,526.1 277.0,524.7 278.0,523.1 279.0,520.7 280.0,520.4 281.0,520.2 282.0,519.1 283.0,518.0 284.0,517.7 285.0,517.7 286.0,516.8 287.0,516.0 288.0,516.3 289.0,516.6 290.0,516.7 291.0,517.9 292.0,518.7 293.0,517.7 294.0,517.4 295.0,517.1 296.0,517.1 297.0,516.6 298.0,515.9 299.0,515.3 300.0,515.9 301.0,516.6 302.0,515.9 303.0,515.3 304.0,515.2 305.0,511.3 306.0,514.1 307.0,514.3 308.0,514.1 309.0,513.1 310.0,510.7 311.0,510.7 312.0,510.2 313.0,509.9 314.0,509.8 315.0,509.7 316.0,508.8 317.0,508.0 318.0,507.1 319.0,504.7 320.0,506.1 321.0,506.4 322.0,507.1 323.0,507.2 324.0,507.6 325.0,507.3 326.0,506.4 327.0,508.0 328.0,509.4 329.0,509.9 330.0,509.4 331.0,509.1 332.0,508.8 333.0,507.1 334.0,508.4 335.0,507.1 336.0,506.0 337.0,505.5 338.0,504.9 339.0,503.2 340.0,501.4 341.0,502.7 342.0,504.1 343.0,503.6 344.0,502.7 345.0,502.1 346.0,502.0 347.0,501.7 348.0,500.9 349.0,500.9 350.0,500.9 351.0,503.2 352.0,503.0 353.0,500.5 354.0,500.5 355.0,501.6 356.0,503.1 357.0,502.8 358.0,502.6 359.0,503.8 360.0,504.0 361.0,501.3 362.0,501.9 363.0,501.2 364.0,500.3 365.0,499.5 366.0,498.7 367.0,496.9 368.0,497.5 369.0,496.7 370.0,496.1 371.0,495.7 372.0,496.3 373.0,496.6 374.0,496.6 375.0,495.8 376.0,495.6 377.0,495.9 378.0,497.0 379.0,497.9 380.0,496.3 381.0,495.7 382.0,495.1 383.0,495.6 384.0,495.6 385.0,495.2 386.0,493.4 387.0,493.0 388.0,494.3 389.0,493.6 390.0,493.0 391.0,495.3 392.0,496.7 393.0,498.1 394.0,498.3 395.0,498.5 396.0,498.5 397.0,498.4 398.0,498.9 399.0,499.6 400.0,500.3 401.0,500.6 402.0,500.7 403.0,500.8 404.0,500.1 405.0,499.0 406.0,499.9 407.0,498.7 408.0,497.9 409.0,498.8 410.0,498.3 411.0,498.2 412.0,497.8 413.0,497.3 414.0,497.6 415.0,499.3 416.0,498.7 417.0,499.3 418.0,499.9 419.0,500.3 420.0,500.7 421.0,501.3 422.0,501.8 423.0,500.6 424.0,499.3 425.0,503.0 426.0,503.2 427.0,502.8 428.0,501.5 429.0,501.3 430.0,501.4 431.0,501.1 432.0,500.9 433.0,502.0 434.0,501.6 435.0,501.2 436.0,501.7 437.0,502.3 438.0,502.3 439.0,502.6 440.0,503.1 441.0,503.1 442.0,503.3 443.0,503.9 444.0,504.5 445.0,504.8 446.0,505.0 447.0,504.2 448.0,503.2 449.0,504.5 450.0,505.7 451.0,505.8 452.0,505.4 453.0,505.3 454.0,505.5 455.0,506.4 456.0,507.4 457.0,508.3 458.0,509.2 459.0,510.0 460.0,510.5 461.0,511.0 462.0,510.8 463.0,510.6 464.0,510.8 465.0,511.4 466.0,511.7 467.0,511.2 468.0,510.5 469.0,510.6 470.0,510.6 471.0,509.9 472.0,510.1 473.0,510.0 474.0,511.0 475.0,512.3 476.0,512.4 477.0,514.2 478.0,515.3 479.0,516.5 480.0,515.4 481.0,513.9 482.0,516.2 483.0,517.8 484.0,516.0 485.0,514.1 486.0,516.5 487.0,515.5 488.0,516.2 489.0,516.3 490.0,515.9 491.0,515.5 492.0,517.7 493.0,517.7 494.0,518.2 495.0,519.2 496.0,519.3 497.0,518.2 498.0,517.9 499.0,520.8 500.0,520.5 501.0,520.3 502.0,520.5 503.0,522.1 504.0,522.8 505.0,523.5 506.0,524.0 507.0,524.6 508.0,525.6 509.0,526.6 510.0,526.8 511.0,527.0 512.0,528.0 513.0,528.9 514.0,529.5 515.0,530.2 516.0,529.9 517.0,529.4 518.0,529.0 519.0,529.9 520.0,530.2 521.0,529.3 522.0,531.6 523.0,531.4 524.0,529.1 525.0,530.5 526.0,531.8 527.0,532.4 528.0,532.6 529.0,534.0 530.0,533.6 531.0,534.0 532.0,534.6 533.0,535.2 534.0,535.9 535.0,535.4 536.0,535.2 537.0,537.5 538.0,538.4 539.0,537.5 540.0,539.4 541.0,540.2 542.0,540.8 543.0,540.5 544.0,540.7 545.0,541.3 546.0,541.8 547.0,542.4 548.0,540.3 549.0,540.5 550.0,541.8 551.0,541.0 552.0,539.2 553.0,539.5 554.0,539.8 555.0,541.2 556.0,541.5 557.0,541.7 558.0,541.1"/>
<polyline fill="none" stroke="#cc7636" stroke-width="1" shape-rendering="crispEdges" points="156.0,558.2 157.0,558.4 158.0,558.7 159.0,559.0 160.0,559.3 161.0,558.1 162.0,556.4 163.0,556.9 164.0,555.8 165.0,554.7 166.0,555.8 167.0,556.9 168.0,556.8 169.0,556.5 170.0,556.9 171.0,555.4 172.0,555.7 173.0,556.1 174.0,555.5 175.0,554.8 176.0,554.3 177.0,553.8 178.0,553.2 179.0,553.3 180.0,553.2 181.0,552.7 182.0,552.9 183.0,553.1 184.0,552.9 185.0,552.7 186.0,554.0 187.0,553.9 188.0,552.6 189.0,551.2 190.0,553.3 191.0,551.7 192.0,550.8 193.0,551.9 194.0,551.3 195.0,550.9 196.0,549.6 197.0,549.1 198.0,548.5 199.0,549.1 200.0,549.5 201.0,548.4 202.0,547.3 203.0,547.8 204.0,548.6 205.0,547.9 206.0,547.1 207.0,546.2 208.0,544.3 209.0,545.5 210.0,544.8 211.0,544.0 212.0,544.6 213.0,544.9 214.0,543.6 215.0,542.2 216.0,540.4 217.0,542.0 218.0,543.5 219.0,542.6 220.0,541.7 221.0,540.9 222.0,541.8 223.0,542.6 224.0,542.2 225.0,542.2 226.0,541.7 227.0,540.9 228.0,540.9 229.0,541.5 230.0,541.5 231.0,540.8 232.0,539.5 233.0,539.4 234.0,539.2 235.0,538.9 236.0,538.0 237.0,537.8 238.0,537.4 239.0,536.6 240.0,533.2 241.0,534.4 242.0,534.3 243.0,533.7 244.0,533.2 245.0,532.2 246.0,532.2 247.0,532.7 248.0,533.4 249.0,533.1 250.0,532.8 251.0,533.1 252.0,532.8 253.0,529.9 254.0,530.4 255.0,532.0 256.0,532.7 257.0,533.1 258.0,532.3 259.0,531.4 260.0,530.0 261.0,529.6 262.0,528.8 263.0,529.4 264.0,528.3 265.0,528.8 266.0,526.8 267.0,525.3 268.0,525.4 269.0,525.6 270.0,526.0 271.0,526.5 272.0,527.2 273.0,527.3 274.0,526.7 275.0,526.1 276.0,525.1 277.0,523.8 278.0,522.3 279.0,520.7 280.0,520.4 281.0,520.3 282.0,518.9 283.0,517.6 284.0,516.9 285.0,516.7 286.0,517.7 287.0,517.2 288.0,516.7 289.0,516.4 290.0,516.2 291.0,515.6 292.0,516.2 293.0,516.1 294.0,516.6 295.0,516.5 296.0,516.8 297.0,516.2 298.0,514.8 299.0,514.2 300.0,514.9 301.0,515.7 302.0,513.9 303.0,512.1 304.0,512.1 305.0,511.9 306.0,512.7 307.0,513.3 308.0,513.1 309.0,512.1 310.0,511.2 311.0,510.3 312.0,509.9 313.0,509.2 314.0,508.6 315.0,508.4 316.0,507.0 317.0,505.6 318.0,506.2 319.0,506.6 320.0,507.0 321.0,504.4 322.0,505.9 323.0,507.7 324.0,508.1 325.0,507.8 326.0,507.1 327.0,508.0 328.0,508.6 329.0,509.4 330.0,509.7 331.0,508.2 332.0,508.1 333.0,506.9 334.0,507.8 335.0,506.5 336.0,505.3 337.0,504.8 338.0,504.5 339.0,504.1 340.0,503.5 341.0,503.0 342.0,501.8 343.0,500.8 344.0,502.9 345.0,502.4 346.0,502.7 347.0,502.6 348.0,502.2 349.0,500.8 350.0,500.3 351.0,502.3 352.0,502.1 353.0,502.4 354.0,502.1 355.0,501.2 356.0,501.4 357.0,501.7 358.0,502.1 359.0,502.3 360.0,502.7 361.0,500.9 362.0,502.0 363.0,500.8 364.0,499.4 365.0,497.5 366.0,496.7 367.0,496.6 368.0,496.3 369.0,496.1 370.0,495.6 371.0,495.3 372.0,495.6 373.0,495.8 374.0,496.0 375.0,496.2 376.0,495.7 377.0,495.6 378.0,496.3 379.0,496.2 380.0,494.8 381.0,493.1 382.0,495.6 383.0,495.6 384.0,495.0 385.0,494.6 386.0,493.1 387.0,493.2 388.0,493.7 389.0,494.3 390.0,493.6 391.0,493.0 392.0,495.3 393.0,496.5 394.0,497.1 395.0,497.8 396.0,498.6 397.0,498.7 398.0,498.8 399.0,499.3 400.0,499.8 401.0,500.2 402.0,500.4 403.0,500.6 404.0,500.7 405.0,498.9 406.0,498.5 407.0,498.4 408.0,498.7 409.0,495.6 410.0,496.9 411.0,498.2 412.0,497.6 413.0,497.1 414.0,497.8 415.0,498.9 416.0,497.2 417.0,499.3 418.0,499.2 419.0,500.0 420.0,500.9 421.0,501.2 422.0,501.0 423.0,501.3 424.0,501.4 425.0,501.8 426.0,501.7 427.0,501.7 428.0,501.5 429.0,501.2 430.0,500.7 431.0,501.2 432.0,500.8 433.0,500.8 434.0,498.8 435.0,499.5 436.0,501.2 437.0,501.4 438.0,499.2 439.0,500.6 440.0,502.0 441.0,502.9 442.0,503.4 443.0,504.0 444.0,504.3 445.0,504.5 446.0,504.5 447.0,504.3 448.0,504.2 449.0,504.8 450.0,504.7 451.0,504.5 452.0,504.6 453.0,504.8 454.0,505.1 455.0,505.8 456.0,506.3 457.0,506.9 458.0,507.9 459.0,508.6 460.0,509.4 461.0,508.4 462.0,509.4 463.0,509.7 464.0,510.4 465.0,510.5 466.0,510.8 467.0,510.8 468.0,510.4 469.0,510.2 470.0,510.0 471.0,509.6 472.0,510.1 473.0,510.3 474.0,510.7 475.0,510.1 476.0,512.1 477.0,513.1 478.0,514.7 479.0,516.2 480.0,515.4 481.0,516.5 482.0,517.4 483.0,517.3 484.0,517.1 485.0,515.6 486.0,516.6 487.0,514.8 488.0,513.9 489.0,515.2 490.0,516.8 491.0,517.8 492.0,517.8 493.0,517.9 494.0,519.1 495.0,519.5 496.0,519.0 497.0,518.3 498.0,518.5 499.0,519.4 500.0,520.3 501.0,521.2 502.0,520.9 503.0,521.4 504.0,521.9 505.0,523.3 506.0,523.3 507.0,524.1 508.0,524.9 509.0,525.8 510.0,525.9 511.0,526.1 512.0,527.1 513.0,528.4 514.0,528.5 515.0,529.5 516.0,529.7 517.0,529.0 518.0,528.4 519.0,529.6 520.0,530.4 521.0,530.8 522.0,529.8 523.0,528.4 524.0,530.3 525.0,530.7 526.0,532.3 527.0,531.8 528.0,531.9 529.0,533.1 530.0,533.2 531.0,533.8 532.0,534.6 533.0,535.3 534.0,536.1 535.0,536.3 536.0,536.7 537.0,536.7 538.0,537.1 539.0,537.6 540.0,539.1 541.0,540.1 542.0,540.1 543.0,540.0 544.0,539.9 545.0,540.2 546.0,540.4 547.0,541.2 548.0,540.3 549.0,540.8 550.0,540.7 551.0,539.5 552.0,539.8 553.0,540.2 554.0,540.0 555.0,540.9 556.0,540.1 557.0,539.1 558.0,540.8"/>
<g stroke="#000" stroke-width="1" fill="none" shape-rendering="crispEdges">
<line x1="155.5" y1="493.0" x2="155.5" y2="561.0"/>
<line x1="155.0" y1="560.5" x2="557.5" y2="560.5"/>
<line x1="155.5" y1="496.5" x2="162.0" y2="496.5"/>
<line x1="155.5" y1="531.5" x2="162.0" y2="531.5"/>
<line x1="224.5" y1="560.5" x2="224.5" y2="554.5"/>
<line x1="324.5" y1="560.5" x2="324.5" y2="554.5"/>
<line x1="424.5" y1="560.5" x2="424.5" y2="554.5"/>
<line x1="523.5" y1="560.5" x2="523.5" y2="554.5"/>
</g>
<g fill="#000" font-size="26">
<text transform="translate(355.0,472.6) scale(0.920,1)" text-anchor="middle">Bin 5</text>
<text transform="translate(224.5,595.6) scale(0.900,1)" text-anchor="middle">2350</text>
<text transform="translate(324.5,595.6) scale(0.900,1)" text-anchor="middle">2355</text>
<text transform="translate(424.5,595.6) scale(0.900,1)" text-anchor="middle">2360</text>
<text transform="translate(523.5,595.6) scale(0.900,1)" text-anchor="middle">2365</text>
<text transform="translate(148.5,508.2) scale(0.900,1)" text-anchor="end">20</text>
<text transform="translate(148.5,543.2) scale(0.900,1)" text-anchor="end">10</text>
<text transform="translate(354.5,633.4) scale(0.940,1)" text-anchor="middle">Wavenumber [cm<tspan font-size="17.5" dy="-11.8">-1</tspan><tspan dy="11.8">]</tspan></text>
<text transform="translate(108.5,527.6) rotate(-90) scale(0.940,1)" text-anchor="middle">ADU</text>
</g>
<g stroke="#000" stroke-width="1" stroke-dasharray="1 4" fill="none" shape-rendering="crispEdges"><line x1="684.0" y1="509.5" x2="1085.5" y2="509.5"/><line x1="684.0" y1="528.5" x2="1085.5" y2="528.5"/><line x1="684.0" y1="548.5" x2="1085.5" y2="548.5"/><line x1="752.5" y1="493.0" x2="752.5" y2="560.0"/><line x1="852.5" y1="493.0" x2="852.5" y2="560.0"/><line x1="952.5" y1="493.0" x2="952.5" y2="560.0"/><line x1="1051.5" y1="493.0" x2="1051.5" y2="560.0"/></g>
<polyline fill="none" stroke="#10308c" stroke-width="1" shape-rendering="crispEdges" points="684.0,559.1 685.0,559.9 686.0,560.5 687.0,560.5 688.0,559.7 689.0,559.3 690.0,558.9 691.0,559.3 692.0,559.7 693.0,559.1 694.0,558.6 695.0,557.0 696.0,557.7 697.0,558.4 698.0,557.8 699.0,556.9 700.0,558.0 701.0,557.2 702.0,556.5 703.0,558.0 704.0,556.3 705.0,558.9 706.0,557.6 707.0,558.9 708.0,556.3 709.0,555.9 710.0,556.0 711.0,556.1 712.0,556.3 713.0,556.1 714.0,555.9 715.0,555.5 716.0,556.2 717.0,553.0 718.0,554.6 719.0,553.4 720.0,555.5 721.0,553.8 722.0,552.2 723.0,552.5 724.0,552.9 725.0,551.0 726.0,549.4 727.0,550.6 728.0,549.5 729.0,548.6 730.0,549.8 731.0,550.0 732.0,549.1 733.0,548.7 734.0,549.5 735.0,548.5 736.0,548.1 737.0,547.1 738.0,547.0 739.0,546.9 740.0,547.2 741.0,546.3 742.0,545.8 743.0,545.4 744.0,545.0 745.0,544.6 746.0,544.4 747.0,544.2 748.0,544.0 749.0,543.8 750.0,543.4 751.0,542.9 752.0,542.5 753.0,542.5 754.0,541.9 755.0,542.2 756.0,542.4 757.0,542.6 758.0,540.1 759.0,540.9 760.0,541.6 761.0,540.7 762.0,540.2 763.0,539.9 764.0,539.6 765.0,541.1 766.0,538.1 767.0,537.5 768.0,536.8 769.0,536.3 770.0,536.4 771.0,536.8 772.0,536.3 773.0,537.5 774.0,535.5 775.0,534.5 776.0,534.1 777.0,533.9 778.0,533.9 779.0,533.7 780.0,535.6 781.0,536.2 782.0,535.6 783.0,534.4 784.0,533.7 785.0,534.8 786.0,533.6 787.0,532.9 788.0,533.6 789.0,531.9 790.0,530.1 791.0,530.0 792.0,529.9 793.0,527.9 794.0,527.8 795.0,527.8 796.0,527.5 797.0,527.0 798.0,526.7 799.0,526.9 800.0,527.4 801.0,526.8 802.0,525.9 803.0,528.2 804.0,526.6 805.0,524.9 806.0,523.7 807.0,522.6 808.0,523.2 809.0,522.6 810.0,521.0 811.0,520.2 812.0,521.2 813.0,520.0 814.0,518.8 815.0,517.7 816.0,516.9 817.0,516.1 818.0,515.3 819.0,516.5 820.0,517.7 821.0,517.5 822.0,518.0 823.0,518.3 824.0,518.1 825.0,517.6 826.0,518.8 827.0,518.5 828.0,517.7 829.0,517.1 830.0,517.2 831.0,516.9 832.0,516.8 833.0,516.5 834.0,515.9 835.0,515.4 836.0,515.5 837.0,515.7 838.0,513.3 839.0,514.5 840.0,514.5 841.0,512.7 842.0,511.0 843.0,511.5 844.0,512.3 845.0,511.4 846.0,511.0 847.0,510.9 848.0,510.1 849.0,509.1 850.0,507.5 851.0,507.6 852.0,507.4 853.0,507.4 854.0,508.2 855.0,508.8 856.0,509.9 857.0,510.5 858.0,511.2 859.0,510.8 860.0,510.3 861.0,510.2 862.0,509.9 863.0,510.8 864.0,510.5 865.0,509.4 866.0,508.4 867.0,508.0 868.0,508.9 869.0,507.4 870.0,505.8 871.0,505.6 872.0,505.2 873.0,505.5 874.0,505.5 875.0,504.9 876.0,504.4 877.0,504.6 878.0,504.6 879.0,503.9 880.0,503.1 881.0,504.1 882.0,505.1 883.0,502.9 884.0,502.2 885.0,502.1 886.0,502.5 887.0,502.4 888.0,501.5 889.0,500.7 890.0,502.2 891.0,500.7 892.0,500.0 893.0,499.8 894.0,500.1 895.0,499.2 896.0,498.7 897.0,499.2 898.0,499.8 899.0,499.2 900.0,498.3 901.0,498.2 902.0,497.3 903.0,496.7 904.0,498.8 905.0,498.7 906.0,498.8 907.0,498.1 908.0,499.0 909.0,499.7 910.0,498.2 911.0,496.7 912.0,497.2 913.0,497.3 914.0,497.4 915.0,497.7 916.0,498.5 917.0,498.8 918.0,498.8 919.0,499.0 920.0,499.5 921.0,498.8 922.0,498.9 923.0,499.1 924.0,498.2 925.0,497.5 926.0,498.9 927.0,500.4 928.0,499.8 929.0,499.8 930.0,499.9 931.0,500.5 932.0,501.1 933.0,501.3 934.0,501.3 935.0,501.4 936.0,501.2 937.0,500.3 938.0,499.9 939.0,499.0 940.0,498.7 941.0,498.4 942.0,498.4 943.0,499.5 944.0,500.8 945.0,499.2 946.0,499.5 947.0,499.8 948.0,501.4 949.0,503.1 950.0,504.0 951.0,504.9 952.0,505.1 953.0,503.9 954.0,503.3 955.0,504.2 956.0,505.6 957.0,506.8 958.0,505.4 959.0,505.6 960.0,505.8 961.0,505.9 962.0,506.0 963.0,505.9 964.0,505.8 965.0,505.1 966.0,505.1 967.0,505.4 968.0,503.9 969.0,504.1 970.0,504.3 971.0,503.7 972.0,505.1 973.0,506.6 974.0,506.9 975.0,506.7 976.0,507.3 977.0,507.8 978.0,508.2 979.0,509.4 980.0,509.0 981.0,508.9 982.0,508.8 983.0,506.5 984.0,507.1 985.0,506.8 986.0,509.5 987.0,511.4 988.0,511.7 989.0,510.5 990.0,510.8 991.0,511.8 992.0,512.3 993.0,512.9 994.0,513.5 995.0,514.4 996.0,514.2 997.0,513.9 998.0,514.1 999.0,515.7 1000.0,516.5 1001.0,517.1 1002.0,516.1 1003.0,515.2 1004.0,516.2 1005.0,517.8 1006.0,517.2 1007.0,516.7 1008.0,521.6 1009.0,519.8 1010.0,520.2 1011.0,520.7 1012.0,519.9 1013.0,520.7 1014.0,521.4 1015.0,521.5 1016.0,521.0 1017.0,520.2 1018.0,520.6 1019.0,521.1 1020.0,521.3 1021.0,521.1 1022.0,520.9 1023.0,520.8 1024.0,520.9 1025.0,521.2 1026.0,521.6 1027.0,521.4 1028.0,522.0 1029.0,521.0 1030.0,521.7 1031.0,523.4 1032.0,524.3 1033.0,524.2 1034.0,524.2 1035.0,525.7 1036.0,525.9 1037.0,526.2 1038.0,527.7 1039.0,528.1 1040.0,529.6 1041.0,529.9 1042.0,529.9 1043.0,529.4 1044.0,533.0 1045.0,532.8 1046.0,534.7 1047.0,534.5 1048.0,534.0 1049.0,534.5 1050.0,534.3 1051.0,533.9 1052.0,533.1 1053.0,532.8 1054.0,532.6 1055.0,532.7 1056.0,533.0 1057.0,532.6 1058.0,533.6 1059.0,534.3 1060.0,534.5 1061.0,534.5 1062.0,534.7 1063.0,534.4 1064.0,536.0 1065.0,536.9 1066.0,538.0 1067.0,539.2 1068.0,540.0 1069.0,541.5 1070.0,542.3 1071.0,542.6 1072.0,543.0 1073.0,543.2 1074.0,544.1 1075.0,545.5 1076.0,543.9 1077.0,543.8 1078.0,544.3 1079.0,544.8 1080.0,546.5 1081.0,546.6 1082.0,545.4 1083.0,545.2 1084.0,546.6 1085.0,547.9 1086.0,545.8"/>
<polyline fill="none" stroke="#3aa8e0" stroke-width="1" shape-rendering="crispEdges" points="684.0,557.6 685.0,558.5 686.0,559.5 687.0,560.3 688.0,559.7 689.0,559.0 690.0,558.4 691.0,559.2 692.0,559.6 693.0,558.9 694.0,558.0 695.0,556.5 696.0,557.4 697.0,558.3 698.0,557.5 699.0,556.6 700.0,556.0 701.0,556.2 702.0,554.4 703.0,556.0 704.0,556.3 705.0,556.6 706.0,556.6 707.0,555.5 708.0,554.2 709.0,555.0 710.0,555.7 711.0,556.4 712.0,555.6 713.0,555.5 714.0,555.3 715.0,554.7 716.0,554.2 717.0,554.7 718.0,553.2 719.0,553.4 720.0,553.1 721.0,552.4 722.0,551.7 723.0,551.4 724.0,551.2 725.0,549.5 726.0,548.8 727.0,550.7 728.0,549.7 729.0,548.8 730.0,549.4 731.0,549.5 732.0,548.6 733.0,547.9 734.0,548.4 735.0,548.1 736.0,547.8 737.0,546.9 738.0,546.9 739.0,547.3 740.0,547.6 741.0,544.3 742.0,544.2 743.0,544.9 744.0,544.2 745.0,544.3 746.0,543.2 747.0,543.3 748.0,542.9 749.0,542.6 750.0,542.4 751.0,542.8 752.0,542.6 753.0,541.5 754.0,541.7 755.0,541.8 756.0,541.5 757.0,540.8 758.0,540.2 759.0,540.1 760.0,540.0 761.0,538.8 762.0,538.8 763.0,538.7 764.0,539.3 765.0,538.3 766.0,537.3 767.0,536.7 768.0,536.1 769.0,536.1 770.0,536.7 771.0,537.2 772.0,536.9 773.0,536.2 774.0,535.1 775.0,533.7 776.0,533.5 777.0,533.4 778.0,533.6 779.0,533.5 780.0,533.5 781.0,533.5 782.0,534.4 783.0,534.7 784.0,534.8 785.0,533.8 786.0,532.7 787.0,532.4 788.0,532.9 789.0,532.2 790.0,529.9 791.0,528.6 792.0,528.6 793.0,528.3 794.0,527.6 795.0,526.7 796.0,525.9 797.0,526.1 798.0,526.5 799.0,527.1 800.0,525.7 801.0,525.9 802.0,525.9 803.0,525.9 804.0,527.5 805.0,526.0 806.0,524.4 807.0,523.1 808.0,522.1 809.0,521.1 810.0,520.3 811.0,519.5 812.0,520.5 813.0,519.2 814.0,517.7 815.0,516.6 816.0,516.2 817.0,514.7 818.0,514.2 819.0,515.8 820.0,517.5 821.0,516.6 822.0,516.3 823.0,517.4 824.0,518.4 825.0,518.6 826.0,517.9 827.0,517.1 828.0,516.7 829.0,516.2 830.0,515.7 831.0,515.3 832.0,515.2 833.0,514.5 834.0,514.1 835.0,514.5 836.0,514.9 837.0,514.4 838.0,513.0 839.0,513.8 840.0,513.1 841.0,511.5 842.0,510.9 843.0,512.3 844.0,512.0 845.0,510.7 846.0,509.6 847.0,508.8 848.0,509.4 849.0,508.4 850.0,506.4 851.0,506.5 852.0,506.3 853.0,506.2 854.0,507.4 855.0,508.3 856.0,508.6 857.0,508.5 858.0,508.4 859.0,509.1 860.0,509.0 861.0,509.4 862.0,509.5 863.0,509.6 864.0,509.6 865.0,509.2 866.0,508.7 867.0,507.8 868.0,506.9 869.0,506.3 870.0,505.7 871.0,504.8 872.0,504.9 873.0,504.9 874.0,505.5 875.0,505.5 876.0,504.2 877.0,504.0 878.0,504.2 879.0,503.7 880.0,503.6 881.0,503.8 882.0,503.5 883.0,502.8 884.0,502.2 885.0,502.0 886.0,500.9 887.0,500.5 888.0,500.1 889.0,500.6 890.0,500.0 891.0,499.4 892.0,498.8 893.0,500.9 894.0,499.4 895.0,498.1 896.0,497.9 897.0,498.4 898.0,498.8 899.0,498.7 900.0,498.6 901.0,498.5 902.0,498.2 903.0,496.7 904.0,497.9 905.0,498.0 906.0,498.1 907.0,498.1 908.0,498.3 909.0,497.2 910.0,496.4 911.0,495.8 912.0,495.5 913.0,496.1 914.0,496.5 915.0,496.6 916.0,498.4 917.0,499.6 918.0,498.6 919.0,498.9 920.0,498.8 921.0,497.6 922.0,497.2 923.0,496.5 924.0,496.0 925.0,496.4 926.0,497.2 927.0,498.2 928.0,499.0 929.0,499.4 930.0,499.8 931.0,500.1 932.0,500.5 933.0,501.2 934.0,500.9 935.0,501.0 936.0,500.2 937.0,500.9 938.0,499.4 939.0,498.6 940.0,498.3 941.0,497.9 942.0,497.7 943.0,497.5 944.0,498.7 945.0,498.7 946.0,499.1 947.0,499.4 948.0,499.7 949.0,501.1 950.0,501.8 951.0,502.7 952.0,503.9 953.0,503.2 954.0,502.4 955.0,503.0 956.0,503.6 957.0,504.5 958.0,505.0 959.0,504.9 960.0,504.8 961.0,504.1 962.0,504.3 963.0,504.6 964.0,503.3 965.0,503.5 966.0,504.5 967.0,504.8 968.0,503.3 969.0,503.9 970.0,504.6 971.0,504.1 972.0,505.1 973.0,507.4 974.0,506.6 975.0,505.8 976.0,506.7 977.0,507.5 978.0,507.4 979.0,507.7 980.0,508.2 981.0,508.0 982.0,507.8 983.0,505.9 984.0,505.5 985.0,506.2 986.0,507.9 987.0,509.2 988.0,510.6 989.0,509.2 990.0,509.5 991.0,510.8 992.0,511.5 993.0,512.0 994.0,512.5 995.0,512.9 996.0,515.2 997.0,514.9 998.0,514.5 999.0,514.1 1000.0,514.5 1001.0,514.5 1002.0,514.3 1003.0,513.0 1004.0,513.6 1005.0,514.8 1006.0,515.3 1007.0,517.1 1008.0,517.9 1009.0,518.4 1010.0,519.8 1011.0,520.2 1012.0,519.3 1013.0,520.2 1014.0,520.5 1015.0,521.7 1016.0,520.9 1017.0,520.1 1018.0,520.8 1019.0,521.5 1020.0,520.8 1021.0,520.5 1022.0,520.3 1023.0,520.3 1024.0,519.9 1025.0,520.6 1026.0,521.4 1027.0,521.1 1028.0,522.9 1029.0,520.9 1030.0,521.5 1031.0,522.6 1032.0,523.2 1033.0,522.9 1034.0,523.8 1035.0,525.2 1036.0,525.5 1037.0,525.8 1038.0,526.5 1039.0,527.8 1040.0,528.8 1041.0,529.3 1042.0,529.8 1043.0,528.7 1044.0,533.2 1045.0,533.3 1046.0,533.3 1047.0,533.4 1048.0,533.6 1049.0,533.7 1050.0,532.6 1051.0,532.3 1052.0,532.0 1053.0,532.5 1054.0,533.2 1055.0,532.9 1056.0,532.7 1057.0,532.5 1058.0,532.5 1059.0,532.7 1060.0,533.0 1061.0,534.0 1062.0,534.1 1063.0,534.7 1064.0,535.3 1065.0,536.2 1066.0,537.4 1067.0,539.1 1068.0,538.9 1069.0,540.0 1070.0,541.1 1071.0,542.4 1072.0,543.2 1073.0,543.8 1074.0,543.3 1075.0,543.3 1076.0,542.6 1077.0,543.3 1078.0,543.3 1079.0,543.4 1080.0,545.3 1081.0,545.2 1082.0,545.2 1083.0,544.8 1084.0,545.3 1085.0,545.6 1086.0,545.0"/>
<polyline fill="none" stroke="#7cc04c" stroke-width="1" shape-rendering="crispEdges" points="684.0,558.3 685.0,557.9 686.0,558.6 687.0,559.8 688.0,559.8 689.0,558.7 690.0,557.6 691.0,557.5 692.0,559.0 693.0,558.6 694.0,557.9 695.0,555.4 696.0,555.6 697.0,557.5 698.0,556.6 699.0,555.7 700.0,555.3 701.0,555.0 702.0,554.9 703.0,555.2 704.0,555.2 705.0,555.2 706.0,555.6 707.0,554.6 708.0,553.5 709.0,554.6 710.0,554.9 711.0,554.9 712.0,554.4 713.0,554.9 714.0,555.3 715.0,554.1 716.0,552.9 717.0,551.5 718.0,551.1 719.0,551.6 720.0,552.0 721.0,551.8 722.0,551.0 723.0,549.5 724.0,550.2 725.0,549.9 726.0,548.8 727.0,550.4 728.0,548.4 729.0,546.4 730.0,547.7 731.0,549.0 732.0,547.2 733.0,546.9 734.0,547.9 735.0,547.0 736.0,546.1 737.0,546.2 738.0,544.8 739.0,546.1 740.0,545.7 741.0,544.8 742.0,543.9 743.0,543.5 744.0,543.0 745.0,543.0 746.0,542.4 747.0,542.6 748.0,542.8 749.0,541.3 750.0,541.6 751.0,541.9 752.0,540.7 753.0,540.5 754.0,540.6 755.0,541.2 756.0,541.9 757.0,540.1 758.0,539.0 759.0,538.4 760.0,538.2 761.0,537.9 762.0,538.0 763.0,538.7 764.0,539.3 765.0,536.5 766.0,535.8 767.0,536.8 768.0,536.3 769.0,535.8 770.0,535.7 771.0,535.8 772.0,535.1 773.0,534.4 774.0,534.0 775.0,533.7 776.0,533.2 777.0,533.2 778.0,533.2 779.0,532.5 780.0,532.4 781.0,533.4 782.0,534.3 783.0,533.0 784.0,531.9 785.0,532.8 786.0,532.4 787.0,532.4 788.0,532.3 789.0,530.9 790.0,529.2 791.0,528.5 792.0,528.0 793.0,526.7 794.0,526.7 795.0,526.4 796.0,525.9 797.0,525.6 798.0,524.6 799.0,523.8 800.0,524.0 801.0,524.2 802.0,525.6 803.0,524.7 804.0,523.7 805.0,523.4 806.0,523.0 807.0,522.6 808.0,521.9 809.0,521.2 810.0,520.1 811.0,519.4 812.0,520.5 813.0,518.3 814.0,518.2 815.0,516.9 816.0,516.3 817.0,514.2 818.0,512.3 819.0,513.8 820.0,515.5 821.0,515.6 822.0,517.4 823.0,517.5 824.0,516.8 825.0,517.7 826.0,517.0 827.0,515.5 828.0,515.4 829.0,515.5 830.0,515.0 831.0,514.5 832.0,514.2 833.0,513.8 834.0,514.2 835.0,514.6 836.0,514.6 837.0,514.0 838.0,512.9 839.0,512.8 840.0,512.4 841.0,511.8 842.0,511.2 843.0,510.4 844.0,511.2 845.0,510.5 846.0,509.7 847.0,509.2 848.0,508.1 849.0,507.4 850.0,506.4 851.0,505.8 852.0,506.1 853.0,506.5 854.0,508.3 855.0,506.8 856.0,507.9 857.0,508.0 858.0,508.1 859.0,509.0 860.0,509.6 861.0,510.0 862.0,509.2 863.0,508.4 864.0,508.8 865.0,508.5 866.0,507.1 867.0,507.1 868.0,506.3 869.0,505.7 870.0,505.0 871.0,504.3 872.0,504.4 873.0,504.5 874.0,504.5 875.0,503.9 876.0,503.6 877.0,503.9 878.0,504.2 879.0,503.3 880.0,502.3 881.0,502.1 882.0,501.6 883.0,501.2 884.0,501.5 885.0,502.2 886.0,501.1 887.0,500.3 888.0,499.5 889.0,499.6 890.0,499.6 891.0,498.7 892.0,498.5 893.0,498.8 894.0,498.3 895.0,497.9 896.0,497.5 897.0,497.7 898.0,498.2 899.0,498.2 900.0,498.5 901.0,497.8 902.0,496.3 903.0,495.2 904.0,496.9 905.0,497.9 906.0,498.8 907.0,497.7 908.0,497.3 909.0,496.6 910.0,495.9 911.0,495.3 912.0,494.8 913.0,496.2 914.0,495.2 915.0,496.1 916.0,496.9 917.0,497.3 918.0,496.9 919.0,497.2 920.0,497.3 921.0,496.1 922.0,496.1 923.0,495.9 924.0,495.9 925.0,496.2 926.0,497.2 927.0,497.4 928.0,498.1 929.0,498.3 930.0,498.8 931.0,499.4 932.0,500.7 933.0,500.2 934.0,499.5 935.0,499.7 936.0,501.0 937.0,499.7 938.0,498.3 939.0,497.4 940.0,497.2 941.0,496.3 942.0,495.7 943.0,497.7 944.0,497.5 945.0,497.4 946.0,498.2 947.0,499.1 948.0,500.1 949.0,500.0 950.0,501.6 951.0,503.1 952.0,503.0 953.0,503.3 954.0,501.2 955.0,502.6 956.0,503.4 957.0,504.0 958.0,504.0 959.0,503.9 960.0,503.4 961.0,504.1 962.0,504.7 963.0,503.8 964.0,503.7 965.0,503.6 966.0,503.8 967.0,503.9 968.0,502.4 969.0,503.9 970.0,503.1 971.0,502.5 972.0,503.2 973.0,504.8 974.0,505.0 975.0,505.4 976.0,506.6 977.0,507.0 978.0,507.3 979.0,507.0 980.0,506.5 981.0,506.8 982.0,507.0 983.0,505.1 984.0,505.8 985.0,506.2 986.0,507.5 987.0,508.0 988.0,509.2 989.0,508.9 990.0,509.6 991.0,510.8 992.0,511.3 993.0,511.5 994.0,511.2 995.0,511.2 996.0,511.8 997.0,513.4 998.0,512.9 999.0,512.3 1000.0,513.8 1001.0,513.7 1002.0,513.6 1003.0,513.3 1004.0,513.5 1005.0,513.9 1006.0,514.6 1007.0,516.0 1008.0,517.5 1009.0,518.1 1010.0,519.0 1011.0,519.8 1012.0,519.4 1013.0,519.9 1014.0,520.1 1015.0,520.3 1016.0,520.1 1017.0,519.9 1018.0,520.1 1019.0,520.3 1020.0,520.4 1021.0,520.5 1022.0,520.5 1023.0,520.2 1024.0,520.3 1025.0,520.2 1026.0,520.5 1027.0,520.7 1028.0,521.0 1029.0,519.7 1030.0,520.5 1031.0,521.7 1032.0,523.5 1033.0,523.1 1034.0,524.1 1035.0,524.2 1036.0,524.2 1037.0,525.8 1038.0,526.4 1039.0,527.8 1040.0,529.1 1041.0,527.9 1042.0,527.4 1043.0,529.0 1044.0,531.3 1045.0,531.9 1046.0,532.4 1047.0,533.1 1048.0,533.6 1049.0,533.0 1050.0,533.4 1051.0,533.3 1052.0,532.4 1053.0,532.1 1054.0,532.5 1055.0,532.7 1056.0,532.9 1057.0,532.7 1058.0,532.6 1059.0,532.7 1060.0,532.9 1061.0,532.8 1062.0,533.3 1063.0,534.2 1064.0,534.8 1065.0,535.6 1066.0,536.6 1067.0,538.3 1068.0,538.1 1069.0,540.2 1070.0,541.2 1071.0,541.5 1072.0,541.1 1073.0,541.2 1074.0,541.3 1075.0,543.3 1076.0,542.8 1077.0,542.4 1078.0,542.8 1079.0,542.8 1080.0,544.6 1081.0,543.9 1082.0,542.6 1083.0,543.3 1084.0,544.3 1085.0,545.3 1086.0,544.0"/>
<polyline fill="none" stroke="#e8c030" stroke-width="1" shape-rendering="crispEdges" points="684.0,557.4 685.0,557.8 686.0,558.6 687.0,559.2 688.0,558.5 689.0,557.8 690.0,557.0 691.0,557.7 692.0,557.2 693.0,555.7 694.0,556.2 695.0,555.5 696.0,557.2 697.0,558.0 698.0,556.8 699.0,555.7 700.0,555.5 701.0,555.1 702.0,554.8 703.0,553.7 704.0,552.7 705.0,553.8 706.0,554.7 707.0,554.1 708.0,552.7 709.0,553.5 710.0,554.2 711.0,554.6 712.0,554.5 713.0,553.8 714.0,554.0 715.0,553.7 716.0,553.1 717.0,552.6 718.0,552.6 719.0,552.4 720.0,552.1 721.0,551.1 722.0,550.1 723.0,549.9 724.0,549.7 725.0,548.7 726.0,547.7 727.0,549.5 728.0,548.4 729.0,547.4 730.0,548.7 731.0,548.2 732.0,547.6 733.0,546.9 734.0,547.5 735.0,546.8 736.0,545.9 737.0,545.0 738.0,545.9 739.0,545.0 740.0,544.1 741.0,545.0 742.0,543.6 743.0,542.8 744.0,542.5 745.0,542.9 746.0,542.8 747.0,542.7 748.0,542.8 749.0,542.0 750.0,541.3 751.0,540.7 752.0,540.6 753.0,540.6 754.0,540.9 755.0,540.4 756.0,540.7 757.0,539.7 758.0,538.8 759.0,538.6 760.0,538.4 761.0,538.2 762.0,538.1 763.0,537.9 764.0,537.9 765.0,537.0 766.0,535.8 767.0,536.1 768.0,535.6 769.0,535.1 770.0,535.0 771.0,535.1 772.0,534.0 773.0,534.5 774.0,533.6 775.0,532.8 776.0,532.7 777.0,532.8 778.0,531.9 779.0,532.6 780.0,532.8 781.0,533.1 782.0,533.7 783.0,533.0 784.0,532.6 785.0,532.0 786.0,531.2 787.0,532.1 788.0,531.8 789.0,530.0 790.0,527.4 791.0,527.8 792.0,527.3 793.0,526.9 794.0,524.7 795.0,525.0 796.0,525.4 797.0,525.3 798.0,524.9 799.0,524.3 800.0,525.0 801.0,525.5 802.0,525.0 803.0,524.8 804.0,524.4 805.0,524.0 806.0,523.4 807.0,522.1 808.0,522.2 809.0,521.2 810.0,519.7 811.0,518.1 812.0,519.2 813.0,517.9 814.0,516.9 815.0,515.3 816.0,514.6 817.0,513.1 818.0,511.7 819.0,514.2 820.0,516.9 821.0,516.2 822.0,516.1 823.0,516.9 824.0,515.6 825.0,516.1 826.0,516.3 827.0,515.8 828.0,515.3 829.0,514.7 830.0,514.2 831.0,513.6 832.0,513.6 833.0,513.4 834.0,514.4 835.0,513.9 836.0,513.5 837.0,514.3 838.0,513.0 839.0,511.8 840.0,511.7 841.0,510.6 842.0,509.3 843.0,510.1 844.0,508.1 845.0,508.7 846.0,509.3 847.0,508.8 848.0,508.0 849.0,507.1 850.0,505.6 851.0,505.8 852.0,505.4 853.0,506.0 854.0,505.6 855.0,506.4 856.0,507.3 857.0,506.8 858.0,505.9 859.0,508.3 860.0,508.5 861.0,508.6 862.0,508.6 863.0,509.0 864.0,507.9 865.0,507.3 866.0,506.9 867.0,506.8 868.0,506.0 869.0,505.0 870.0,504.4 871.0,503.9 872.0,502.9 873.0,501.9 874.0,503.5 875.0,503.4 876.0,503.4 877.0,503.0 878.0,503.1 879.0,502.6 880.0,502.2 881.0,503.1 882.0,501.9 883.0,501.5 884.0,501.2 885.0,501.2 886.0,501.2 887.0,500.4 888.0,499.5 889.0,499.1 890.0,498.5 891.0,498.7 892.0,498.2 893.0,498.4 894.0,497.7 895.0,497.7 896.0,495.0 897.0,496.5 898.0,498.1 899.0,497.1 900.0,496.1 901.0,497.0 902.0,496.6 903.0,495.0 904.0,496.6 905.0,496.9 906.0,497.1 907.0,496.7 908.0,496.5 909.0,496.0 910.0,495.6 911.0,494.8 912.0,494.4 913.0,494.8 914.0,495.5 915.0,495.7 916.0,496.8 917.0,496.9 918.0,496.9 919.0,497.3 920.0,497.4 921.0,496.2 922.0,495.8 923.0,494.9 924.0,494.3 925.0,493.8 926.0,495.2 927.0,496.8 928.0,497.7 929.0,498.0 930.0,498.3 931.0,498.5 932.0,498.0 933.0,499.6 934.0,500.0 935.0,499.0 936.0,499.8 937.0,499.4 938.0,498.8 939.0,497.6 940.0,496.9 941.0,495.6 942.0,497.0 943.0,496.6 944.0,496.3 945.0,497.0 946.0,498.0 947.0,498.2 948.0,498.7 949.0,500.3 950.0,501.4 951.0,502.4 952.0,501.1 953.0,500.4 954.0,501.3 955.0,502.1 956.0,502.8 957.0,503.3 958.0,501.0 959.0,501.6 960.0,503.7 961.0,504.1 962.0,502.9 963.0,503.5 964.0,503.9 965.0,503.4 966.0,503.6 967.0,503.4 968.0,501.2 969.0,502.5 970.0,502.9 971.0,502.5 972.0,503.5 973.0,504.5 974.0,504.1 975.0,503.4 976.0,504.7 977.0,505.9 978.0,506.4 979.0,506.3 980.0,506.2 981.0,506.4 982.0,505.3 983.0,502.1 984.0,503.9 985.0,505.9 986.0,507.7 987.0,508.7 988.0,509.4 989.0,508.6 990.0,509.6 991.0,511.0 992.0,510.9 993.0,510.8 994.0,511.2 995.0,511.8 996.0,512.5 997.0,513.1 998.0,513.2 999.0,513.3 1000.0,513.0 1001.0,513.0 1002.0,513.0 1003.0,512.9 1004.0,510.8 1005.0,512.8 1006.0,515.1 1007.0,516.1 1008.0,517.1 1009.0,517.8 1010.0,518.5 1011.0,517.4 1012.0,517.3 1013.0,518.4 1014.0,517.1 1015.0,520.7 1016.0,519.6 1017.0,519.4 1018.0,519.3 1019.0,519.8 1020.0,520.2 1021.0,519.8 1022.0,519.9 1023.0,519.9 1024.0,520.1 1025.0,520.4 1026.0,519.6 1027.0,520.1 1028.0,520.9 1029.0,520.1 1030.0,520.7 1031.0,521.8 1032.0,522.6 1033.0,522.4 1034.0,523.1 1035.0,523.5 1036.0,523.7 1037.0,524.6 1038.0,525.5 1039.0,526.9 1040.0,528.1 1041.0,527.6 1042.0,527.0 1043.0,527.7 1044.0,531.3 1045.0,530.9 1046.0,531.9 1047.0,532.6 1048.0,532.9 1049.0,532.4 1050.0,532.8 1051.0,532.4 1052.0,532.1 1053.0,531.7 1054.0,531.5 1055.0,531.2 1056.0,531.1 1057.0,531.6 1058.0,532.2 1059.0,532.9 1060.0,533.5 1061.0,532.9 1062.0,532.4 1063.0,533.0 1064.0,534.5 1065.0,534.6 1066.0,536.2 1067.0,538.1 1068.0,538.2 1069.0,539.4 1070.0,539.8 1071.0,540.6 1072.0,541.3 1073.0,541.4 1074.0,542.2 1075.0,542.9 1076.0,542.9 1077.0,542.5 1078.0,542.0 1079.0,542.7 1080.0,544.1 1081.0,543.3 1082.0,544.5 1083.0,543.7 1084.0,543.9 1085.0,544.0 1086.0,544.1"/>
<polyline fill="none" stroke="#cc7636" stroke-width="1" shape-rendering="crispEdges" points="684.0,557.1 685.0,557.7 686.0,558.4 687.0,559.4 688.0,559.0 689.0,557.3 690.0,555.7 691.0,556.9 692.0,558.1 693.0,557.5 694.0,556.8 695.0,554.6 696.0,556.9 697.0,557.1 698.0,555.5 699.0,554.7 700.0,554.3 701.0,553.8 702.0,553.3 703.0,554.6 704.0,553.7 705.0,552.1 706.0,554.6 707.0,551.1 708.0,552.7 709.0,553.2 710.0,553.4 711.0,553.8 712.0,553.8 713.0,554.1 714.0,553.2 715.0,551.9 716.0,551.5 717.0,551.5 718.0,552.0 719.0,551.8 720.0,551.4 721.0,550.2 722.0,550.4 723.0,549.5 724.0,549.5 725.0,548.4 726.0,547.2 727.0,548.5 728.0,548.0 729.0,547.5 730.0,546.9 731.0,546.4 732.0,546.3 733.0,546.2 734.0,545.3 735.0,546.7 736.0,543.7 737.0,542.5 738.0,542.0 739.0,544.6 740.0,545.3 741.0,544.7 742.0,543.7 743.0,542.4 744.0,541.6 745.0,542.2 746.0,542.1 747.0,541.5 748.0,540.9 749.0,541.0 750.0,541.3 751.0,539.7 752.0,540.2 753.0,540.0 754.0,540.1 755.0,540.2 756.0,540.6 757.0,539.6 758.0,538.5 759.0,538.7 760.0,537.2 761.0,537.3 762.0,538.0 763.0,538.7 764.0,538.1 765.0,536.6 766.0,535.4 767.0,535.2 768.0,534.9 769.0,534.6 770.0,534.9 771.0,534.8 772.0,534.3 773.0,535.1 774.0,532.9 775.0,533.3 776.0,532.4 777.0,531.9 778.0,532.3 779.0,532.4 780.0,531.4 781.0,532.2 782.0,533.0 783.0,531.1 784.0,532.4 785.0,532.0 786.0,530.9 787.0,531.4 788.0,531.6 789.0,530.1 790.0,528.5 791.0,527.2 792.0,527.0 793.0,526.9 794.0,524.6 795.0,522.5 796.0,523.6 797.0,525.0 798.0,524.5 799.0,524.7 800.0,524.8 801.0,524.9 802.0,524.8 803.0,523.9 804.0,523.3 805.0,522.9 806.0,522.1 807.0,521.4 808.0,521.2 809.0,519.0 810.0,520.1 811.0,518.5 812.0,518.8 813.0,516.4 814.0,514.5 815.0,514.4 816.0,515.1 817.0,513.5 818.0,511.9 819.0,514.0 820.0,516.3 821.0,515.7 822.0,515.6 823.0,516.1 824.0,516.5 825.0,515.2 826.0,513.6 827.0,512.1 828.0,513.3 829.0,514.6 830.0,513.9 831.0,513.2 832.0,513.7 833.0,514.1 834.0,514.0 835.0,514.0 836.0,511.0 837.0,512.7 838.0,511.6 839.0,511.1 840.0,512.2 841.0,509.0 842.0,505.6 843.0,509.3 844.0,510.0 845.0,509.1 846.0,508.2 847.0,507.5 848.0,507.6 849.0,507.5 850.0,505.3 851.0,504.8 852.0,505.5 853.0,505.1 854.0,505.4 855.0,506.3 856.0,507.3 857.0,508.0 858.0,506.0 859.0,504.8 860.0,506.3 861.0,507.7 862.0,507.8 863.0,507.8 864.0,508.0 865.0,507.4 866.0,506.8 867.0,506.1 868.0,505.2 869.0,505.2 870.0,505.2 871.0,503.8 872.0,502.4 873.0,502.2 874.0,502.2 875.0,501.9 876.0,501.8 877.0,502.7 878.0,503.6 879.0,503.0 880.0,502.3 881.0,502.2 882.0,501.3 883.0,500.6 884.0,500.0 885.0,500.5 886.0,499.1 887.0,499.6 888.0,499.0 889.0,498.4 890.0,499.5 891.0,498.3 892.0,497.9 893.0,498.7 894.0,496.6 895.0,496.0 896.0,496.4 897.0,495.6 898.0,494.8 899.0,496.0 900.0,497.1 901.0,496.7 902.0,496.4 903.0,494.9 904.0,496.5 905.0,496.7 906.0,497.1 907.0,496.3 908.0,495.6 909.0,495.2 910.0,494.8 911.0,494.9 912.0,494.8 913.0,494.8 914.0,495.9 915.0,494.8 916.0,494.9 917.0,494.6 918.0,496.6 919.0,495.6 920.0,496.2 921.0,495.6 922.0,495.0 923.0,495.0 924.0,495.0 925.0,494.9 926.0,495.7 927.0,495.5 928.0,495.3 929.0,495.5 930.0,497.1 931.0,498.6 932.0,499.1 933.0,499.4 934.0,498.9 935.0,499.2 936.0,499.3 937.0,498.6 938.0,497.7 939.0,497.5 940.0,496.3 941.0,495.4 942.0,496.1 943.0,496.9 944.0,496.6 945.0,496.1 946.0,495.9 947.0,497.1 948.0,498.4 949.0,499.2 950.0,500.3 951.0,501.7 952.0,502.4 953.0,501.7 954.0,501.4 955.0,502.5 956.0,503.1 957.0,503.5 958.0,503.7 959.0,503.8 960.0,501.8 961.0,499.8 962.0,501.4 963.0,503.1 964.0,502.5 965.0,501.8 966.0,502.5 967.0,503.1 968.0,502.5 969.0,502.6 970.0,501.5 971.0,500.1 972.0,502.7 973.0,505.3 974.0,504.3 975.0,503.4 976.0,505.4 977.0,506.1 978.0,506.7 979.0,505.7 980.0,505.8 981.0,506.1 982.0,505.9 983.0,503.7 984.0,503.9 985.0,504.1 986.0,505.2 987.0,507.2 988.0,508.7 989.0,507.6 990.0,508.2 991.0,510.5 992.0,510.8 993.0,510.9 994.0,511.0 995.0,511.3 996.0,511.9 997.0,512.5 998.0,512.5 999.0,512.4 1000.0,513.1 1001.0,512.1 1002.0,512.0 1003.0,512.0 1004.0,512.5 1005.0,513.6 1006.0,514.7 1007.0,516.3 1008.0,515.7 1009.0,516.5 1010.0,517.7 1011.0,518.6 1012.0,517.5 1013.0,518.9 1014.0,519.5 1015.0,516.3 1016.0,518.9 1017.0,519.5 1018.0,519.1 1019.0,518.3 1020.0,518.6 1021.0,518.5 1022.0,519.6 1023.0,519.0 1024.0,518.8 1025.0,519.3 1026.0,520.0 1027.0,519.4 1028.0,519.0 1029.0,518.7 1030.0,519.5 1031.0,520.7 1032.0,521.9 1033.0,521.5 1034.0,521.2 1035.0,522.1 1036.0,523.0 1037.0,523.7 1038.0,524.1 1039.0,525.2 1040.0,527.5 1041.0,527.5 1042.0,527.9 1043.0,528.2 1044.0,530.0 1045.0,530.9 1046.0,531.8 1047.0,532.0 1048.0,532.0 1049.0,532.3 1050.0,532.6 1051.0,531.8 1052.0,531.0 1053.0,530.5 1054.0,529.1 1055.0,530.9 1056.0,531.0 1057.0,529.9 1058.0,528.9 1059.0,529.9 1060.0,530.8 1061.0,531.4 1062.0,531.9 1063.0,532.5 1064.0,533.2 1065.0,533.7 1066.0,534.9 1067.0,536.7 1068.0,534.8 1069.0,538.5 1070.0,538.5 1071.0,537.9 1072.0,540.2 1073.0,540.9 1074.0,541.7 1075.0,542.7 1076.0,542.3 1077.0,542.4 1078.0,542.5 1079.0,542.5 1080.0,544.0 1081.0,543.1 1082.0,543.3 1083.0,543.5 1084.0,543.9 1085.0,544.2 1086.0,543.5"/>
<g stroke="#000" stroke-width="1" fill="none" shape-rendering="crispEdges">
<line x1="683.5" y1="493.0" x2="683.5" y2="561.0"/>
<line x1="683.0" y1="560.5" x2="1085.5" y2="560.5"/>
<line x1="683.5" y1="509.5" x2="690.0" y2="509.5"/>
<line x1="683.5" y1="528.5" x2="690.0" y2="528.5"/>
<line x1="683.5" y1="548.5" x2="690.0" y2="548.5"/>
<line x1="752.5" y1="560.5" x2="752.5" y2="554.5"/>
<line x1="852.5" y1="560.5" x2="852.5" y2="554.5"/>
<line x1="952.5" y1="560.5" x2="952.5" y2="554.5"/>
<line x1="1051.5" y1="560.5" x2="1051.5" y2="554.5"/>
</g>
<g fill="#000" font-size="26">
<text transform="translate(883.0,472.6) scale(0.920,1)" text-anchor="middle">Bin 6</text>
<text transform="translate(752.5,595.6) scale(0.900,1)" text-anchor="middle">2350</text>
<text transform="translate(852.5,595.6) scale(0.900,1)" text-anchor="middle">2355</text>
<text transform="translate(952.5,595.6) scale(0.900,1)" text-anchor="middle">2360</text>
<text transform="translate(1051.5,595.6) scale(0.900,1)" text-anchor="middle">2365</text>
<text transform="translate(676.5,521.2) scale(0.900,1)" text-anchor="end">15</text>
<text transform="translate(676.5,540.4) scale(0.900,1)" text-anchor="end">10</text>
<text transform="translate(676.5,560.2) scale(0.900,1)" text-anchor="end">5</text>
<text transform="translate(882.5,633.4) scale(0.940,1)" text-anchor="middle">Wavenumber [cm<tspan font-size="17.5" dy="-11.8">-1</tspan><tspan dy="11.8">]</tspan></text>
<text transform="translate(636.5,527.6) rotate(-90) scale(0.940,1)" text-anchor="middle">ADU</text>
</g>
<g stroke="#000" stroke-width="1" stroke-dasharray="1 4" fill="none" shape-rendering="crispEdges"><line x1="156.0" y1="703.5" x2="557.5" y2="703.5"/><line x1="156.0" y1="723.5" x2="557.5" y2="723.5"/><line x1="156.0" y1="743.5" x2="557.5" y2="743.5"/><line x1="224.5" y1="690.0" x2="224.5" y2="757.0"/><line x1="324.5" y1="690.0" x2="324.5" y2="757.0"/><line x1="424.5" y1="690.0" x2="424.5" y2="757.0"/><line x1="523.5" y1="690.0" x2="523.5" y2="757.0"/></g>
<polyline fill="none" stroke="#10308c" stroke-width="1" shape-rendering="crispEdges" points="156.0,757.5 157.0,756.3 158.0,756.3 159.0,756.2 160.0,756.1 161.0,756.0 162.0,756.1 163.0,756.2 164.0,755.8 165.0,756.9 166.0,756.6 167.0,757.4 168.0,757.5 169.0,756.6 170.0,755.1 171.0,754.0 172.0,754.1 173.0,754.2 174.0,754.4 175.0,754.8 176.0,753.0 177.0,755.2 178.0,754.1 179.0,753.0 180.0,751.2 181.0,752.0 182.0,752.4 183.0,751.9 184.0,751.4 185.0,752.7 186.0,751.5 187.0,750.3 188.0,750.6 189.0,750.9 190.0,749.9 191.0,752.3 192.0,750.6 193.0,749.6 194.0,749.3 195.0,749.0 196.0,748.8 197.0,749.8 198.0,748.4 199.0,747.0 200.0,747.2 201.0,746.8 202.0,746.4 203.0,746.6 204.0,746.1 205.0,746.2 206.0,746.0 207.0,746.0 208.0,745.4 209.0,744.7 210.0,744.5 211.0,744.3 212.0,745.1 213.0,746.4 214.0,745.2 215.0,744.0 216.0,743.9 217.0,743.9 218.0,743.2 219.0,742.0 220.0,741.2 221.0,741.1 222.0,739.7 223.0,738.9 224.0,738.5 225.0,738.4 226.0,738.4 227.0,738.6 228.0,739.5 229.0,737.9 230.0,738.2 231.0,737.2 232.0,736.8 233.0,736.9 234.0,736.6 235.0,736.6 236.0,736.3 237.0,736.3 238.0,735.4 239.0,734.5 240.0,734.6 241.0,734.6 242.0,734.8 243.0,734.0 244.0,733.0 245.0,731.9 246.0,730.9 247.0,729.9 248.0,729.9 249.0,730.1 250.0,733.2 251.0,732.1 252.0,729.8 253.0,729.0 254.0,730.7 255.0,730.5 256.0,730.3 257.0,729.4 258.0,729.2 259.0,729.6 260.0,730.0 261.0,729.8 262.0,728.5 263.0,727.5 264.0,726.6 265.0,725.2 266.0,723.8 267.0,723.2 268.0,722.9 269.0,723.7 270.0,723.3 271.0,723.1 272.0,723.4 273.0,722.8 274.0,722.7 275.0,724.2 276.0,724.2 277.0,724.0 278.0,722.6 279.0,721.0 280.0,720.3 281.0,719.5 282.0,717.4 283.0,717.4 284.0,716.6 285.0,715.9 286.0,714.7 287.0,715.5 288.0,715.3 289.0,715.0 290.0,715.2 291.0,714.9 292.0,714.3 293.0,714.0 294.0,713.7 295.0,714.5 296.0,714.4 297.0,713.9 298.0,714.0 299.0,714.2 300.0,714.4 301.0,714.4 302.0,713.0 303.0,713.1 304.0,712.7 305.0,712.7 306.0,711.7 307.0,711.5 308.0,711.4 309.0,710.6 310.0,709.7 311.0,710.3 312.0,710.8 313.0,709.0 314.0,709.1 315.0,708.0 316.0,706.9 317.0,706.2 318.0,705.5 319.0,704.9 320.0,704.9 321.0,704.9 322.0,704.4 323.0,703.8 324.0,703.4 325.0,705.1 326.0,708.5 327.0,706.6 328.0,706.8 329.0,706.6 330.0,706.2 331.0,705.6 332.0,705.6 333.0,705.4 334.0,706.1 335.0,705.5 336.0,705.0 337.0,704.6 338.0,704.6 339.0,704.2 340.0,703.9 341.0,703.2 342.0,703.0 343.0,703.6 344.0,704.3 345.0,703.1 346.0,703.0 347.0,702.7 348.0,702.8 349.0,702.9 350.0,701.4 351.0,699.5 352.0,699.6 353.0,699.5 354.0,699.6 355.0,699.9 356.0,700.1 357.0,699.8 358.0,699.6 359.0,700.4 360.0,700.3 361.0,699.8 362.0,699.9 363.0,699.9 364.0,699.6 365.0,698.6 366.0,698.2 367.0,697.0 368.0,696.4 369.0,696.6 370.0,693.7 371.0,695.2 372.0,696.0 373.0,696.5 374.0,696.8 375.0,696.2 376.0,695.7 377.0,696.8 378.0,696.5 379.0,695.5 380.0,694.6 381.0,695.3 382.0,694.9 383.0,694.5 384.0,695.3 385.0,696.0 386.0,695.5 387.0,694.7 388.0,693.3 389.0,693.8 390.0,693.9 391.0,694.0 392.0,694.2 393.0,694.6 394.0,695.2 395.0,695.9 396.0,696.7 397.0,695.6 398.0,697.1 399.0,696.8 400.0,697.1 401.0,697.3 402.0,697.8 403.0,697.3 404.0,697.9 405.0,697.9 406.0,697.7 407.0,697.3 408.0,698.0 409.0,696.7 410.0,696.2 411.0,696.1 412.0,696.0 413.0,695.8 414.0,698.2 415.0,697.1 416.0,698.0 417.0,699.0 418.0,698.5 419.0,698.5 420.0,699.0 421.0,700.0 422.0,701.3 423.0,702.5 424.0,703.0 425.0,702.8 426.0,703.7 427.0,704.4 428.0,703.6 429.0,703.2 430.0,703.0 431.0,703.4 432.0,703.3 433.0,703.8 434.0,702.7 435.0,703.9 436.0,703.5 437.0,702.8 438.0,702.1 439.0,703.6 440.0,705.1 441.0,703.9 442.0,704.0 443.0,703.9 444.0,704.3 445.0,703.7 446.0,703.5 447.0,703.6 448.0,705.5 449.0,705.0 450.0,706.2 451.0,707.2 452.0,708.7 453.0,708.6 454.0,708.1 455.0,709.5 456.0,710.0 457.0,708.3 458.0,707.2 459.0,708.1 460.0,707.3 461.0,710.4 462.0,712.4 463.0,712.7 464.0,713.3 465.0,713.3 466.0,713.3 467.0,712.1 468.0,714.4 469.0,715.6 470.0,713.0 471.0,713.5 472.0,714.2 473.0,715.4 474.0,716.5 475.0,714.1 476.0,714.7 477.0,714.7 478.0,714.8 479.0,714.5 480.0,712.9 481.0,714.4 482.0,716.1 483.0,716.3 484.0,716.6 485.0,717.4 486.0,717.9 487.0,719.1 488.0,718.9 489.0,718.5 490.0,718.2 491.0,716.9 492.0,716.4 493.0,717.3 494.0,716.9 495.0,716.6 496.0,717.1 497.0,718.2 498.0,718.9 499.0,719.5 500.0,719.4 501.0,720.4 502.0,721.3 503.0,722.5 504.0,721.9 505.0,723.2 506.0,724.1 507.0,725.0 508.0,725.2 509.0,725.3 510.0,725.8 511.0,725.7 512.0,725.8 513.0,726.8 514.0,727.8 515.0,728.9 516.0,731.2 517.0,731.0 518.0,730.1 519.0,730.4 520.0,729.9 521.0,730.4 522.0,729.8 523.0,729.6 524.0,730.0 525.0,730.6 526.0,731.0 527.0,731.4 528.0,731.3 529.0,729.8 530.0,730.0 531.0,731.5 532.0,734.2 533.0,733.8 534.0,733.4 535.0,732.6 536.0,733.6 537.0,734.5 538.0,734.9 539.0,734.9 540.0,735.8 541.0,736.8 542.0,735.5 543.0,737.5 544.0,738.6 545.0,739.3 546.0,740.8 547.0,741.6 548.0,742.3 549.0,742.0 550.0,742.2 551.0,742.2 552.0,743.0 553.0,743.5 554.0,744.2 555.0,745.1 556.0,744.1 557.0,743.4 558.0,743.9"/>
<polyline fill="none" stroke="#3aa8e0" stroke-width="1" shape-rendering="crispEdges" points="156.0,755.1 157.0,757.2 158.0,755.2 159.0,754.9 160.0,755.0 161.0,755.2 162.0,755.1 163.0,754.7 164.0,754.5 165.0,755.2 166.0,755.9 167.0,755.3 168.0,754.7 169.0,754.9 170.0,754.3 171.0,753.7 172.0,753.1 173.0,752.6 174.0,752.2 175.0,752.8 176.0,752.8 177.0,753.0 178.0,752.6 179.0,751.7 180.0,750.9 181.0,751.1 182.0,751.3 183.0,751.2 184.0,751.0 185.0,752.1 186.0,750.9 187.0,749.8 188.0,749.8 189.0,749.8 190.0,749.9 191.0,750.1 192.0,749.3 193.0,749.0 194.0,749.2 195.0,749.5 196.0,749.0 197.0,749.6 198.0,748.2 199.0,746.8 200.0,746.4 201.0,746.1 202.0,745.9 203.0,746.6 204.0,746.0 205.0,745.4 206.0,745.2 207.0,745.2 208.0,745.1 209.0,745.0 210.0,744.1 211.0,744.4 212.0,744.6 213.0,745.2 214.0,743.9 215.0,744.1 216.0,743.0 217.0,741.9 218.0,742.1 219.0,741.8 220.0,740.3 221.0,739.4 222.0,739.0 223.0,738.7 224.0,738.7 225.0,738.5 226.0,737.7 227.0,737.7 228.0,737.7 229.0,737.8 230.0,737.7 231.0,737.2 232.0,736.5 233.0,737.3 234.0,738.1 235.0,737.5 236.0,736.7 237.0,735.8 238.0,734.5 239.0,734.3 240.0,734.3 241.0,734.3 242.0,732.9 243.0,732.4 244.0,732.7 245.0,731.5 246.0,730.3 247.0,730.7 248.0,729.6 249.0,730.0 250.0,730.4 251.0,730.5 252.0,729.6 253.0,729.6 254.0,730.2 255.0,729.9 256.0,729.5 257.0,729.8 258.0,729.1 259.0,728.8 260.0,728.5 261.0,728.2 262.0,727.0 263.0,726.2 264.0,725.7 265.0,724.7 266.0,723.5 267.0,722.8 268.0,722.7 269.0,722.8 270.0,723.4 271.0,724.1 272.0,723.6 273.0,722.3 274.0,722.1 275.0,721.9 276.0,723.0 277.0,723.0 278.0,722.7 279.0,721.2 280.0,719.3 281.0,718.3 282.0,716.8 283.0,718.7 284.0,717.3 285.0,715.9 286.0,714.6 287.0,714.0 288.0,714.5 289.0,713.9 290.0,715.2 291.0,714.6 292.0,713.6 293.0,713.9 294.0,714.1 295.0,713.6 296.0,712.7 297.0,712.8 298.0,712.9 299.0,712.5 300.0,712.0 301.0,712.4 302.0,711.9 303.0,712.4 304.0,711.4 305.0,711.8 306.0,711.0 307.0,710.5 308.0,710.1 309.0,709.5 310.0,710.8 311.0,710.4 312.0,709.9 313.0,709.4 314.0,707.8 315.0,706.8 316.0,705.8 317.0,706.0 318.0,705.5 319.0,704.9 320.0,704.2 321.0,703.5 322.0,703.6 323.0,703.7 324.0,704.1 325.0,705.0 326.0,705.9 327.0,707.0 328.0,706.2 329.0,706.3 330.0,705.4 331.0,704.5 332.0,704.1 333.0,705.1 334.0,705.1 335.0,704.7 336.0,704.6 337.0,704.1 338.0,703.1 339.0,703.1 340.0,703.2 341.0,701.4 342.0,702.6 343.0,702.5 344.0,702.3 345.0,701.6 346.0,702.2 347.0,702.1 348.0,702.3 349.0,701.0 350.0,700.1 351.0,700.4 352.0,699.7 353.0,699.1 354.0,698.8 355.0,698.6 356.0,698.9 357.0,699.3 358.0,699.4 359.0,700.0 360.0,699.8 361.0,699.1 362.0,698.8 363.0,698.4 364.0,697.9 365.0,697.8 366.0,697.2 367.0,695.6 368.0,694.1 369.0,695.6 370.0,694.5 371.0,695.3 372.0,696.0 373.0,695.8 374.0,695.9 375.0,695.0 376.0,694.3 377.0,695.4 378.0,694.6 379.0,694.8 380.0,694.1 381.0,693.6 382.0,693.1 383.0,693.6 384.0,694.7 385.0,695.1 386.0,694.7 387.0,694.6 388.0,694.0 389.0,693.9 390.0,694.0 391.0,694.3 392.0,694.4 393.0,694.8 394.0,695.3 395.0,695.7 396.0,696.2 397.0,696.0 398.0,696.3 399.0,695.7 400.0,696.1 401.0,697.3 402.0,698.4 403.0,696.6 404.0,697.3 405.0,697.7 406.0,697.5 407.0,697.6 408.0,697.1 409.0,696.6 410.0,696.5 411.0,695.6 412.0,695.6 413.0,696.2 414.0,697.0 415.0,696.4 416.0,697.0 417.0,697.8 418.0,697.6 419.0,698.5 420.0,699.8 421.0,699.1 422.0,700.1 423.0,701.3 424.0,701.7 425.0,702.3 426.0,703.4 427.0,702.2 428.0,703.4 429.0,703.3 430.0,703.4 431.0,703.3 432.0,704.2 433.0,703.0 434.0,702.9 435.0,702.9 436.0,702.6 437.0,702.4 438.0,702.4 439.0,703.6 440.0,704.6 441.0,704.0 442.0,704.1 443.0,703.5 444.0,703.0 445.0,703.4 446.0,704.2 447.0,703.7 448.0,704.6 449.0,705.1 450.0,706.2 451.0,706.6 452.0,706.5 453.0,706.9 454.0,707.9 455.0,708.8 456.0,707.8 457.0,707.0 458.0,706.3 459.0,706.3 460.0,706.6 461.0,708.7 462.0,709.6 463.0,710.4 464.0,711.6 465.0,711.7 466.0,712.8 467.0,712.6 468.0,712.7 469.0,714.1 470.0,713.6 471.0,713.9 472.0,714.0 473.0,714.9 474.0,715.4 475.0,713.1 476.0,713.8 477.0,714.7 478.0,713.8 479.0,713.1 480.0,713.0 481.0,714.3 482.0,715.8 483.0,716.7 484.0,717.6 485.0,718.4 486.0,718.9 487.0,718.8 488.0,718.3 489.0,718.2 490.0,717.6 491.0,715.4 492.0,716.2 493.0,715.7 494.0,715.9 495.0,716.3 496.0,716.4 497.0,718.0 498.0,719.3 499.0,719.9 500.0,719.8 501.0,719.6 502.0,721.3 503.0,723.2 504.0,722.3 505.0,722.8 506.0,723.3 507.0,723.8 508.0,725.0 509.0,725.7 510.0,726.1 511.0,725.9 512.0,726.1 513.0,726.8 514.0,727.4 515.0,728.0 516.0,730.9 517.0,730.4 518.0,730.7 519.0,731.0 520.0,731.1 521.0,730.5 522.0,730.0 523.0,730.1 524.0,730.3 525.0,730.9 526.0,730.4 527.0,729.9 528.0,729.8 529.0,729.7 530.0,729.2 531.0,730.6 532.0,732.0 533.0,732.5 534.0,733.0 535.0,732.6 536.0,732.7 537.0,734.2 538.0,735.7 539.0,734.8 540.0,734.9 541.0,736.0 542.0,734.2 543.0,735.8 544.0,737.5 545.0,738.6 546.0,739.7 547.0,740.5 548.0,742.4 549.0,742.0 550.0,741.9 551.0,742.4 552.0,742.7 553.0,742.4 554.0,742.3 555.0,742.4 556.0,742.6 557.0,742.9 558.0,743.1"/>
<polyline fill="none" stroke="#7cc04c" stroke-width="1" shape-rendering="crispEdges" points="156.0,754.3 157.0,755.9 158.0,754.1 159.0,753.9 160.0,754.2 161.0,754.4 162.0,754.2 163.0,754.3 164.0,754.9 165.0,755.5 166.0,754.8 167.0,753.7 168.0,754.0 169.0,754.5 170.0,753.3 171.0,752.0 172.0,753.0 173.0,752.4 174.0,751.8 175.0,751.0 176.0,750.7 177.0,752.5 178.0,751.9 179.0,751.4 180.0,749.6 181.0,750.6 182.0,751.7 183.0,751.6 184.0,750.1 185.0,750.9 186.0,750.1 187.0,749.3 188.0,749.8 189.0,749.4 190.0,748.8 191.0,748.2 192.0,748.6 193.0,749.2 194.0,748.0 195.0,746.8 196.0,747.1 197.0,748.6 198.0,747.4 199.0,746.4 200.0,746.0 201.0,746.0 202.0,746.0 203.0,744.8 204.0,744.5 205.0,744.7 206.0,744.5 207.0,743.3 208.0,743.5 209.0,743.6 210.0,743.7 211.0,743.5 212.0,743.3 213.0,743.0 214.0,742.7 215.0,744.0 216.0,743.2 217.0,742.1 218.0,741.0 219.0,740.2 220.0,739.5 221.0,738.2 222.0,738.0 223.0,737.7 224.0,737.8 225.0,737.8 226.0,737.0 227.0,736.1 228.0,737.0 229.0,737.8 230.0,736.6 231.0,736.1 232.0,735.6 233.0,736.0 234.0,736.3 235.0,735.2 236.0,736.0 237.0,734.7 238.0,733.0 239.0,732.5 240.0,732.9 241.0,732.9 242.0,732.2 243.0,731.7 244.0,731.2 245.0,730.5 246.0,729.7 247.0,729.2 248.0,729.3 249.0,729.1 250.0,727.8 251.0,728.7 252.0,728.4 253.0,728.4 254.0,728.4 255.0,729.1 256.0,729.3 257.0,728.7 258.0,727.9 259.0,727.7 260.0,727.5 261.0,727.6 262.0,726.7 263.0,725.9 264.0,725.2 265.0,724.0 266.0,723.0 267.0,722.7 268.0,722.7 269.0,723.0 270.0,722.4 271.0,722.7 272.0,723.1 273.0,722.5 274.0,722.2 275.0,721.8 276.0,721.9 277.0,721.9 278.0,721.9 279.0,720.2 280.0,718.8 281.0,717.4 282.0,716.0 283.0,717.5 284.0,716.6 285.0,715.2 286.0,714.0 287.0,713.9 288.0,714.0 289.0,713.7 290.0,713.5 291.0,713.7 292.0,713.6 293.0,713.3 294.0,713.0 295.0,712.7 296.0,712.6 297.0,712.1 298.0,712.2 299.0,712.4 300.0,711.7 301.0,710.7 302.0,711.4 303.0,711.6 304.0,711.1 305.0,710.5 306.0,709.9 307.0,709.5 308.0,709.1 309.0,708.2 310.0,707.3 311.0,708.0 312.0,708.8 313.0,708.1 314.0,707.4 315.0,706.8 316.0,706.1 317.0,705.4 318.0,704.6 319.0,703.8 320.0,703.1 321.0,704.2 322.0,702.7 323.0,702.5 324.0,703.2 325.0,703.7 326.0,704.7 327.0,704.8 328.0,705.5 329.0,705.6 330.0,705.0 331.0,704.1 332.0,704.3 333.0,704.5 334.0,705.1 335.0,703.7 336.0,703.3 337.0,702.8 338.0,701.9 339.0,702.8 340.0,703.0 341.0,702.5 342.0,702.1 343.0,701.8 344.0,701.2 345.0,700.0 346.0,700.3 347.0,700.2 348.0,700.3 349.0,700.2 350.0,698.4 351.0,698.8 352.0,699.1 353.0,698.4 354.0,697.9 355.0,698.5 356.0,698.1 357.0,697.8 358.0,698.2 359.0,699.3 360.0,699.4 361.0,698.2 362.0,699.5 363.0,698.2 364.0,698.0 365.0,698.2 366.0,697.0 367.0,695.7 368.0,694.6 369.0,693.9 370.0,693.5 371.0,693.8 372.0,694.1 373.0,695.3 374.0,696.1 375.0,695.0 376.0,694.5 377.0,693.8 378.0,693.2 379.0,693.2 380.0,693.3 381.0,693.1 382.0,693.1 383.0,693.7 384.0,694.3 385.0,694.0 386.0,693.9 387.0,693.6 388.0,693.0 389.0,692.6 390.0,692.2 391.0,692.6 392.0,693.1 393.0,692.9 394.0,694.0 395.0,694.5 396.0,693.9 397.0,693.4 398.0,694.8 399.0,695.2 400.0,696.2 401.0,697.1 402.0,697.8 403.0,696.9 404.0,697.0 405.0,696.9 406.0,696.5 407.0,696.4 408.0,696.3 409.0,696.1 410.0,695.1 411.0,694.3 412.0,694.6 413.0,695.4 414.0,695.3 415.0,695.8 416.0,696.9 417.0,697.7 418.0,698.2 419.0,698.0 420.0,698.2 421.0,698.9 422.0,699.6 423.0,700.7 424.0,701.1 425.0,700.3 426.0,702.0 427.0,702.4 428.0,702.5 429.0,702.5 430.0,702.6 431.0,703.0 432.0,703.1 433.0,702.0 434.0,702.2 435.0,703.1 436.0,701.8 437.0,701.1 438.0,701.1 439.0,702.0 440.0,703.6 441.0,704.3 442.0,703.1 443.0,702.9 444.0,702.8 445.0,702.4 446.0,702.8 447.0,703.6 448.0,704.3 449.0,704.8 450.0,705.7 451.0,706.5 452.0,706.3 453.0,706.6 454.0,707.0 455.0,707.3 456.0,706.6 457.0,706.1 458.0,705.4 459.0,705.8 460.0,706.5 461.0,708.3 462.0,709.0 463.0,710.0 464.0,711.4 465.0,711.8 466.0,712.2 467.0,711.6 468.0,712.8 469.0,712.7 470.0,712.6 471.0,713.4 472.0,714.4 473.0,714.7 474.0,714.8 475.0,712.4 476.0,712.4 477.0,711.6 478.0,712.8 479.0,712.9 480.0,711.6 481.0,713.3 482.0,714.3 483.0,713.9 484.0,716.1 485.0,718.3 486.0,717.9 487.0,717.2 488.0,717.6 489.0,717.2 490.0,716.3 491.0,715.5 492.0,715.6 493.0,715.8 494.0,715.6 495.0,715.7 496.0,716.1 497.0,716.9 498.0,717.5 499.0,717.1 500.0,718.5 501.0,719.4 502.0,719.8 503.0,721.5 504.0,721.3 505.0,722.9 506.0,723.8 507.0,723.9 508.0,724.2 509.0,724.4 510.0,725.0 511.0,725.2 512.0,725.5 513.0,726.2 514.0,727.1 515.0,728.0 516.0,730.1 517.0,729.8 518.0,729.0 519.0,728.1 520.0,730.3 521.0,729.5 522.0,729.0 523.0,729.0 524.0,729.2 525.0,729.1 526.0,728.5 527.0,727.9 528.0,728.7 529.0,729.4 530.0,728.5 531.0,730.2 532.0,731.9 533.0,731.1 534.0,731.6 535.0,731.9 536.0,732.6 537.0,732.7 538.0,734.3 539.0,734.5 540.0,734.6 541.0,735.1 542.0,735.0 543.0,736.0 544.0,736.8 545.0,737.2 546.0,738.3 547.0,740.0 548.0,741.0 549.0,741.1 550.0,741.4 551.0,741.5 552.0,741.8 553.0,741.0 554.0,741.4 555.0,742.0 556.0,740.7 557.0,741.4 558.0,742.1"/>
<polyline fill="none" stroke="#e8c030" stroke-width="1" shape-rendering="crispEdges" points="156.0,752.6 157.0,753.7 158.0,754.5 159.0,753.4 160.0,754.0 161.0,754.5 162.0,753.4 163.0,752.8 164.0,753.9 165.0,754.7 166.0,753.5 167.0,753.3 168.0,753.0 169.0,752.9 170.0,752.6 171.0,751.8 172.0,751.8 173.0,751.9 174.0,751.8 175.0,751.8 176.0,751.6 177.0,751.8 178.0,751.7 179.0,751.6 180.0,749.6 181.0,750.4 182.0,752.2 183.0,750.6 184.0,750.8 185.0,751.1 186.0,749.6 187.0,748.8 188.0,749.2 189.0,748.7 190.0,748.0 191.0,749.1 192.0,748.5 193.0,748.4 194.0,748.0 195.0,747.6 196.0,747.3 197.0,748.0 198.0,746.7 199.0,745.7 200.0,745.4 201.0,745.7 202.0,745.1 203.0,745.3 204.0,744.6 205.0,744.5 206.0,744.1 207.0,743.4 208.0,743.2 209.0,743.2 210.0,743.0 211.0,742.5 212.0,742.0 213.0,742.8 214.0,742.8 215.0,742.7 216.0,742.6 217.0,742.3 218.0,741.6 219.0,740.3 220.0,738.8 221.0,738.4 222.0,737.8 223.0,737.9 224.0,738.0 225.0,737.5 226.0,737.1 227.0,736.7 228.0,736.4 229.0,736.8 230.0,737.2 231.0,736.0 232.0,734.7 233.0,735.8 234.0,735.3 235.0,734.8 236.0,734.8 237.0,734.6 238.0,734.0 239.0,733.3 240.0,733.2 241.0,733.0 242.0,732.1 243.0,731.2 244.0,730.3 245.0,730.3 246.0,729.8 247.0,729.2 248.0,728.2 249.0,727.4 250.0,728.6 251.0,729.8 252.0,729.1 253.0,729.2 254.0,728.7 255.0,728.5 256.0,728.6 257.0,728.4 258.0,726.6 259.0,726.9 260.0,727.1 261.0,725.1 262.0,725.6 263.0,725.9 264.0,725.8 265.0,724.0 266.0,722.3 267.0,722.4 268.0,721.9 269.0,721.5 270.0,720.8 271.0,721.5 272.0,722.3 273.0,721.5 274.0,722.0 275.0,722.0 276.0,721.7 277.0,720.9 278.0,720.7 279.0,719.5 280.0,718.7 281.0,714.7 282.0,714.5 283.0,716.5 284.0,714.6 285.0,712.7 286.0,713.9 287.0,713.3 288.0,712.8 289.0,712.9 290.0,713.0 291.0,713.3 292.0,712.0 293.0,712.1 294.0,712.2 295.0,711.3 296.0,710.3 297.0,711.5 298.0,711.3 299.0,711.2 300.0,711.2 301.0,711.3 302.0,710.4 303.0,710.3 304.0,708.6 305.0,709.5 306.0,710.3 307.0,710.2 308.0,708.7 309.0,707.0 310.0,705.3 311.0,707.1 312.0,708.9 313.0,707.3 314.0,707.0 315.0,706.7 316.0,705.3 317.0,704.7 318.0,704.0 319.0,703.2 320.0,703.3 321.0,702.1 322.0,702.4 323.0,702.8 324.0,701.9 325.0,703.4 326.0,704.8 327.0,705.1 328.0,705.3 329.0,704.7 330.0,703.9 331.0,703.2 332.0,703.5 333.0,704.0 334.0,704.6 335.0,703.5 336.0,702.2 337.0,700.8 338.0,702.3 339.0,701.7 340.0,701.6 341.0,700.8 342.0,700.0 343.0,700.7 344.0,701.5 345.0,700.7 346.0,699.9 347.0,700.2 348.0,700.8 349.0,701.1 350.0,698.9 351.0,697.9 352.0,697.9 353.0,698.0 354.0,698.0 355.0,698.3 356.0,697.7 357.0,697.2 358.0,697.0 359.0,698.1 360.0,699.3 361.0,699.2 362.0,698.5 363.0,697.9 364.0,697.0 365.0,697.3 366.0,696.3 367.0,694.7 368.0,693.3 369.0,692.4 370.0,691.8 371.0,693.1 372.0,694.5 373.0,694.9 374.0,695.6 375.0,695.0 376.0,694.1 377.0,693.1 378.0,692.7 379.0,692.8 380.0,693.1 381.0,690.6 382.0,692.5 383.0,692.9 384.0,693.9 385.0,693.8 386.0,693.6 387.0,693.1 388.0,692.4 389.0,692.5 390.0,692.4 391.0,692.3 392.0,692.7 393.0,693.4 394.0,693.5 395.0,694.2 396.0,695.0 397.0,694.3 398.0,695.1 399.0,694.9 400.0,695.4 401.0,696.0 402.0,696.9 403.0,695.2 404.0,696.6 405.0,696.1 406.0,695.4 407.0,695.2 408.0,695.1 409.0,695.8 410.0,694.4 411.0,693.2 412.0,694.2 413.0,695.1 414.0,694.9 415.0,694.6 416.0,694.5 417.0,695.8 418.0,696.7 419.0,696.7 420.0,697.2 421.0,698.3 422.0,699.4 423.0,700.3 424.0,700.6 425.0,701.1 426.0,702.0 427.0,701.9 428.0,701.5 429.0,700.8 430.0,700.3 431.0,701.4 432.0,702.2 433.0,698.9 434.0,701.6 435.0,700.9 436.0,701.1 437.0,701.5 438.0,699.6 439.0,702.0 440.0,702.9 441.0,703.2 442.0,703.2 443.0,703.2 444.0,702.2 445.0,701.3 446.0,701.9 447.0,702.7 448.0,702.5 449.0,702.2 450.0,705.0 451.0,706.3 452.0,706.1 453.0,706.8 454.0,706.8 455.0,705.2 456.0,704.8 457.0,704.6 458.0,704.6 459.0,704.9 460.0,704.6 461.0,707.0 462.0,709.0 463.0,708.2 464.0,707.8 465.0,712.0 466.0,712.1 467.0,710.7 468.0,712.1 469.0,712.5 470.0,710.6 471.0,711.1 472.0,711.8 473.0,713.3 474.0,714.6 475.0,713.1 476.0,712.5 477.0,712.2 478.0,712.0 479.0,711.2 480.0,709.1 481.0,711.5 482.0,714.1 483.0,714.6 484.0,715.2 485.0,716.8 486.0,717.0 487.0,716.9 488.0,717.2 489.0,716.9 490.0,716.2 491.0,715.3 492.0,715.3 493.0,715.2 494.0,715.8 495.0,714.8 496.0,714.5 497.0,716.0 498.0,717.1 499.0,717.9 500.0,718.2 501.0,718.6 502.0,719.1 503.0,719.9 504.0,720.9 505.0,722.5 506.0,722.6 507.0,723.0 508.0,723.2 509.0,723.3 510.0,724.0 511.0,724.5 512.0,725.2 513.0,726.2 514.0,727.3 515.0,726.8 516.0,727.4 517.0,728.0 518.0,728.1 519.0,728.9 520.0,729.4 521.0,728.5 522.0,728.2 523.0,729.0 524.0,728.9 525.0,728.9 526.0,728.4 527.0,728.0 528.0,728.4 529.0,728.7 530.0,727.9 531.0,728.8 532.0,731.5 533.0,731.0 534.0,730.6 535.0,730.7 536.0,731.2 537.0,732.7 538.0,734.1 539.0,732.8 540.0,734.2 541.0,734.7 542.0,734.5 543.0,735.4 544.0,736.5 545.0,737.0 546.0,738.0 547.0,739.7 548.0,740.7 549.0,740.4 550.0,740.8 551.0,741.2 552.0,741.2 553.0,741.1 554.0,740.9 555.0,741.0 556.0,742.0 557.0,741.5 558.0,742.5"/>
<polyline fill="none" stroke="#cc7636" stroke-width="1" shape-rendering="crispEdges" points="156.0,754.4 157.0,753.8 158.0,753.6 159.0,753.7 160.0,754.1 161.0,753.8 162.0,753.9 163.0,753.9 164.0,753.4 165.0,753.7 166.0,754.0 167.0,753.4 168.0,752.7 169.0,752.9 170.0,752.5 171.0,752.0 172.0,749.6 173.0,752.1 174.0,751.3 175.0,750.7 176.0,750.6 177.0,750.5 178.0,750.5 179.0,750.6 180.0,749.3 181.0,750.9 182.0,751.2 183.0,750.3 184.0,749.5 185.0,750.2 186.0,749.1 187.0,747.9 188.0,748.5 189.0,748.6 190.0,748.4 191.0,748.0 192.0,747.9 193.0,747.9 194.0,747.2 195.0,746.6 196.0,746.2 197.0,747.0 198.0,746.3 199.0,745.2 200.0,744.7 201.0,744.8 202.0,745.0 203.0,745.3 204.0,744.3 205.0,743.8 206.0,743.3 207.0,743.4 208.0,743.5 209.0,742.9 210.0,742.1 211.0,742.5 212.0,742.4 213.0,742.4 214.0,742.3 215.0,742.6 216.0,742.3 217.0,741.2 218.0,740.6 219.0,738.4 220.0,738.6 221.0,737.9 222.0,737.6 223.0,737.4 224.0,736.8 225.0,736.1 226.0,737.0 227.0,735.5 228.0,736.0 229.0,736.5 230.0,735.9 231.0,735.1 232.0,734.7 233.0,734.7 234.0,734.3 235.0,734.4 236.0,734.3 237.0,734.0 238.0,733.3 239.0,729.4 240.0,731.1 241.0,732.8 242.0,730.7 243.0,730.6 244.0,731.1 245.0,729.5 246.0,728.7 247.0,727.8 248.0,727.5 249.0,728.3 250.0,729.1 251.0,727.5 252.0,727.2 253.0,727.8 254.0,727.9 255.0,726.8 256.0,727.3 257.0,725.3 258.0,723.9 259.0,725.0 260.0,725.5 261.0,726.5 262.0,726.0 263.0,725.5 264.0,723.5 265.0,721.1 266.0,720.8 267.0,721.3 268.0,721.5 269.0,721.9 270.0,721.6 271.0,721.5 272.0,721.7 273.0,721.0 274.0,721.0 275.0,721.0 276.0,721.0 277.0,721.1 278.0,719.7 279.0,716.9 280.0,715.2 281.0,713.4 282.0,715.1 283.0,714.8 284.0,712.0 285.0,712.1 286.0,712.2 287.0,712.3 288.0,712.7 289.0,712.8 290.0,712.3 291.0,712.8 292.0,712.9 293.0,712.1 294.0,711.7 295.0,712.0 296.0,711.5 297.0,710.7 298.0,710.5 299.0,710.4 300.0,710.3 301.0,710.0 302.0,708.1 303.0,707.0 304.0,708.1 305.0,709.2 306.0,708.5 307.0,707.8 308.0,707.9 309.0,708.9 310.0,707.6 311.0,707.3 312.0,707.0 313.0,706.6 314.0,707.4 315.0,706.5 316.0,704.3 317.0,704.1 318.0,703.9 319.0,703.2 320.0,702.8 321.0,702.4 322.0,701.7 323.0,701.1 324.0,701.5 325.0,703.2 326.0,703.0 327.0,701.8 328.0,705.6 329.0,704.7 330.0,703.7 331.0,702.8 332.0,702.8 333.0,703.6 334.0,703.4 335.0,702.8 336.0,701.2 337.0,702.2 338.0,702.5 339.0,702.1 340.0,701.6 341.0,699.7 342.0,698.6 343.0,700.7 344.0,701.0 345.0,699.7 346.0,699.6 347.0,699.6 348.0,699.3 349.0,698.9 350.0,699.1 351.0,697.4 352.0,697.0 353.0,697.2 354.0,697.0 355.0,697.4 356.0,697.4 357.0,697.6 358.0,697.2 359.0,697.3 360.0,697.3 361.0,697.5 362.0,698.2 363.0,697.5 364.0,696.5 365.0,696.5 366.0,696.1 367.0,694.3 368.0,692.7 369.0,692.6 370.0,692.8 371.0,693.4 372.0,694.0 373.0,693.7 374.0,693.7 375.0,693.7 376.0,693.8 377.0,693.3 378.0,692.8 379.0,692.4 380.0,692.4 381.0,692.4 382.0,692.2 383.0,691.9 384.0,693.1 385.0,693.1 386.0,694.1 387.0,692.4 388.0,691.2 389.0,692.2 390.0,692.3 391.0,692.6 392.0,692.4 393.0,693.3 394.0,694.3 395.0,692.1 396.0,693.1 397.0,694.2 398.0,694.3 399.0,695.1 400.0,695.2 401.0,694.2 402.0,696.6 403.0,695.4 404.0,695.4 405.0,695.2 406.0,694.8 407.0,694.5 408.0,696.4 409.0,695.8 410.0,694.3 411.0,693.5 412.0,693.7 413.0,693.9 414.0,694.5 415.0,694.6 416.0,692.8 417.0,696.1 418.0,695.4 419.0,695.6 420.0,696.2 421.0,698.1 422.0,697.7 423.0,697.5 424.0,699.0 425.0,700.4 426.0,701.1 427.0,700.9 428.0,701.1 429.0,701.2 430.0,701.6 431.0,701.4 432.0,700.8 433.0,700.6 434.0,700.5 435.0,701.4 436.0,701.1 437.0,700.9 438.0,700.6 439.0,701.2 440.0,701.7 441.0,701.9 442.0,702.0 443.0,701.4 444.0,698.7 445.0,700.1 446.0,701.9 447.0,701.9 448.0,703.2 449.0,700.6 450.0,703.5 451.0,706.3 452.0,706.4 453.0,707.0 454.0,706.3 455.0,705.4 456.0,705.2 457.0,705.2 458.0,704.7 459.0,704.6 460.0,704.8 461.0,706.7 462.0,707.7 463.0,708.9 464.0,710.1 465.0,711.2 466.0,711.5 467.0,711.1 468.0,711.9 469.0,711.7 470.0,711.6 471.0,712.5 472.0,712.5 473.0,712.4 474.0,713.6 475.0,712.0 476.0,712.3 477.0,711.8 478.0,711.3 479.0,712.0 480.0,711.0 481.0,711.2 482.0,711.6 483.0,712.4 484.0,713.2 485.0,715.1 486.0,716.8 487.0,716.8 488.0,716.3 489.0,716.0 490.0,715.1 491.0,714.6 492.0,714.6 493.0,714.7 494.0,714.2 495.0,714.4 496.0,715.4 497.0,715.7 498.0,714.6 499.0,715.9 500.0,716.5 501.0,718.3 502.0,719.7 503.0,721.2 504.0,720.4 505.0,721.0 506.0,722.0 507.0,722.9 508.0,722.9 509.0,724.2 510.0,723.1 511.0,724.1 512.0,724.2 513.0,725.0 514.0,726.1 515.0,724.5 516.0,728.6 517.0,728.2 518.0,727.8 519.0,728.6 520.0,728.7 521.0,727.9 522.0,727.2 523.0,726.0 524.0,725.0 525.0,727.6 526.0,727.8 527.0,727.9 528.0,726.6 529.0,725.3 530.0,725.3 531.0,726.9 532.0,730.9 533.0,730.3 534.0,730.8 535.0,730.9 536.0,730.0 537.0,732.1 538.0,732.5 539.0,732.4 540.0,734.3 541.0,733.9 542.0,734.0 543.0,735.0 544.0,736.0 545.0,736.5 546.0,736.7 547.0,737.6 548.0,739.5 549.0,740.1 550.0,740.6 551.0,741.0 552.0,741.1 553.0,740.9 554.0,740.5 555.0,740.5 556.0,740.0 557.0,741.0 558.0,741.5"/>
<g stroke="#000" stroke-width="1" fill="none" shape-rendering="crispEdges">
<line x1="155.5" y1="690.0" x2="155.5" y2="758.0"/>
<line x1="155.0" y1="757.5" x2="557.5" y2="757.5"/>
<line x1="155.5" y1="703.5" x2="162.0" y2="703.5"/>
<line x1="155.5" y1="723.5" x2="162.0" y2="723.5"/>
<line x1="155.5" y1="743.5" x2="162.0" y2="743.5"/>
<line x1="224.5" y1="757.5" x2="224.5" y2="751.5"/>
<line x1="324.5" y1="757.5" x2="324.5" y2="751.5"/>
<line x1="424.5" y1="757.5" x2="424.5" y2="751.5"/>
<line x1="523.5" y1="757.5" x2="523.5" y2="751.5"/>
</g>
<g fill="#000" font-size="26">
<text transform="translate(355.0,669.9) scale(0.920,1)" text-anchor="middle">Bin 7</text>
<text transform="translate(224.5,792.9) scale(0.900,1)" text-anchor="middle">2350</text>
<text transform="translate(324.5,792.9) scale(0.900,1)" text-anchor="middle">2355</text>
<text transform="translate(424.5,792.9) scale(0.900,1)" text-anchor="middle">2360</text>
<text transform="translate(523.5,792.9) scale(0.900,1)" text-anchor="middle">2365</text>
<text transform="translate(148.5,715.2) scale(0.900,1)" text-anchor="end">15</text>
<text transform="translate(148.5,735.2) scale(0.900,1)" text-anchor="end">10</text>
<text transform="translate(148.5,755.2) scale(0.900,1)" text-anchor="end">5</text>
<text transform="translate(354.5,830.7) scale(0.940,1)" text-anchor="middle">Wavenumber [cm<tspan font-size="17.5" dy="-11.8">-1</tspan><tspan dy="11.8">]</tspan></text>
<text transform="translate(108.5,724.9) rotate(-90) scale(0.940,1)" text-anchor="middle">ADU</text>
</g>
<g stroke="#000" stroke-width="1" stroke-dasharray="1 4" fill="none" shape-rendering="crispEdges"><line x1="684.0" y1="694.5" x2="1085.5" y2="694.5"/><line x1="684.0" y1="718.5" x2="1085.5" y2="718.5"/><line x1="684.0" y1="741.5" x2="1085.5" y2="741.5"/><line x1="752.5" y1="690.0" x2="752.5" y2="757.0"/><line x1="852.5" y1="690.0" x2="852.5" y2="757.0"/><line x1="952.5" y1="690.0" x2="952.5" y2="757.0"/><line x1="1051.5" y1="690.0" x2="1051.5" y2="757.0"/></g>
<polyline fill="none" stroke="#10308c" stroke-width="1" shape-rendering="crispEdges" points="684.0,755.2 685.0,755.9 686.0,756.3 687.0,756.7 688.0,757.5 689.0,756.3 690.0,757.1 691.0,756.6 692.0,756.1 693.0,756.1 694.0,756.6 695.0,756.5 696.0,756.0 697.0,755.9 698.0,756.1 699.0,754.6 700.0,754.7 701.0,754.8 702.0,753.6 703.0,754.0 704.0,754.4 705.0,753.5 706.0,753.5 707.0,754.1 708.0,754.7 709.0,753.7 710.0,753.0 711.0,753.4 712.0,753.8 713.0,752.7 714.0,752.3 715.0,751.8 716.0,751.4 717.0,752.1 718.0,751.0 719.0,749.0 720.0,749.2 721.0,749.4 722.0,749.5 723.0,749.8 724.0,748.3 725.0,747.8 726.0,747.4 727.0,748.3 728.0,748.5 729.0,749.8 730.0,749.5 731.0,749.2 732.0,749.0 733.0,748.4 734.0,748.0 735.0,748.1 736.0,747.0 737.0,747.1 738.0,746.4 739.0,746.6 740.0,746.6 741.0,746.5 742.0,746.9 743.0,746.8 744.0,745.7 745.0,744.9 746.0,740.7 747.0,744.3 748.0,744.0 749.0,744.2 750.0,743.6 751.0,743.6 752.0,743.7 753.0,742.8 754.0,742.4 755.0,741.9 756.0,740.9 757.0,739.8 758.0,738.6 759.0,739.5 760.0,738.4 761.0,738.2 762.0,737.1 763.0,735.9 764.0,735.3 765.0,734.8 766.0,735.3 767.0,736.2 768.0,734.8 769.0,733.6 770.0,734.5 771.0,735.2 772.0,735.9 773.0,735.4 774.0,734.7 775.0,734.0 776.0,733.2 777.0,732.4 778.0,731.7 779.0,731.0 780.0,731.0 781.0,730.7 782.0,731.0 783.0,731.5 784.0,729.9 785.0,729.3 786.0,730.0 787.0,730.6 788.0,731.0 789.0,731.0 790.0,730.6 791.0,729.8 792.0,729.1 793.0,728.7 794.0,727.0 795.0,725.2 796.0,725.4 797.0,725.6 798.0,725.5 799.0,725.7 800.0,724.6 801.0,723.5 802.0,724.1 803.0,722.8 804.0,723.4 805.0,723.9 806.0,724.0 807.0,722.7 808.0,722.7 809.0,722.5 810.0,722.1 811.0,721.6 812.0,721.0 813.0,719.6 814.0,719.7 815.0,718.9 816.0,718.2 817.0,717.2 818.0,716.2 819.0,715.2 820.0,715.3 821.0,715.5 822.0,714.4 823.0,713.3 824.0,713.4 825.0,713.9 826.0,713.5 827.0,712.6 828.0,714.6 829.0,713.5 830.0,712.3 831.0,711.9 832.0,711.4 833.0,711.3 834.0,711.0 835.0,710.7 836.0,710.9 837.0,710.0 838.0,710.1 839.0,709.6 840.0,708.7 841.0,709.9 842.0,710.2 843.0,709.1 844.0,707.9 845.0,707.9 846.0,707.5 847.0,707.3 848.0,707.1 849.0,705.7 850.0,704.7 851.0,703.7 852.0,704.7 853.0,705.0 854.0,705.5 855.0,707.0 856.0,705.0 857.0,704.5 858.0,704.1 859.0,703.6 860.0,704.6 861.0,705.9 862.0,706.1 863.0,706.8 864.0,706.6 865.0,705.3 866.0,704.0 867.0,705.2 868.0,706.1 869.0,706.1 870.0,706.0 871.0,705.4 872.0,704.8 873.0,704.1 874.0,703.4 875.0,703.8 876.0,704.2 877.0,703.9 878.0,703.8 879.0,702.5 880.0,702.7 881.0,702.3 882.0,701.3 883.0,699.4 884.0,698.6 885.0,698.0 886.0,697.1 887.0,696.0 888.0,696.4 889.0,695.5 890.0,693.9 891.0,696.5 892.0,696.8 893.0,697.1 894.0,697.1 895.0,695.9 896.0,695.9 897.0,695.9 898.0,693.3 899.0,694.8 900.0,695.5 901.0,695.6 902.0,695.8 903.0,695.7 904.0,695.9 905.0,696.1 906.0,697.4 907.0,697.0 908.0,696.8 909.0,696.5 910.0,696.3 911.0,696.1 912.0,697.1 913.0,696.8 914.0,696.6 915.0,695.6 916.0,697.0 917.0,696.0 918.0,696.1 919.0,697.6 920.0,698.9 921.0,699.2 922.0,699.1 923.0,699.5 924.0,699.6 925.0,699.6 926.0,701.0 927.0,700.6 928.0,700.3 929.0,700.1 930.0,699.9 931.0,699.7 932.0,699.4 933.0,700.4 934.0,700.3 935.0,700.5 936.0,699.9 937.0,699.3 938.0,698.3 939.0,698.3 940.0,697.9 941.0,697.2 942.0,697.6 943.0,697.3 944.0,696.9 945.0,697.9 946.0,698.0 947.0,698.2 948.0,697.4 949.0,698.6 950.0,699.9 951.0,702.0 952.0,702.4 953.0,703.2 954.0,703.5 955.0,703.4 956.0,705.9 957.0,704.8 958.0,703.6 959.0,703.4 960.0,704.3 961.0,704.7 962.0,704.9 963.0,705.0 964.0,705.2 965.0,704.5 966.0,705.2 967.0,706.9 968.0,705.7 969.0,705.3 970.0,705.2 971.0,705.2 972.0,705.1 973.0,705.0 974.0,705.2 975.0,704.4 976.0,704.1 977.0,704.0 978.0,703.8 979.0,705.8 980.0,707.0 981.0,709.3 982.0,709.2 983.0,708.1 984.0,707.8 985.0,708.6 986.0,709.2 987.0,709.9 988.0,709.2 989.0,709.7 990.0,710.5 991.0,710.6 992.0,711.6 993.0,712.8 994.0,713.9 995.0,714.1 996.0,714.1 997.0,715.3 998.0,716.4 999.0,715.1 1000.0,715.0 1001.0,714.9 1002.0,716.2 1003.0,715.7 1004.0,714.8 1005.0,716.0 1006.0,717.2 1007.0,715.1 1008.0,716.2 1009.0,716.6 1010.0,717.1 1011.0,717.8 1012.0,718.2 1013.0,718.1 1014.0,718.5 1015.0,718.8 1016.0,720.5 1017.0,722.3 1018.0,720.9 1019.0,720.0 1020.0,722.4 1021.0,721.0 1022.0,719.7 1023.0,719.7 1024.0,720.0 1025.0,721.2 1026.0,721.6 1027.0,721.8 1028.0,721.6 1029.0,721.4 1030.0,722.3 1031.0,723.4 1032.0,723.9 1033.0,725.5 1034.0,725.5 1035.0,724.4 1036.0,725.7 1037.0,726.9 1038.0,726.8 1039.0,727.0 1040.0,728.6 1041.0,730.1 1042.0,729.6 1043.0,729.5 1044.0,730.1 1045.0,729.9 1046.0,729.2 1047.0,728.6 1048.0,728.6 1049.0,729.5 1050.0,730.6 1051.0,730.9 1052.0,730.9 1053.0,731.4 1054.0,731.3 1055.0,731.4 1056.0,731.0 1057.0,731.7 1058.0,731.9 1059.0,731.5 1060.0,732.2 1061.0,732.9 1062.0,733.2 1063.0,732.9 1064.0,733.2 1065.0,734.2 1066.0,734.1 1067.0,734.5 1068.0,735.6 1069.0,736.3 1070.0,736.3 1071.0,736.4 1072.0,736.5 1073.0,737.6 1074.0,738.6 1075.0,738.6 1076.0,739.4 1077.0,742.4 1078.0,743.5 1079.0,743.5 1080.0,744.0 1081.0,743.9 1082.0,744.3 1083.0,744.5 1084.0,744.2 1085.0,743.7 1086.0,744.0"/>
<polyline fill="none" stroke="#3aa8e0" stroke-width="1" shape-rendering="crispEdges" points="684.0,756.0 685.0,756.0 686.0,756.0 687.0,756.6 688.0,755.7 689.0,755.0 690.0,755.9 691.0,755.8 692.0,755.8 693.0,755.8 694.0,755.7 695.0,755.5 696.0,756.6 697.0,755.2 698.0,754.1 699.0,753.7 700.0,753.6 701.0,753.2 702.0,752.9 703.0,752.9 704.0,753.2 705.0,752.6 706.0,753.0 707.0,752.8 708.0,752.9 709.0,752.8 710.0,753.2 711.0,753.0 712.0,752.3 713.0,753.0 714.0,751.7 715.0,751.7 716.0,751.2 717.0,750.8 718.0,750.4 719.0,749.0 720.0,749.5 721.0,748.5 722.0,748.1 723.0,748.0 724.0,747.8 725.0,747.4 726.0,747.8 727.0,748.2 728.0,747.6 729.0,748.6 730.0,748.5 731.0,748.9 732.0,749.3 733.0,748.1 734.0,746.8 735.0,747.4 736.0,746.8 737.0,746.7 738.0,747.0 739.0,746.6 740.0,745.9 741.0,744.4 742.0,746.8 743.0,746.6 744.0,745.4 745.0,744.3 746.0,740.0 747.0,743.4 748.0,742.6 749.0,741.6 750.0,742.5 751.0,742.4 752.0,742.9 753.0,742.5 754.0,741.5 755.0,741.3 756.0,741.0 757.0,739.6 758.0,738.2 759.0,737.9 760.0,737.5 761.0,737.3 762.0,737.0 763.0,736.8 764.0,735.7 765.0,734.4 766.0,734.8 767.0,733.6 768.0,732.5 769.0,733.8 770.0,735.4 771.0,735.7 772.0,735.9 773.0,734.3 774.0,733.7 775.0,733.3 776.0,733.1 777.0,732.5 778.0,731.1 779.0,729.8 780.0,729.8 781.0,730.0 782.0,729.9 783.0,729.9 784.0,729.6 785.0,729.0 786.0,729.6 787.0,730.8 788.0,731.7 789.0,732.0 790.0,731.1 791.0,729.8 792.0,728.8 793.0,727.7 794.0,727.5 795.0,725.6 796.0,724.9 797.0,724.6 798.0,723.9 799.0,723.8 800.0,723.3 801.0,723.3 802.0,722.9 803.0,723.2 804.0,724.1 805.0,723.6 806.0,723.0 807.0,723.8 808.0,723.0 809.0,722.1 810.0,721.7 811.0,721.3 812.0,720.7 813.0,720.1 814.0,718.3 815.0,718.2 816.0,717.5 817.0,716.7 818.0,715.8 819.0,714.7 820.0,714.6 821.0,714.6 822.0,713.6 823.0,711.7 824.0,712.4 825.0,713.4 826.0,714.0 827.0,712.5 828.0,711.8 829.0,711.1 830.0,711.1 831.0,710.8 832.0,710.5 833.0,710.6 834.0,709.7 835.0,710.7 836.0,710.4 837.0,710.2 838.0,709.7 839.0,709.5 840.0,709.2 841.0,709.7 842.0,709.2 843.0,707.7 844.0,706.2 845.0,706.9 846.0,706.5 847.0,706.5 848.0,706.7 849.0,705.4 850.0,704.1 851.0,702.5 852.0,702.9 853.0,703.9 854.0,705.0 855.0,705.0 856.0,705.0 857.0,703.9 858.0,704.3 859.0,703.5 860.0,704.5 861.0,705.2 862.0,705.6 863.0,705.8 864.0,705.3 865.0,705.2 866.0,705.1 867.0,705.0 868.0,704.5 869.0,704.2 870.0,704.1 871.0,704.4 872.0,704.4 873.0,703.5 874.0,703.0 875.0,702.9 876.0,703.1 877.0,703.3 878.0,702.9 879.0,702.4 880.0,702.1 881.0,701.3 882.0,700.0 883.0,698.3 884.0,697.0 885.0,695.9 886.0,695.6 887.0,695.1 888.0,695.2 889.0,695.0 890.0,694.0 891.0,695.9 892.0,696.7 893.0,696.7 894.0,696.5 895.0,695.5 896.0,695.4 897.0,695.5 898.0,692.4 899.0,694.4 900.0,695.1 901.0,695.1 902.0,695.2 903.0,695.1 904.0,694.8 905.0,694.5 906.0,696.5 907.0,696.8 908.0,696.3 909.0,694.4 910.0,695.4 911.0,694.9 912.0,694.6 913.0,694.6 914.0,694.8 915.0,694.7 916.0,694.8 917.0,694.4 918.0,695.8 919.0,697.2 920.0,698.5 921.0,698.7 922.0,698.8 923.0,698.3 924.0,697.5 925.0,698.4 926.0,699.3 927.0,699.1 928.0,698.9 929.0,698.8 930.0,699.6 931.0,699.1 932.0,698.5 933.0,700.6 934.0,700.0 935.0,700.0 936.0,699.2 937.0,699.0 938.0,698.2 939.0,697.3 940.0,697.5 941.0,696.7 942.0,696.8 943.0,696.9 944.0,697.0 945.0,696.9 946.0,696.7 947.0,698.1 948.0,698.5 949.0,699.3 950.0,700.1 951.0,700.9 952.0,701.5 953.0,702.7 954.0,703.3 955.0,703.2 956.0,703.6 957.0,703.2 958.0,702.9 959.0,703.4 960.0,703.5 961.0,703.8 962.0,704.0 963.0,704.9 964.0,704.3 965.0,703.8 966.0,704.7 967.0,704.7 968.0,704.6 969.0,704.5 970.0,704.2 971.0,704.2 972.0,704.0 973.0,703.9 974.0,704.5 975.0,703.8 976.0,703.5 977.0,703.5 978.0,703.5 979.0,704.8 980.0,706.3 981.0,707.7 982.0,708.9 983.0,707.9 984.0,707.5 985.0,708.3 986.0,708.0 987.0,708.7 988.0,708.6 989.0,709.0 990.0,709.7 991.0,710.2 992.0,710.7 993.0,712.2 994.0,713.6 995.0,713.0 996.0,713.2 997.0,714.5 998.0,715.4 999.0,714.3 1000.0,713.6 1001.0,714.0 1002.0,714.4 1003.0,715.2 1004.0,714.9 1005.0,715.0 1006.0,715.2 1007.0,715.3 1008.0,715.5 1009.0,715.5 1010.0,715.9 1011.0,716.5 1012.0,717.3 1013.0,717.5 1014.0,718.4 1015.0,719.3 1016.0,719.2 1017.0,719.6 1018.0,719.6 1019.0,720.0 1020.0,719.7 1021.0,720.0 1022.0,720.2 1023.0,720.7 1024.0,719.9 1025.0,720.5 1026.0,720.7 1027.0,720.5 1028.0,720.4 1029.0,722.0 1030.0,722.0 1031.0,722.4 1032.0,722.5 1033.0,724.9 1034.0,725.1 1035.0,724.9 1036.0,725.1 1037.0,725.7 1038.0,726.3 1039.0,727.0 1040.0,727.4 1041.0,728.0 1042.0,728.6 1043.0,728.4 1044.0,729.7 1045.0,729.3 1046.0,728.7 1047.0,728.3 1048.0,728.2 1049.0,728.9 1050.0,730.0 1051.0,731.0 1052.0,730.1 1053.0,731.1 1054.0,731.1 1055.0,731.2 1056.0,731.0 1057.0,730.9 1058.0,731.6 1059.0,731.4 1060.0,732.2 1061.0,733.5 1062.0,732.0 1063.0,732.2 1064.0,733.2 1065.0,733.7 1066.0,734.4 1067.0,735.0 1068.0,735.5 1069.0,736.3 1070.0,736.2 1071.0,735.8 1072.0,736.2 1073.0,737.2 1074.0,738.4 1075.0,738.7 1076.0,739.5 1077.0,741.7 1078.0,742.1 1079.0,743.3 1080.0,743.4 1081.0,743.4 1082.0,743.5 1083.0,743.4 1084.0,743.6 1085.0,742.7 1086.0,743.9"/>
<polyline fill="none" stroke="#7cc04c" stroke-width="1" shape-rendering="crispEdges" points="684.0,755.0 685.0,755.2 686.0,755.4 687.0,756.0 688.0,755.3 689.0,754.3 690.0,755.6 691.0,754.3 692.0,754.7 693.0,755.1 694.0,755.1 695.0,755.1 696.0,754.6 697.0,754.0 698.0,753.0 699.0,752.8 700.0,752.5 701.0,753.2 702.0,752.5 703.0,752.5 704.0,752.5 705.0,751.4 706.0,751.1 707.0,751.7 708.0,752.3 709.0,752.7 710.0,751.9 711.0,751.1 712.0,750.8 713.0,750.8 714.0,751.2 715.0,750.3 716.0,750.5 717.0,750.5 718.0,750.5 719.0,748.9 720.0,748.6 721.0,748.5 722.0,748.1 723.0,747.7 724.0,747.4 725.0,747.3 726.0,746.7 727.0,745.8 728.0,745.0 729.0,746.6 730.0,747.0 731.0,747.4 732.0,748.6 733.0,747.4 734.0,746.1 735.0,746.3 736.0,746.5 737.0,746.6 738.0,746.5 739.0,746.4 740.0,745.1 741.0,745.3 742.0,744.9 743.0,745.0 744.0,744.1 745.0,743.3 746.0,739.2 747.0,742.6 748.0,742.5 749.0,742.3 750.0,741.6 751.0,742.4 752.0,743.4 753.0,742.4 754.0,741.6 755.0,740.7 756.0,740.2 757.0,739.7 758.0,738.4 759.0,737.6 760.0,736.9 761.0,736.7 762.0,736.3 763.0,735.8 764.0,734.9 765.0,734.0 766.0,734.1 767.0,732.3 768.0,732.7 769.0,733.3 770.0,734.1 771.0,734.9 772.0,733.7 773.0,735.1 774.0,733.1 775.0,732.1 776.0,731.0 777.0,730.4 778.0,729.9 779.0,729.3 780.0,729.6 781.0,729.3 782.0,730.2 783.0,727.7 784.0,728.0 785.0,728.1 786.0,729.5 787.0,729.6 788.0,729.5 789.0,729.6 790.0,729.6 791.0,728.9 792.0,728.0 793.0,726.9 794.0,725.4 795.0,723.9 796.0,724.0 797.0,723.9 798.0,723.4 799.0,722.9 800.0,722.8 801.0,722.9 802.0,722.7 803.0,722.0 804.0,721.9 805.0,721.4 806.0,722.1 807.0,719.9 808.0,718.9 809.0,721.5 810.0,719.4 811.0,720.1 812.0,719.8 813.0,719.6 814.0,718.1 815.0,717.2 816.0,716.4 817.0,715.7 818.0,715.0 819.0,714.5 820.0,714.4 821.0,714.4 822.0,712.4 823.0,711.1 824.0,710.9 825.0,710.7 826.0,711.4 827.0,712.0 828.0,711.6 829.0,711.1 830.0,711.1 831.0,710.7 832.0,709.8 833.0,709.3 834.0,709.2 835.0,709.1 836.0,710.0 837.0,709.6 838.0,709.1 839.0,708.4 840.0,707.7 841.0,708.8 842.0,708.9 843.0,707.7 844.0,706.4 845.0,707.9 846.0,706.5 847.0,706.0 848.0,706.9 849.0,705.2 850.0,703.6 851.0,702.2 852.0,702.6 853.0,703.9 854.0,705.2 855.0,704.7 856.0,704.3 857.0,703.8 858.0,704.3 859.0,702.3 860.0,701.7 861.0,705.4 862.0,705.3 863.0,705.1 864.0,704.1 865.0,704.1 866.0,704.7 867.0,705.4 868.0,704.6 869.0,703.7 870.0,703.2 871.0,703.2 872.0,703.8 873.0,703.7 874.0,702.6 875.0,702.1 876.0,702.5 877.0,702.9 878.0,701.7 879.0,702.2 880.0,702.5 881.0,700.7 882.0,698.9 883.0,697.5 884.0,697.1 885.0,696.1 886.0,695.5 887.0,694.3 888.0,694.2 889.0,693.8 890.0,693.4 891.0,695.1 892.0,695.6 893.0,695.6 894.0,695.4 895.0,694.8 896.0,695.1 897.0,694.4 898.0,691.5 899.0,693.4 900.0,693.5 901.0,695.2 902.0,695.2 903.0,694.3 904.0,694.3 905.0,694.5 906.0,696.0 907.0,695.0 908.0,693.8 909.0,693.1 910.0,694.2 911.0,693.2 912.0,693.8 913.0,693.6 914.0,694.8 915.0,694.2 916.0,693.8 917.0,694.0 918.0,695.5 919.0,696.5 920.0,697.4 921.0,698.1 922.0,698.7 923.0,698.9 924.0,698.7 925.0,698.3 926.0,698.8 927.0,699.5 928.0,698.4 929.0,699.4 930.0,699.3 931.0,698.8 932.0,697.9 933.0,700.0 934.0,700.8 935.0,699.1 936.0,696.8 937.0,698.4 938.0,697.6 939.0,696.9 940.0,696.8 941.0,696.6 942.0,696.1 943.0,696.5 944.0,697.1 945.0,696.8 946.0,696.6 947.0,696.7 948.0,696.8 949.0,697.5 950.0,699.1 951.0,700.8 952.0,701.1 953.0,701.8 954.0,702.9 955.0,703.6 956.0,703.8 957.0,703.2 958.0,702.9 959.0,702.6 960.0,702.2 961.0,703.0 962.0,703.5 963.0,703.7 964.0,703.9 965.0,703.3 966.0,703.7 967.0,704.0 968.0,704.6 969.0,704.7 970.0,704.4 971.0,703.5 972.0,703.9 973.0,704.2 974.0,704.0 975.0,703.7 976.0,703.5 977.0,702.6 978.0,702.8 979.0,704.4 980.0,706.8 981.0,707.3 982.0,707.6 983.0,707.5 984.0,707.1 985.0,707.6 986.0,708.0 987.0,707.7 988.0,708.1 989.0,708.6 990.0,708.8 991.0,709.4 992.0,709.9 993.0,712.1 994.0,712.7 995.0,712.4 996.0,711.8 997.0,713.3 998.0,714.7 999.0,712.9 1000.0,712.7 1001.0,712.4 1002.0,714.9 1003.0,714.0 1004.0,715.0 1005.0,714.2 1006.0,714.2 1007.0,714.3 1008.0,714.7 1009.0,715.4 1010.0,715.5 1011.0,714.8 1012.0,716.8 1013.0,717.3 1014.0,717.4 1015.0,717.1 1016.0,717.8 1017.0,718.5 1018.0,718.3 1019.0,718.3 1020.0,718.8 1021.0,718.9 1022.0,719.1 1023.0,719.4 1024.0,718.8 1025.0,719.1 1026.0,719.4 1027.0,720.2 1028.0,721.0 1029.0,720.9 1030.0,720.7 1031.0,721.1 1032.0,721.4 1033.0,723.5 1034.0,723.7 1035.0,724.0 1036.0,725.2 1037.0,725.1 1038.0,725.0 1039.0,726.2 1040.0,726.4 1041.0,726.6 1042.0,727.5 1043.0,728.5 1044.0,728.6 1045.0,727.7 1046.0,728.3 1047.0,728.1 1048.0,728.5 1049.0,728.9 1050.0,729.3 1051.0,729.8 1052.0,729.8 1053.0,730.5 1054.0,730.7 1055.0,730.9 1056.0,730.2 1057.0,730.2 1058.0,730.4 1059.0,730.2 1060.0,730.8 1061.0,731.5 1062.0,731.1 1063.0,732.5 1064.0,731.7 1065.0,732.6 1066.0,733.5 1067.0,734.2 1068.0,735.2 1069.0,735.4 1070.0,735.0 1071.0,735.0 1072.0,735.6 1073.0,736.9 1074.0,738.3 1075.0,738.8 1076.0,739.2 1077.0,740.6 1078.0,741.3 1079.0,741.8 1080.0,741.9 1081.0,742.7 1082.0,743.6 1083.0,743.8 1084.0,743.5 1085.0,742.7 1086.0,742.2"/>
<polyline fill="none" stroke="#e8c030" stroke-width="1" shape-rendering="crispEdges" points="684.0,753.5 685.0,754.1 686.0,754.6 687.0,755.2 688.0,754.4 689.0,752.6 690.0,752.9 691.0,753.8 692.0,754.2 693.0,754.1 694.0,754.4 695.0,754.7 696.0,754.4 697.0,754.1 698.0,752.2 699.0,752.1 700.0,751.9 701.0,752.9 702.0,752.5 703.0,752.4 704.0,752.4 705.0,751.0 706.0,750.7 707.0,750.5 708.0,752.0 709.0,752.0 710.0,752.4 711.0,752.3 712.0,751.7 713.0,751.1 714.0,751.5 715.0,750.2 716.0,749.7 717.0,749.1 718.0,749.2 719.0,748.2 720.0,747.7 721.0,747.1 722.0,746.7 723.0,746.4 724.0,746.8 725.0,746.3 726.0,745.9 727.0,745.8 728.0,745.8 729.0,746.8 730.0,746.9 731.0,747.1 732.0,746.9 733.0,746.3 734.0,745.7 735.0,747.1 736.0,746.5 737.0,745.9 738.0,744.6 739.0,745.0 740.0,745.2 741.0,745.1 742.0,742.8 743.0,744.0 744.0,744.1 745.0,742.5 746.0,738.8 747.0,742.4 748.0,742.1 749.0,742.0 750.0,741.9 751.0,741.1 752.0,741.8 753.0,741.5 754.0,741.0 755.0,740.5 756.0,740.3 757.0,739.2 758.0,737.7 759.0,736.7 760.0,737.2 761.0,736.3 762.0,735.4 763.0,734.6 764.0,733.6 765.0,733.0 766.0,732.4 767.0,732.0 768.0,732.4 769.0,732.3 770.0,732.6 771.0,733.5 772.0,733.8 773.0,733.0 774.0,732.3 775.0,731.8 776.0,731.2 777.0,730.5 778.0,730.1 779.0,729.7 780.0,728.6 781.0,729.2 782.0,728.6 783.0,728.7 784.0,728.3 785.0,725.4 786.0,729.3 787.0,728.6 788.0,729.0 789.0,728.9 790.0,729.1 791.0,728.9 792.0,726.7 793.0,725.8 794.0,724.5 795.0,723.7 796.0,724.0 797.0,723.0 798.0,721.6 799.0,721.9 800.0,722.5 801.0,721.9 802.0,721.4 803.0,721.0 804.0,721.1 805.0,721.8 806.0,722.3 807.0,720.7 808.0,720.6 809.0,720.5 810.0,720.1 811.0,719.4 812.0,717.8 813.0,716.2 814.0,717.8 815.0,717.3 816.0,716.7 817.0,715.7 818.0,714.7 819.0,713.8 820.0,713.4 821.0,713.1 822.0,711.9 823.0,710.7 824.0,710.5 825.0,710.3 826.0,711.4 827.0,710.9 828.0,710.3 829.0,710.4 830.0,710.5 831.0,710.1 832.0,709.7 833.0,710.0 834.0,708.5 835.0,709.2 836.0,709.1 837.0,709.5 838.0,709.1 839.0,708.0 840.0,707.9 841.0,708.9 842.0,707.9 843.0,706.3 844.0,706.3 845.0,706.1 846.0,705.6 847.0,705.5 848.0,704.7 849.0,702.6 850.0,702.8 851.0,701.8 852.0,702.6 853.0,703.5 854.0,704.0 855.0,703.3 856.0,703.6 857.0,702.3 858.0,701.1 859.0,701.4 860.0,703.2 861.0,703.1 862.0,702.0 863.0,702.0 864.0,701.3 865.0,702.3 866.0,703.4 867.0,703.0 868.0,703.9 869.0,703.6 870.0,702.7 871.0,702.2 872.0,703.1 873.0,703.3 874.0,702.6 875.0,702.5 876.0,701.8 877.0,701.8 878.0,702.0 879.0,701.9 880.0,701.4 881.0,700.5 882.0,699.6 883.0,697.8 884.0,696.7 885.0,695.6 886.0,695.3 887.0,694.6 888.0,694.4 889.0,694.4 890.0,692.5 891.0,694.5 892.0,694.9 893.0,695.1 894.0,695.9 895.0,694.5 896.0,694.6 897.0,694.8 898.0,692.5 899.0,693.7 900.0,693.2 901.0,694.6 902.0,694.4 903.0,692.0 904.0,693.3 905.0,694.5 906.0,695.9 907.0,695.8 908.0,694.9 909.0,693.9 910.0,694.4 911.0,694.2 912.0,694.2 913.0,693.9 914.0,694.0 915.0,693.4 916.0,693.7 917.0,694.2 918.0,695.0 919.0,695.8 920.0,696.8 921.0,696.8 922.0,695.3 923.0,696.7 924.0,697.6 925.0,697.6 926.0,697.5 927.0,698.3 928.0,699.2 929.0,698.5 930.0,697.9 931.0,696.9 932.0,695.9 933.0,698.5 934.0,699.7 935.0,698.5 936.0,697.9 937.0,697.5 938.0,696.4 939.0,696.0 940.0,695.8 941.0,695.0 942.0,695.2 943.0,696.1 944.0,696.5 945.0,696.2 946.0,695.8 947.0,696.2 948.0,696.8 949.0,697.8 950.0,698.6 951.0,699.4 952.0,699.8 953.0,700.7 954.0,701.3 955.0,702.4 956.0,702.7 957.0,702.3 958.0,701.8 959.0,702.0 960.0,703.5 961.0,702.6 962.0,703.2 963.0,703.8 964.0,703.8 965.0,702.6 966.0,703.2 967.0,703.7 968.0,703.9 969.0,703.8 970.0,703.6 971.0,704.0 972.0,703.1 973.0,703.2 974.0,704.0 975.0,703.0 976.0,702.2 977.0,701.9 978.0,702.0 979.0,703.5 980.0,705.5 981.0,706.8 982.0,706.9 983.0,706.3 984.0,706.2 985.0,706.6 986.0,707.7 987.0,708.8 988.0,708.1 989.0,707.5 990.0,708.5 991.0,708.8 992.0,709.2 993.0,711.0 994.0,712.7 995.0,711.4 996.0,710.0 997.0,713.4 998.0,714.9 999.0,713.6 1000.0,713.3 1001.0,713.4 1002.0,713.2 1003.0,713.5 1004.0,713.7 1005.0,713.7 1006.0,713.0 1007.0,712.3 1008.0,714.8 1009.0,714.9 1010.0,715.3 1011.0,715.9 1012.0,715.4 1013.0,715.9 1014.0,716.1 1015.0,716.6 1016.0,717.5 1017.0,718.1 1018.0,718.3 1019.0,718.6 1020.0,719.0 1021.0,718.5 1022.0,718.0 1023.0,718.0 1024.0,719.6 1025.0,719.9 1026.0,720.2 1027.0,719.1 1028.0,719.6 1029.0,720.1 1030.0,721.0 1031.0,722.4 1032.0,722.6 1033.0,723.8 1034.0,723.6 1035.0,723.9 1036.0,724.6 1037.0,724.4 1038.0,724.2 1039.0,725.4 1040.0,726.8 1041.0,726.2 1042.0,726.7 1043.0,727.7 1044.0,728.7 1045.0,728.2 1046.0,727.7 1047.0,728.1 1048.0,727.2 1049.0,727.1 1050.0,728.6 1051.0,728.4 1052.0,727.6 1053.0,728.0 1054.0,727.8 1055.0,730.7 1056.0,730.0 1057.0,730.7 1058.0,731.4 1059.0,729.9 1060.0,729.4 1061.0,729.0 1062.0,731.2 1063.0,731.5 1064.0,731.9 1065.0,729.9 1066.0,732.2 1067.0,733.0 1068.0,733.8 1069.0,734.6 1070.0,734.7 1071.0,735.3 1072.0,735.9 1073.0,737.0 1074.0,738.1 1075.0,738.0 1076.0,737.8 1077.0,740.7 1078.0,742.0 1079.0,741.7 1080.0,742.4 1081.0,742.4 1082.0,742.4 1083.0,742.6 1084.0,742.5 1085.0,741.8 1086.0,742.1"/>
<polyline fill="none" stroke="#cc7636" stroke-width="1" shape-rendering="crispEdges" points="684.0,753.4 685.0,754.1 686.0,754.5 687.0,754.9 688.0,754.1 689.0,753.3 690.0,754.2 691.0,753.5 692.0,754.4 693.0,753.7 694.0,753.8 695.0,754.3 696.0,753.8 697.0,753.2 698.0,751.1 699.0,749.0 700.0,751.9 701.0,751.9 702.0,752.5 703.0,751.9 704.0,751.4 705.0,750.9 706.0,751.3 707.0,751.4 708.0,751.4 709.0,751.1 710.0,751.0 711.0,750.9 712.0,750.3 713.0,750.3 714.0,750.4 715.0,750.4 716.0,748.4 717.0,748.4 718.0,749.7 719.0,747.6 720.0,746.9 721.0,746.8 722.0,746.3 723.0,745.6 724.0,745.0 725.0,744.2 726.0,743.5 727.0,746.0 728.0,745.7 729.0,746.4 730.0,746.3 731.0,746.3 732.0,747.2 733.0,746.6 734.0,745.9 735.0,746.2 736.0,745.5 737.0,745.0 738.0,744.8 739.0,744.6 740.0,743.5 741.0,744.4 742.0,741.2 743.0,743.7 744.0,740.9 745.0,741.6 746.0,737.6 747.0,741.4 748.0,741.5 749.0,741.4 750.0,741.4 751.0,742.0 752.0,741.2 753.0,737.8 754.0,740.1 755.0,739.2 756.0,738.2 757.0,737.5 758.0,736.7 759.0,736.2 760.0,735.6 761.0,735.3 762.0,734.9 763.0,734.4 764.0,733.8 765.0,732.8 766.0,732.0 767.0,729.1 768.0,732.4 769.0,732.5 770.0,731.7 771.0,733.5 772.0,733.8 773.0,733.6 774.0,733.1 775.0,731.3 776.0,729.2 777.0,730.6 778.0,730.0 779.0,728.9 780.0,728.4 781.0,729.0 782.0,729.2 783.0,728.2 784.0,726.3 785.0,724.5 786.0,727.6 787.0,728.5 788.0,729.2 789.0,729.3 790.0,728.6 791.0,727.6 792.0,726.2 793.0,725.9 794.0,725.3 795.0,723.6 796.0,723.6 797.0,723.6 798.0,722.5 799.0,721.0 800.0,719.8 801.0,720.9 802.0,721.6 803.0,720.5 804.0,720.0 805.0,720.2 806.0,722.2 807.0,720.2 808.0,719.5 809.0,719.7 810.0,719.5 811.0,719.1 812.0,718.7 813.0,718.2 814.0,717.5 815.0,717.2 816.0,716.8 817.0,715.5 818.0,714.2 819.0,712.2 820.0,711.2 821.0,712.0 822.0,712.0 823.0,709.5 824.0,710.3 825.0,711.1 826.0,710.7 827.0,710.6 828.0,710.4 829.0,710.6 830.0,710.9 831.0,709.8 832.0,708.8 833.0,708.6 834.0,708.3 835.0,708.0 836.0,707.6 837.0,707.7 838.0,708.0 839.0,707.7 840.0,707.1 841.0,707.6 842.0,706.3 843.0,705.8 844.0,704.4 845.0,704.7 846.0,703.7 847.0,705.6 848.0,705.4 849.0,703.7 850.0,701.8 851.0,701.3 852.0,701.2 853.0,702.0 854.0,703.0 855.0,702.7 856.0,702.5 857.0,701.9 858.0,701.3 859.0,701.9 860.0,702.4 861.0,703.8 862.0,704.1 863.0,703.7 864.0,702.7 865.0,702.7 866.0,703.0 867.0,703.2 868.0,702.4 869.0,701.8 870.0,701.2 871.0,702.2 872.0,703.2 873.0,702.8 874.0,702.4 875.0,701.4 876.0,700.6 877.0,699.8 878.0,700.9 879.0,701.9 880.0,701.2 881.0,700.1 882.0,699.2 883.0,697.3 884.0,696.0 885.0,694.8 886.0,693.8 887.0,691.7 888.0,690.3 889.0,692.0 890.0,692.7 891.0,694.1 892.0,694.3 893.0,694.0 894.0,694.4 895.0,693.7 896.0,693.7 897.0,691.1 898.0,691.6 899.0,692.9 900.0,692.8 901.0,691.2 902.0,693.9 903.0,690.9 904.0,692.5 905.0,694.1 906.0,695.0 907.0,694.2 908.0,694.9 909.0,694.0 910.0,693.2 911.0,692.3 912.0,693.6 913.0,693.9 914.0,693.6 915.0,692.6 916.0,693.5 917.0,693.2 918.0,694.2 919.0,695.2 920.0,696.2 921.0,696.2 922.0,696.1 923.0,696.9 924.0,697.0 925.0,697.5 926.0,697.6 927.0,697.8 928.0,698.6 929.0,698.1 930.0,698.2 931.0,697.9 932.0,697.1 933.0,698.7 934.0,698.8 935.0,698.6 936.0,697.2 937.0,696.6 938.0,696.0 939.0,695.5 940.0,695.4 941.0,695.1 942.0,695.5 943.0,695.8 944.0,695.5 945.0,695.5 946.0,695.4 947.0,695.2 948.0,694.3 949.0,694.0 950.0,696.7 951.0,699.3 952.0,699.7 953.0,699.9 954.0,699.1 955.0,700.7 956.0,702.2 957.0,701.6 958.0,701.3 959.0,701.7 960.0,702.3 961.0,703.0 962.0,703.1 963.0,703.3 964.0,703.1 965.0,701.7 966.0,703.4 967.0,703.7 968.0,703.9 969.0,703.6 970.0,703.2 971.0,703.6 972.0,703.9 973.0,702.9 974.0,703.3 975.0,702.6 976.0,702.2 977.0,701.9 978.0,702.0 979.0,702.8 980.0,704.8 981.0,706.1 982.0,707.3 983.0,707.6 984.0,703.9 985.0,706.3 986.0,706.9 987.0,707.5 988.0,707.4 989.0,707.6 990.0,708.1 991.0,708.5 992.0,709.0 993.0,710.3 994.0,711.6 995.0,711.3 996.0,710.8 997.0,712.6 998.0,714.2 999.0,712.9 1000.0,712.6 1001.0,712.5 1002.0,712.5 1003.0,712.6 1004.0,712.8 1005.0,712.3 1006.0,713.1 1007.0,713.3 1008.0,713.7 1009.0,714.0 1010.0,715.2 1011.0,714.4 1012.0,713.6 1013.0,715.8 1014.0,716.4 1015.0,717.0 1016.0,717.5 1017.0,717.5 1018.0,717.1 1019.0,717.6 1020.0,718.2 1021.0,719.3 1022.0,719.1 1023.0,718.9 1024.0,719.0 1025.0,719.1 1026.0,719.3 1027.0,719.4 1028.0,719.8 1029.0,720.3 1030.0,721.0 1031.0,720.2 1032.0,720.9 1033.0,722.7 1034.0,720.5 1035.0,722.9 1036.0,722.7 1037.0,722.4 1038.0,723.7 1039.0,724.4 1040.0,724.9 1041.0,725.9 1042.0,726.2 1043.0,726.9 1044.0,727.9 1045.0,727.9 1046.0,727.5 1047.0,727.4 1048.0,726.4 1049.0,727.5 1050.0,728.5 1051.0,728.1 1052.0,728.8 1053.0,730.1 1054.0,729.9 1055.0,729.8 1056.0,729.5 1057.0,729.7 1058.0,729.2 1059.0,729.9 1060.0,730.0 1061.0,730.1 1062.0,730.1 1063.0,730.5 1064.0,732.0 1065.0,732.2 1066.0,731.0 1067.0,732.9 1068.0,733.2 1069.0,734.1 1070.0,735.3 1071.0,735.5 1072.0,735.7 1073.0,735.6 1074.0,736.5 1075.0,736.8 1076.0,737.1 1077.0,739.7 1078.0,740.6 1079.0,740.5 1080.0,739.9 1081.0,740.7 1082.0,741.6 1083.0,742.2 1084.0,742.3 1085.0,741.9 1086.0,742.3"/>
<g stroke="#000" stroke-width="1" fill="none" shape-rendering="crispEdges">
<line x1="683.5" y1="690.0" x2="683.5" y2="758.0"/>
<line x1="683.0" y1="757.5" x2="1085.5" y2="757.5"/>
<line x1="683.5" y1="694.5" x2="690.0" y2="694.5"/>
<line x1="683.5" y1="718.5" x2="690.0" y2="718.5"/>
<line x1="683.5" y1="741.5" x2="690.0" y2="741.5"/>
<line x1="752.5" y1="757.5" x2="752.5" y2="751.5"/>
<line x1="852.5" y1="757.5" x2="852.5" y2="751.5"/>
<line x1="952.5" y1="757.5" x2="952.5" y2="751.5"/>
<line x1="1051.5" y1="757.5" x2="1051.5" y2="751.5"/>
</g>
<g fill="#000" font-size="26">
<text transform="translate(883.0,669.9) scale(0.920,1)" text-anchor="middle">Bin 8</text>
<text transform="translate(752.5,792.9) scale(0.900,1)" text-anchor="middle">2350</text>
<text transform="translate(852.5,792.9) scale(0.900,1)" text-anchor="middle">2355</text>
<text transform="translate(952.5,792.9) scale(0.900,1)" text-anchor="middle">2360</text>
<text transform="translate(1051.5,792.9) scale(0.900,1)" text-anchor="middle">2365</text>
<text transform="translate(676.5,706.2) scale(0.900,1)" text-anchor="end">15</text>
<text transform="translate(676.5,729.7) scale(0.900,1)" text-anchor="end">10</text>
<text transform="translate(676.5,753.2) scale(0.900,1)" text-anchor="end">5</text>
<text transform="translate(882.5,830.7) scale(0.940,1)" text-anchor="middle">Wavenumber [cm<tspan font-size="17.5" dy="-11.8">-1</tspan><tspan dy="11.8">]</tspan></text>
<text transform="translate(636.5,724.9) rotate(-90) scale(0.940,1)" text-anchor="middle">ADU</text>
</g>
</svg></body></html>
